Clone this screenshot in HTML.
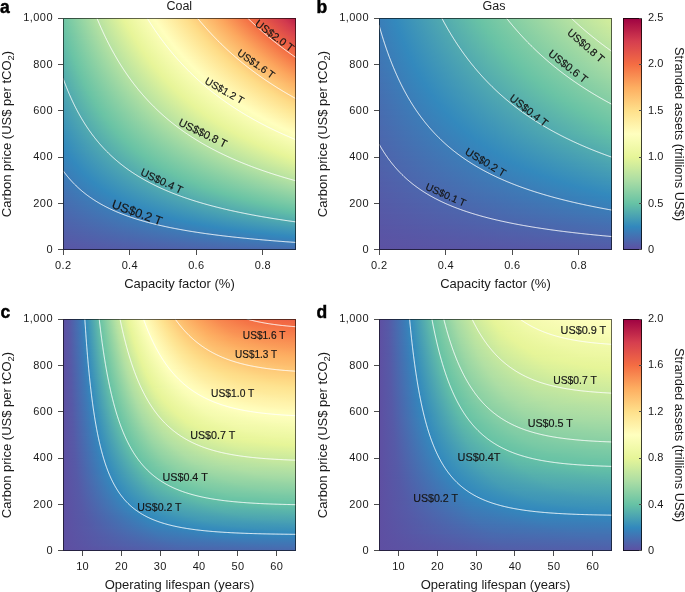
<!DOCTYPE html><html><head><meta charset="utf-8"><style>*{margin:0;padding:0}
html,body{width:685px;height:592px;overflow:hidden;background:#fff}
body{position:relative;font-family:"Liberation Sans",sans-serif;color:#1a1a1a}
.hm{position:absolute}
.hm i{display:block;width:100%}
.cb{position:absolute}
svg{position:absolute;left:0;top:0;filter:grayscale(1)}
</style></head><body><div class="hm" style="left:63px;top:18px;width:233px;height:232px"><i style="height:1px;background:linear-gradient(90deg,#6ec5a5 0.1px,#b5e1a2 32.9px,#e7f599 60.1px,#ffffbe 91.1px,#fedc87 124.9px,#fca75e 157.1px,#f36b43 186.1px,#d23a4e 218.4px,#b81e48 232.9px)"></i><i style="height:1px;background:linear-gradient(90deg,#6ec5a5 0.1px,#b4e1a2 33.1px,#e7f599 60.6px,#ffffbe 91.9px,#fedc87 125.6px,#fca75e 157.9px,#f36c43 187.1px,#d23a4e 219.6px,#bb2149 232.9px)"></i><i style="height:1px;background:linear-gradient(90deg,#6dc5a5 0.1px,#b4e1a2 33.6px,#e7f599 61.1px,#ffffbe 92.4px,#fedc88 126.4px,#fca75e 158.9px,#f36c43 188.1px,#d23a4e 220.9px,#bd2349 232.9px)"></i><i style="height:1px;background:linear-gradient(90deg,#6cc5a5 0.1px,#b4e1a2 33.9px,#e7f599 61.6px,#ffffbe 93.1px,#fedc88 127.1px,#fca75e 159.9px,#f36b43 189.4px,#d13a4e 222.1px,#bf254a 232.9px)"></i><i style="height:1px;background:linear-gradient(90deg,#6cc4a5 0.1px,#b4e1a2 34.4px,#e7f599 62.1px,#fffebe 93.9px,#fedc88 127.9px,#fca75e 160.9px,#f36b43 190.4px,#d23a4e 223.1px,#c1284a 232.9px)"></i><i style="height:1px;background:linear-gradient(90deg,#6bc4a5 0.1px,#b4e1a2 34.9px,#e7f599 62.6px,#ffffbe 94.4px,#fedc87 128.9px,#fca75e 161.6px,#f36c43 191.4px,#d23a4e 224.4px,#c32a4b 232.9px)"></i><i style="height:1px;background:linear-gradient(90deg,#6bc4a5 0.1px,#b4e1a2 35.1px,#e7f599 63.4px,#ffffbe 95.1px,#fedc87 129.6px,#fca75e 162.6px,#f36b43 192.6px,#d23a4e 225.6px,#c52d4b 232.9px)"></i><i style="height:1px;background:linear-gradient(90deg,#6ac4a5 0.1px,#b4e1a2 35.6px,#e7f599 63.9px,#ffffbe 95.9px,#fedc88 130.4px,#fca75e 163.6px,#f36b43 193.6px,#d23a4e 226.9px,#c72f4c 232.9px)"></i><i style="height:1px;background:linear-gradient(90deg,#69c3a5 0.1px,#b4e1a2 36.1px,#e7f599 64.4px,#ffffbe 96.4px,#fedc87 131.4px,#fca75e 164.6px,#f36c43 194.6px,#d23a4e 228.1px,#ca314c 232.9px)"></i><i style="height:1px;background:linear-gradient(90deg,#69c3a5 0.1px,#b4e1a2 36.4px,#e7f599 64.9px,#ffffbe 97.1px,#fedc87 132.1px,#fca75e 165.6px,#f36b43 195.9px,#d23a4e 229.4px,#cc344d 232.9px)"></i><i style="height:1px;background:linear-gradient(90deg,#68c3a5 0.1px,#b4e1a2 36.9px,#e7f599 65.6px,#ffffbe 97.9px,#fedc88 132.9px,#fca75e 166.6px,#f36c43 196.9px,#d23a4e 230.6px,#ce364d 232.9px)"></i><i style="height:1px;background:linear-gradient(90deg,#68c3a5 0.1px,#b4e1a2 37.4px,#e7f599 66.1px,#ffffbe 98.6px,#fedc87 133.9px,#fca75e 167.6px,#f36b43 198.1px,#d23a4e 231.9px,#d0384e 232.9px)"></i><i style="height:1px;background:linear-gradient(90deg,#67c2a5 0.1px,#b4e1a2 37.9px,#e7f599 66.6px,#ffffbe 99.4px,#fedc88 134.6px,#fca75e 168.6px,#f36c43 199.1px,#d23b4e 232.9px)"></i><i style="height:1px;background:linear-gradient(90deg,#67c2a5 0.1px,#b4e1a2 38.4px,#e7f599 67.1px,#ffffbf 99.9px,#fedc87 135.6px,#fca75e 169.6px,#f36b43 200.4px,#d43d4f 232.9px)"></i><i style="height:1px;background:linear-gradient(90deg,#66c2a5 0.1px,#b4e1a2 38.6px,#e7f599 67.9px,#ffffbe 100.6px,#fedc88 136.4px,#fca75e 170.6px,#f36b43 201.6px,#d63f4f 232.9px)"></i><i style="height:1px;background:linear-gradient(90deg,#65c1a5 0.1px,#b5e1a2 39.4px,#e7f599 68.4px,#ffffbe 101.4px,#fedc87 137.4px,#fca75e 171.6px,#f36b43 202.6px,#d7414e 232.9px)"></i><i style="height:1px;background:linear-gradient(90deg,#65c1a5 0.1px,#b5e1a2 39.9px,#e7f599 68.9px,#ffffbe 102.1px,#fedc88 138.1px,#fca75e 172.6px,#f36b43 203.9px,#d8434e 232.9px)"></i><i style="height:1px;background:linear-gradient(90deg,#65c0a6 0.1px,#b5e1a2 40.4px,#e7f599 69.6px,#ffffbe 102.9px,#fedc87 139.1px,#fca75e 173.9px,#f36b43 205.1px,#d9454d 232.9px)"></i><i style="height:1px;background:linear-gradient(90deg,#64c0a6 0.1px,#b5e1a2 41.1px,#e7f599 70.1px,#ffffbe 103.6px,#fedc88 139.9px,#fca75e 174.9px,#f36b43 206.4px,#db474d 232.9px)"></i><i style="height:1px;background:linear-gradient(90deg,#64bfa6 0.1px,#b5e1a2 41.6px,#e7f599 70.9px,#ffffbe 104.4px,#fedc88 140.9px,#fca75e 175.9px,#f36c43 207.4px,#dc484c 232.9px)"></i><i style="height:1px;background:linear-gradient(90deg,#63bfa6 0.1px,#8ed2a4 21.6px,#b7e2a2 43.1px,#e7f599 71.4px,#ffffbe 105.1px,#fedc87 141.9px,#fca75e 177.1px,#f36b43 208.6px,#dd4a4c 232.9px)"></i><i style="height:1px;background:linear-gradient(90deg,#63bea6 0.1px,#76c8a5 10.1px,#b5e1a2 42.4px,#e7f599 72.1px,#ffffbe 105.9px,#fedc87 142.9px,#fca75e 178.1px,#f36b43 209.9px,#de4c4b 232.9px)"></i><i style="height:1px;background:linear-gradient(90deg,#62bea7 0.1px,#71c6a5 7.9px,#b4e1a2 42.6px,#e7f599 72.6px,#ffffbe 106.6px,#fedc88 143.6px,#fca75e 179.1px,#f36b43 211.1px,#df4e4b 232.9px)"></i><i style="height:1px;background:linear-gradient(90deg,#62bda7 0.1px,#6ec5a5 7.1px,#b4e1a2 43.1px,#e7f599 73.4px,#fffebe 107.6px,#fedc88 144.6px,#fca75e 180.4px,#f36b43 212.4px,#e1504a 232.9px)"></i><i style="height:1px;background:linear-gradient(90deg,#61bda7 0.1px,#6ec5a5 7.1px,#b4e1a2 43.6px,#e7f599 73.9px,#ffffbe 108.4px,#fedc88 145.6px,#fca75e 181.4px,#f36b43 213.6px,#e2524a 232.9px)"></i><i style="height:1px;background:linear-gradient(90deg,#61bca7 0.1px,#6dc5a5 7.1px,#b4e1a2 44.1px,#e7f599 74.6px,#ffffbe 109.1px,#fedc87 146.6px,#fca75e 182.6px,#f36c43 214.9px,#e3534a 232.9px)"></i><i style="height:1px;background:linear-gradient(90deg,#61bca8 0.1px,#6cc4a5 6.9px,#b4e1a2 44.6px,#e7f599 75.1px,#ffffbe 109.9px,#fedc87 147.6px,#fca75e 183.6px,#f36c43 216.1px,#e45549 232.9px)"></i><i style="height:1px;background:linear-gradient(90deg,#60bba8 0.1px,#6cc4a5 7.1px,#b4e1a2 45.1px,#e7f599 75.9px,#ffffbe 110.6px,#fedc87 148.6px,#fca75e 184.9px,#f36b43 217.6px,#e65749 232.9px)"></i><i style="height:1px;background:linear-gradient(90deg,#60bba8 0.1px,#6cc4a5 7.4px,#b4e1a2 45.6px,#e7f599 76.6px,#ffffbe 111.6px,#fedc87 149.6px,#fca75e 185.9px,#f36b43 218.9px,#e75948 232.9px)"></i><i style="height:1px;background:linear-gradient(90deg,#5fbaa8 0.1px,#6bc4a5 7.6px,#b4e1a2 46.1px,#e7f599 77.1px,#ffffbe 112.4px,#fedc87 150.6px,#fca75e 187.1px,#f36b43 220.1px,#e85b48 232.9px)"></i><i style="height:1px;background:linear-gradient(90deg,#5fbaa8 0.1px,#6bc4a5 7.6px,#b4e1a2 46.6px,#e7f599 77.9px,#ffffbe 113.1px,#fedc87 151.6px,#fca75e 188.4px,#f36b43 221.6px,#e95d47 232.9px)"></i><i style="height:1px;background:linear-gradient(90deg,#5eb9a9 0.1px,#6bc4a5 8.1px,#b4e1a2 47.1px,#e7f599 78.6px,#ffffbe 114.1px,#fedc87 152.6px,#fca75e 189.6px,#f36b43 222.9px,#ea5e47 232.9px)"></i><i style="height:1px;background:linear-gradient(90deg,#5eb9a9 0.1px,#6bc4a5 8.4px,#b4e1a2 47.6px,#e7f599 79.1px,#ffffbe 114.9px,#fedc88 153.6px,#fca75e 190.9px,#f36c43 224.1px,#ec6046 232.9px)"></i><i style="height:1px;background:linear-gradient(90deg,#5db8a9 0.1px,#6bc4a5 8.6px,#b4e1a2 48.1px,#e7f599 79.9px,#fffebe 115.9px,#fedc88 154.6px,#fca75e 191.9px,#f36b43 225.6px,#ed6246 232.9px)"></i><i style="height:1px;background:linear-gradient(90deg,#5db8a9 0.1px,#6ac4a5 8.9px,#b4e1a2 48.9px,#e7f599 80.6px,#ffffbe 116.6px,#fedc88 155.6px,#fca75e 193.1px,#f36c43 226.9px,#ee6445 232.9px)"></i><i style="height:1px;background:linear-gradient(90deg,#5cb7a9 0.1px,#6ac4a5 9.1px,#b4e1a2 49.4px,#e7f599 81.4px,#ffffbe 117.4px,#fedc87 156.9px,#fca75e 194.4px,#f36b43 228.4px,#ef6645 232.9px)"></i><i style="height:1px;background:linear-gradient(90deg,#5cb7aa 0.1px,#6bc4a5 9.6px,#b4e1a2 49.9px,#e7f599 81.9px,#ffffbe 118.4px,#fedc87 157.9px,#fca75e 195.6px,#f36b43 229.9px,#f06844 232.9px)"></i><i style="height:1px;background:linear-gradient(90deg,#5cb6aa 0.1px,#6ac4a5 9.9px,#b4e1a2 50.4px,#e7f599 82.6px,#fffebe 119.4px,#fedc88 158.9px,#fca75e 196.9px,#f36c43 231.1px,#f26944 232.9px)"></i><i style="height:1px;background:linear-gradient(90deg,#5bb6aa 0.1px,#6ac4a5 10.1px,#b4e1a2 50.9px,#e7f599 83.4px,#ffffbe 120.1px,#fedc88 159.9px,#fca75e 198.1px,#f36b43 232.6px,#f36b43 232.9px)"></i><i style="height:1px;background:linear-gradient(90deg,#5bb5aa 0.1px,#6ac4a5 10.6px,#b4e1a2 51.6px,#e7f599 84.1px,#ffffbe 121.1px,#fedc88 161.1px,#fca75e 199.6px,#f46d43 232.9px)"></i><i style="height:1px;background:linear-gradient(90deg,#5ab5aa 0.1px,#6ac4a5 10.9px,#b4e1a2 52.1px,#e7f599 84.9px,#fffebe 122.1px,#fedc88 162.1px,#fca75e 200.9px,#f47044 232.9px)"></i><i style="height:1px;background:linear-gradient(90deg,#5ab4ab 0.1px,#6ac4a5 11.4px,#b4e1a2 52.9px,#e7f599 85.6px,#ffffbe 122.9px,#fedc87 163.4px,#fca75e 202.1px,#f57245 232.9px)"></i><i style="height:1px;background:linear-gradient(90deg,#59b4ab 0.1px,#6ac4a5 11.6px,#b4e1a2 53.4px,#e7f599 86.4px,#ffffbe 123.9px,#fedc88 164.4px,#fca75e 203.4px,#f57546 232.9px)"></i><i style="height:1px;background:linear-gradient(90deg,#59b3ab 0.1px,#6ac3a5 11.9px,#b4e1a2 53.9px,#e7f599 87.1px,#ffffbe 124.9px,#fedc88 165.6px,#fca75e 204.9px,#f57748 232.9px)"></i><i style="height:1px;background:linear-gradient(90deg,#58b3ab 0.1px,#6ac4a5 12.4px,#b4e1a2 54.6px,#e7f599 87.9px,#fffebe 125.9px,#fedc87 166.9px,#fca75e 206.1px,#f67a49 232.9px)"></i><i style="height:1px;background:linear-gradient(90deg,#58b2ab 0.1px,#6ac3a5 12.6px,#b4e1a2 55.1px,#e7f599 88.6px,#ffffbe 126.6px,#fedc88 167.9px,#fca75e 207.6px,#f67c4a 232.9px)"></i><i style="height:1px;background:linear-gradient(90deg,#58b2ac 0.1px,#6ac4a5 13.1px,#b4e1a2 55.6px,#e7f599 89.4px,#ffffbe 127.6px,#fedc88 169.1px,#fca75e 208.9px,#f67f4b 232.9px)"></i><i style="height:1px;background:linear-gradient(90deg,#57b1ac 0.1px,#6ac4a5 13.6px,#b4e1a2 56.4px,#e7f599 90.4px,#ffffbe 128.6px,#fedc87 170.4px,#fca75e 210.4px,#f7814c 232.9px)"></i><i style="height:1px;background:linear-gradient(90deg,#57b1ac 0.1px,#6ac3a5 13.9px,#b4e1a2 56.9px,#e7f599 91.1px,#ffffbe 129.6px,#fedc87 171.6px,#fca75e 211.6px,#f7844e 232.9px)"></i><i style="height:1px;background:linear-gradient(90deg,#56b0ac 0.1px,#6ac4a5 14.4px,#b4e1a2 57.6px,#e7f599 91.9px,#ffffbe 130.6px,#fedc87 172.9px,#fca75e 213.1px,#f8864f 232.9px)"></i><i style="height:1px;background:linear-gradient(90deg,#56b0ad 0.1px,#6ac3a5 14.6px,#b4e1a2 58.4px,#e7f599 92.6px,#ffffbe 131.6px,#fedc88 173.9px,#fca75e 214.6px,#f88950 232.9px)"></i><i style="height:1px;background:linear-gradient(90deg,#55afad 0.1px,#6ac3a5 15.1px,#b4e1a2 58.9px,#e7f599 93.6px,#ffffbe 132.6px,#fedc88 175.1px,#fca75e 216.1px,#f88b51 232.9px)"></i><i style="height:1px;background:linear-gradient(90deg,#55afad 0.1px,#6ac4a5 15.6px,#b4e1a2 59.6px,#e7f599 94.4px,#fffebe 133.9px,#fedc88 176.4px,#fca75e 217.4px,#f98e52 232.9px)"></i><i style="height:1px;background:linear-gradient(90deg,#54aead 0.1px,#6ac3a5 15.9px,#b4e1a2 60.1px,#e7f599 95.1px,#ffffbe 134.9px,#fedc87 177.9px,#fca75e 219.1px,#f99053 232.9px)"></i><i style="height:1px;background:linear-gradient(90deg,#54aead 0.1px,#6ac3a5 16.4px,#b4e1a2 60.9px,#e7f599 96.1px,#ffffbe 135.9px,#fedc87 179.1px,#fca75e 220.6px,#f99355 232.9px)"></i><i style="height:1px;background:linear-gradient(90deg,#53adae 0.1px,#6ac4a5 16.9px,#b4e1a2 61.6px,#e7f599 96.9px,#ffffbe 136.9px,#fedc87 180.4px,#fca75e 222.1px,#fa9556 232.9px)"></i><i style="height:1px;background:linear-gradient(90deg,#53adae 0.1px,#6ac3a5 17.1px,#b4e1a2 62.4px,#e7f599 97.9px,#fffebe 138.1px,#fedc88 181.6px,#fca75e 223.6px,#fa9857 232.9px)"></i><i style="height:1px;background:linear-gradient(90deg,#53acae 0.1px,#6ac3a5 17.6px,#b4e1a2 62.9px,#e7f599 98.6px,#ffffbe 139.1px,#fedc88 182.9px,#fca75e 225.1px,#fa9b58 232.9px)"></i><i style="height:1px;background:linear-gradient(90deg,#52acae 0.1px,#6ac3a5 18.1px,#b4e1a2 63.6px,#e7f599 99.6px,#ffffbe 140.1px,#fedc87 184.4px,#fca75e 226.6px,#fb9d59 232.9px)"></i><i style="height:1px;background:linear-gradient(90deg,#52abae 0.1px,#6ac3a5 18.6px,#b4e1a2 64.4px,#e7f599 100.4px,#ffffbe 141.4px,#fedc88 185.6px,#fca75e 228.1px,#fba05a 232.9px)"></i><i style="height:1px;background:linear-gradient(90deg,#51abaf 0.1px,#6ac3a5 19.1px,#b4e1a2 65.1px,#e7f599 101.4px,#ffffbe 142.4px,#fedc87 187.1px,#fca75e 229.9px,#fba25c 232.9px)"></i><i style="height:1px;background:linear-gradient(90deg,#51aaaf 0.1px,#69c3a5 19.4px,#b4e1a2 65.6px,#e7f599 102.4px,#ffffbe 143.6px,#fedc88 188.4px,#fca75e 231.4px,#fca55d 232.9px)"></i><i style="height:1px;background:linear-gradient(90deg,#50aaaf 0.1px,#6ac3a5 19.9px,#b4e1a2 66.4px,#e7f599 103.1px,#ffffbe 144.6px,#fedc87 189.9px,#fca75e 232.9px)"></i><i style="height:1px;background:linear-gradient(90deg,#50a9af 0.1px,#6ac3a5 20.4px,#b4e1a2 67.1px,#e7f599 104.1px,#ffffbe 145.9px,#fedc88 191.1px,#fcaa5f 232.9px)"></i><i style="height:1px;background:linear-gradient(90deg,#4fa9af 0.1px,#6ac3a5 20.9px,#b4e1a2 67.9px,#e7f599 105.1px,#ffffbe 147.1px,#fedc88 192.6px,#fdac60 232.9px)"></i><i style="height:1px;background:linear-gradient(90deg,#4fa8b0 0.1px,#6ac3a5 21.4px,#b4e1a2 68.6px,#e7f599 106.1px,#ffffbe 148.4px,#fedc87 194.1px,#fdaf62 232.9px)"></i><i style="height:1px;background:linear-gradient(90deg,#4ea8b0 0.1px,#6ac3a5 21.9px,#b4e1a2 69.4px,#e7f599 106.9px,#ffffbe 149.4px,#fedc87 195.6px,#fdb163 232.9px)"></i><i style="height:1px;background:linear-gradient(90deg,#4ea7b0 0.1px,#6ac3a5 22.4px,#b4e1a2 70.1px,#e7f599 107.9px,#ffffbe 150.6px,#fedc87 197.1px,#fdb265 232.9px)"></i><i style="height:1px;background:linear-gradient(90deg,#4ea7b0 0.1px,#6ac3a5 22.9px,#b4e1a2 70.9px,#e7f599 108.9px,#ffffbe 151.9px,#fedc87 198.6px,#fdb466 232.9px)"></i><i style="height:1px;background:linear-gradient(90deg,#4da6b0 0.1px,#6ac3a5 23.4px,#b4e1a2 71.9px,#e7f599 109.9px,#ffffbe 153.1px,#fedc87 200.1px,#fdb668 232.9px)"></i><i style="height:1px;background:linear-gradient(90deg,#4da6b1 0.1px,#6ac3a5 23.9px,#b4e1a2 72.6px,#e7f599 110.9px,#ffffbe 154.4px,#fedc87 201.6px,#fdb86a 232.9px)"></i><i style="height:1px;background:linear-gradient(90deg,#4ca5b1 0.1px,#6ac3a5 24.4px,#b4e1a2 73.4px,#e7f599 111.9px,#ffffbe 155.6px,#fedc87 203.1px,#fdba6b 232.9px)"></i><i style="height:1px;background:linear-gradient(90deg,#4ca5b1 0.1px,#6ac3a5 24.9px,#b4e1a2 74.1px,#e7f599 113.1px,#fffebe 157.1px,#fedc88 204.6px,#fdbc6d 232.9px)"></i><i style="height:1px;background:linear-gradient(90deg,#4ba4b1 0.1px,#69c3a5 25.4px,#b4e1a2 75.1px,#e7f599 114.1px,#ffffbe 158.4px,#fedc87 206.4px,#fdbe6f 232.9px)"></i><i style="height:1px;background:linear-gradient(90deg,#4ba4b2 0.1px,#69c3a5 25.9px,#b4e1a2 75.9px,#e7f599 115.1px,#ffffbe 159.6px,#fedc87 207.9px,#fdc070 232.9px)"></i><i style="height:1px;background:linear-gradient(90deg,#4aa3b2 0.1px,#69c3a5 26.4px,#b4e1a2 76.6px,#e7f599 116.1px,#ffffbe 160.9px,#fedc88 209.4px,#fdc272 232.9px)"></i><i style="height:1px;background:linear-gradient(90deg,#4aa3b2 0.1px,#6ac3a5 27.1px,#b4e1a2 77.6px,#e7f599 117.4px,#ffffbe 162.4px,#fedc88 211.1px,#fdc473 232.9px)"></i><i style="height:1px;background:linear-gradient(90deg,#4aa2b2 0.1px,#6ac3a5 27.6px,#b4e1a2 78.4px,#e7f599 118.4px,#ffffbe 163.6px,#fedc87 212.9px,#fdc675 232.9px)"></i><i style="height:1px;background:linear-gradient(90deg,#49a2b2 0.1px,#69c3a5 28.1px,#b4e1a2 79.4px,#e7f599 119.6px,#ffffbe 165.1px,#fedc88 214.4px,#fec877 232.9px)"></i><i style="height:1px;background:linear-gradient(90deg,#49a1b3 0.1px,#69c3a5 28.6px,#b4e1a2 80.1px,#e7f599 120.6px,#ffffbe 166.4px,#fedc88 216.1px,#feca78 232.9px)"></i><i style="height:1px;background:linear-gradient(90deg,#48a1b3 0.1px,#6ac3a5 29.4px,#b4e1a2 81.1px,#e7f599 121.9px,#ffffbe 167.9px,#fedc88 217.9px,#fecc7a 232.9px)"></i><i style="height:1px;background:linear-gradient(90deg,#48a0b3 0.1px,#69c3a5 29.9px,#b4e1a2 81.9px,#e7f599 122.9px,#ffffbe 169.4px,#fedc87 219.6px,#fece7c 232.9px)"></i><i style="height:1px;background:linear-gradient(90deg,#47a0b3 0.1px,#69c3a5 30.4px,#b4e1a2 82.9px,#e7f599 124.1px,#fffebe 170.9px,#fedc88 221.4px,#fed07d 232.9px)"></i><i style="height:1px;background:linear-gradient(90deg,#479fb3 0.1px,#6ac3a5 31.1px,#b4e1a2 83.9px,#e7f599 125.4px,#ffffbe 172.1px,#fedc88 223.1px,#fed27f 232.9px)"></i><i style="height:1px;background:linear-gradient(90deg,#469fb4 0.1px,#69c3a5 31.6px,#b4e1a2 84.6px,#e7f599 126.4px,#ffffbe 173.6px,#fedc88 224.9px,#fed481 232.9px)"></i><i style="height:1px;background:linear-gradient(90deg,#469eb4 0.1px,#6ac3a5 32.4px,#b4e1a2 85.6px,#e7f599 127.6px,#ffffbe 175.1px,#fedc87 226.9px,#fed682 232.9px)"></i><i style="height:1px;background:linear-gradient(90deg,#459eb4 0.1px,#69c3a5 32.9px,#b4e1a2 86.6px,#e7f599 128.9px,#fffebe 176.9px,#fedc88 228.6px,#fed784 232.9px)"></i><i style="height:1px;background:linear-gradient(90deg,#459db4 0.1px,#6ac3a5 33.6px,#b4e1a2 87.6px,#e7f599 130.1px,#ffffbe 178.4px,#fedc87 230.6px,#fed985 232.9px)"></i><i style="height:1px;background:linear-gradient(90deg,#459db4 0.1px,#69c3a5 34.1px,#b4e1a2 88.6px,#e7f599 131.4px,#ffffbe 179.9px,#fedc88 232.4px,#fedb87 232.9px)"></i><i style="height:1px;background:linear-gradient(90deg,#449cb5 0.1px,#6ac3a5 34.9px,#b4e1a2 89.6px,#e7f599 132.6px,#ffffbe 181.4px,#fedd89 232.9px)"></i><i style="height:1px;background:linear-gradient(90deg,#449cb5 0.1px,#69c3a5 35.4px,#b4e1a2 90.6px,#e7f599 133.9px,#ffffbe 183.1px,#fedf8a 232.9px)"></i><i style="height:1px;background:linear-gradient(90deg,#439bb5 0.1px,#69c3a5 36.1px,#b4e1a2 91.6px,#e7f599 135.4px,#ffffbe 184.6px,#fee18c 232.9px)"></i><i style="height:1px;background:linear-gradient(90deg,#439bb5 0.1px,#6ac3a5 36.9px,#b4e1a2 92.6px,#e7f599 136.6px,#ffffbe 186.4px,#fee28e 232.9px)"></i><i style="height:1px;background:linear-gradient(90deg,#429ab5 0.1px,#69c3a5 37.4px,#b4e1a2 93.6px,#e7f599 137.9px,#fffebe 188.1px,#fee390 232.9px)"></i><i style="height:1px;background:linear-gradient(90deg,#429ab6 0.1px,#69c3a5 38.1px,#b4e1a2 94.9px,#e7f599 139.4px,#ffffbe 189.6px,#fee492 232.9px)"></i><i style="height:1px;background:linear-gradient(90deg,#4199b6 0.1px,#69c3a5 38.9px,#b4e1a2 95.9px,#e7f599 140.6px,#ffffbe 191.4px,#fee694 232.9px)"></i><i style="height:1px;background:linear-gradient(90deg,#4199b6 0.1px,#69c3a5 39.6px,#b4e1a2 96.9px,#e7f599 142.1px,#ffffbe 193.1px,#fee796 232.9px)"></i><i style="height:1px;background:linear-gradient(90deg,#4198b6 0.1px,#6ac3a5 40.4px,#b4e1a2 98.1px,#e7f599 143.4px,#ffffbe 194.9px,#fee898 232.9px)"></i><i style="height:1px;background:linear-gradient(90deg,#4098b7 0.1px,#6ac3a5 41.1px,#b4e1a2 99.1px,#e7f599 144.9px,#ffffbe 196.6px,#fee99a 232.9px)"></i><i style="height:1px;background:linear-gradient(90deg,#4097b7 0.1px,#6ac3a5 41.9px,#b4e1a2 100.4px,#e7f599 146.4px,#fffebe 198.6px,#feea9c 232.9px)"></i><i style="height:1px;background:linear-gradient(90deg,#3f97b7 0.1px,#6ac3a5 42.6px,#b4e1a2 101.4px,#e7f599 147.9px,#ffffbe 200.4px,#feec9e 232.9px)"></i><i style="height:1px;background:linear-gradient(90deg,#3f96b7 0.1px,#6ac3a5 43.4px,#b4e1a2 102.6px,#e7f599 149.4px,#ffffbe 202.1px,#feeda1 232.9px)"></i><i style="height:1px;background:linear-gradient(90deg,#3e96b7 0.1px,#6ac3a5 44.1px,#b4e1a2 103.9px,#e7f599 150.9px,#ffffbe 204.1px,#feeea3 232.9px)"></i><i style="height:1px;background:linear-gradient(90deg,#3e95b8 0.1px,#69c3a5 44.9px,#b4e1a2 105.1px,#e7f599 152.4px,#fffebe 206.1px,#feefa5 232.9px)"></i><i style="height:1px;background:linear-gradient(90deg,#3d95b8 0.1px,#69c3a5 45.6px,#b4e1a2 106.4px,#e7f599 153.9px,#ffffbe 207.9px,#fff0a7 232.9px)"></i><i style="height:1px;background:linear-gradient(90deg,#3d94b8 0.1px,#69c3a5 46.4px,#b4e1a2 107.6px,#e7f599 155.6px,#ffffbe 209.9px,#fff2a9 232.9px)"></i><i style="height:1px;background:linear-gradient(90deg,#3c94b8 0.1px,#69c3a5 47.1px,#b4e1a2 108.9px,#e7f599 157.1px,#ffffbe 211.9px,#fff3ab 232.9px)"></i><i style="height:1px;background:linear-gradient(90deg,#3c93b8 0.1px,#69c3a5 48.1px,#b4e1a2 110.1px,#e7f599 158.9px,#ffffbe 213.9px,#fff4ad 232.9px)"></i><i style="height:1px;background:linear-gradient(90deg,#3c93b9 0.1px,#69c3a5 48.9px,#b4e1a2 111.4px,#e7f599 160.4px,#fffebe 216.1px,#fff5af 232.9px)"></i><i style="height:1px;background:linear-gradient(90deg,#3b92b9 0.1px,#6ac3a5 49.9px,#b4e1a2 112.6px,#e7f599 162.1px,#ffffbe 218.1px,#fff6b1 232.9px)"></i><i style="height:1px;background:linear-gradient(90deg,#3b92b9 0.1px,#69c3a5 50.6px,#b4e1a2 114.1px,#e7f599 163.9px,#ffffbe 220.1px,#fff8b3 232.9px)"></i><i style="height:1px;background:linear-gradient(90deg,#3a91b9 0.1px,#69c3a5 51.4px,#b4e1a2 115.4px,#e7f599 165.6px,#ffffbe 222.4px,#fff9b5 232.9px)"></i><i style="height:1px;background:linear-gradient(90deg,#3a91b9 0.1px,#69c3a5 52.4px,#b4e1a2 116.6px,#e7f599 167.4px,#ffffbe 224.6px,#fffab7 232.9px)"></i><i style="height:1px;background:linear-gradient(90deg,#3990ba 0.1px,#69c3a5 53.4px,#b4e1a2 118.1px,#e7f599 169.1px,#fffebe 226.9px,#fffbb9 232.9px)"></i><i style="height:1px;background:linear-gradient(90deg,#3990ba 0.1px,#69c3a5 54.1px,#b4e1a2 119.6px,#e7f599 170.9px,#fffebe 229.1px,#fffdbb 232.9px)"></i><i style="height:1px;background:linear-gradient(90deg,#388fba 0.1px,#69c3a5 55.1px,#b4e1a2 120.9px,#e7f599 172.6px,#fffebe 231.4px,#fffebd 232.9px)"></i><i style="height:1px;background:linear-gradient(90deg,#388fba 0.1px,#69c3a5 56.1px,#b4e1a2 122.4px,#e7f599 174.6px,#ffffbf 232.9px)"></i><i style="height:1px;background:linear-gradient(90deg,#378eba 0.1px,#69c3a5 57.1px,#b4e1a2 123.9px,#e7f599 176.4px,#feffbe 232.9px)"></i><i style="height:1px;background:linear-gradient(90deg,#378ebb 0.1px,#69c3a5 58.1px,#b4e1a2 125.4px,#e7f599 178.4px,#fdfebc 232.9px)"></i><i style="height:1px;background:linear-gradient(90deg,#378dbb 0.1px,#6ac3a5 59.1px,#b4e1a2 126.9px,#e7f599 180.4px,#fcfebb 232.9px)"></i><i style="height:1px;background:linear-gradient(90deg,#368dbb 0.1px,#69c3a5 60.1px,#b4e1a2 128.6px,#e7f599 182.4px,#fbfdb9 232.9px)"></i><i style="height:1px;background:linear-gradient(90deg,#368cbb 0.1px,#69c3a5 61.1px,#b4e1a2 130.1px,#e7f599 184.4px,#fafdb8 232.9px)"></i><i style="height:1px;background:linear-gradient(90deg,#358cbc 0.1px,#69c3a5 62.1px,#b4e1a2 131.6px,#e7f599 186.4px,#f9fdb6 232.9px)"></i><i style="height:1px;background:linear-gradient(90deg,#358bbc 0.1px,#69c3a5 63.1px,#b4e1a2 133.4px,#e7f599 188.4px,#f8fcb4 232.9px)"></i><i style="height:1px;background:linear-gradient(90deg,#348bbc 0.1px,#69c3a5 64.1px,#b4e1a2 134.9px,#e7f599 190.6px,#f7fcb3 232.9px)"></i><i style="height:1px;background:linear-gradient(90deg,#348abc 0.1px,#69c3a5 65.4px,#b4e1a2 136.6px,#e7f599 192.6px,#f6fcb1 232.9px)"></i><i style="height:1px;background:linear-gradient(90deg,#338abc 0.1px,#69c3a5 66.4px,#b4e1a2 138.4px,#e7f599 194.9px,#f5fbb0 232.9px)"></i><i style="height:1px;background:linear-gradient(90deg,#3389bd 0.1px,#69c3a5 67.6px,#b4e1a2 140.1px,#e7f599 197.1px,#f4fbae 232.9px)"></i><i style="height:1px;background:linear-gradient(90deg,#3389bd 0.1px,#69c3a5 68.6px,#b4e1a2 141.9px,#e7f599 199.4px,#f3faad 232.9px)"></i><i style="height:1px;background:linear-gradient(90deg,#3288bd 0.1px,#69c3a5 69.9px,#b4e1a2 143.6px,#e7f599 201.6px,#f2faab 232.9px)"></i><i style="height:1px;background:linear-gradient(90deg,#3288bd 0.1px,#69c3a5 71.1px,#b4e1a2 145.6px,#e7f599 204.1px,#f1faaa 232.9px)"></i><i style="height:1px;background:linear-gradient(90deg,#3387bd 0.1px,#67c2a5 69.9px,#b4e1a2 147.4px,#e7f599 206.4px,#f0f9a8 232.9px)"></i><i style="height:1px;background:linear-gradient(90deg,#3387bc 0.1px,#348bbc 4.9px,#69c3a5 73.6px,#b4e1a2 149.4px,#e7f599 208.9px,#eff9a7 232.9px)"></i><i style="height:1px;background:linear-gradient(90deg,#3386bc 0.1px,#338abc 4.4px,#69c3a5 74.9px,#b4e1a2 151.4px,#e7f599 211.4px,#eff8a5 232.9px)"></i><i style="height:1px;background:linear-gradient(90deg,#3486bc 0.1px,#338abc 4.9px,#69c3a5 76.1px,#b4e1a2 153.1px,#e7f599 213.9px,#eef8a4 232.9px)"></i><i style="height:1px;background:linear-gradient(90deg,#3485bc 0.1px,#3389bd 5.1px,#69c3a5 77.4px,#b4e1a2 155.1px,#e7f599 216.4px,#edf8a2 232.9px)"></i><i style="height:1px;background:linear-gradient(90deg,#3585bb 0.1px,#3389bc 5.9px,#69c3a5 78.6px,#b4e1a2 157.4px,#e7f599 219.1px,#ecf7a1 232.9px)"></i><i style="height:1px;background:linear-gradient(90deg,#3584bb 0.1px,#3389bd 6.4px,#69c3a5 80.1px,#b4e1a2 159.4px,#e7f599 221.6px,#ebf79f 232.9px)"></i><i style="height:1px;background:linear-gradient(90deg,#3584bb 0.1px,#3389bd 6.9px,#69c3a5 81.4px,#b4e1a2 161.4px,#e7f599 224.4px,#eaf69e 232.9px)"></i><i style="height:1px;background:linear-gradient(90deg,#3683bb 0.1px,#3389bd 7.6px,#69c3a5 82.9px,#b4e1a2 163.6px,#e7f599 227.1px,#e9f69c 232.9px)"></i><i style="height:1px;background:linear-gradient(90deg,#3683ba 0.1px,#3389bd 8.4px,#69c3a5 84.4px,#b4e1a2 165.9px,#e7f599 229.9px,#e8f69b 232.9px)"></i><i style="height:1px;background:linear-gradient(90deg,#3782ba 0.1px,#3389bd 9.1px,#69c3a5 85.6px,#b4e1a2 168.1px,#e7f599 232.9px)"></i><i style="height:1px;background:linear-gradient(90deg,#3782ba 0.1px,#3389bd 9.6px,#69c3a5 87.1px,#b4e1a2 170.4px,#e5f598 232.9px)"></i><i style="height:1px;background:linear-gradient(90deg,#3781ba 0.1px,#3389bd 10.4px,#69c3a5 88.6px,#b4e1a2 172.6px,#e3f499 232.9px)"></i><i style="height:1px;background:linear-gradient(90deg,#3881ba 0.1px,#3389bd 11.1px,#69c3a5 90.4px,#b4e1a2 175.1px,#e1f399 232.9px)"></i><i style="height:1px;background:linear-gradient(90deg,#3880b9 0.1px,#3389bd 11.9px,#69c3a5 91.9px,#b4e1a2 177.6px,#dff29a 232.9px)"></i><i style="height:1px;background:linear-gradient(90deg,#3880b9 0.1px,#3389bd 12.9px,#69c3a5 93.4px,#b4e1a2 180.1px,#dcf19a 232.9px)"></i><i style="height:1px;background:linear-gradient(90deg,#397fb9 0.1px,#3389bd 13.6px,#69c3a5 95.1px,#b4e1a2 182.6px,#daf09a 232.9px)"></i><i style="height:1px;background:linear-gradient(90deg,#397fb9 0.1px,#3389bd 14.4px,#69c3a5 96.9px,#b4e1a2 185.1px,#d8ef9b 232.9px)"></i><i style="height:1px;background:linear-gradient(90deg,#3a7eb8 0.1px,#3389bd 15.1px,#6ac3a5 98.6px,#b4e1a2 187.9px,#d5ee9b 232.9px)"></i><i style="height:1px;background:linear-gradient(90deg,#3a7eb8 0.1px,#3389bd 16.1px,#69c3a5 100.1px,#b4e1a2 190.4px,#d3ed9c 232.9px)"></i><i style="height:1px;background:linear-gradient(90deg,#3a7db8 0.1px,#3389bd 16.9px,#69c3a5 102.1px,#b4e1a2 193.1px,#d1ec9c 232.9px)"></i><i style="height:1px;background:linear-gradient(90deg,#3b7db8 0.1px,#3389bd 17.9px,#69c3a5 103.9px,#b4e1a2 196.1px,#ceeb9d 232.9px)"></i><i style="height:1px;background:linear-gradient(90deg,#3b7cb7 0.1px,#3389bd 18.9px,#69c3a5 105.6px,#b4e1a2 198.9px,#ccea9d 232.9px)"></i><i style="height:1px;background:linear-gradient(90deg,#3b7cb7 0.1px,#3389bd 19.6px,#69c3a5 107.6px,#b4e1a2 201.9px,#caea9e 232.9px)"></i><i style="height:1px;background:linear-gradient(90deg,#3c7bb7 0.1px,#3389bd 20.6px,#69c3a5 109.6px,#b4e1a2 204.9px,#c8e99e 232.9px)"></i><i style="height:1px;background:linear-gradient(90deg,#3c7bb7 0.1px,#3389bd 21.6px,#69c3a5 111.6px,#b4e1a2 207.9px,#c5e89f 232.9px)"></i><i style="height:1px;background:linear-gradient(90deg,#3d7ab6 0.1px,#3389bd 22.6px,#69c3a5 113.6px,#b4e1a2 211.1px,#c3e79f 232.9px)"></i><i style="height:1px;background:linear-gradient(90deg,#3d7ab6 0.1px,#3389bd 23.6px,#69c3a5 115.6px,#b4e1a2 214.4px,#c1e6a0 232.9px)"></i><i style="height:1px;background:linear-gradient(90deg,#3d79b6 0.1px,#3389bd 24.9px,#69c3a5 117.9px,#b4e1a2 217.6px,#bee5a0 232.9px)"></i><i style="height:1px;background:linear-gradient(90deg,#3e79b6 0.1px,#3389bd 25.9px,#6ac3a5 120.1px,#b4e1a2 220.9px,#bce4a1 232.9px)"></i><i style="height:1px;background:linear-gradient(90deg,#3e78b6 0.1px,#3389bd 26.9px,#69c3a5 122.1px,#b4e1a2 224.4px,#bae3a1 232.9px)"></i><i style="height:1px;background:linear-gradient(90deg,#3f78b5 0.1px,#3389bd 28.1px,#69c3a5 124.6px,#b4e1a2 227.9px,#b7e2a1 232.9px)"></i><i style="height:1px;background:linear-gradient(90deg,#3f77b5 0.1px,#3389bd 29.4px,#69c3a5 126.9px,#b4e1a2 231.6px,#b5e1a2 232.9px)"></i><i style="height:1px;background:linear-gradient(90deg,#3f77b5 0.1px,#3389bd 30.4px,#69c3a5 129.4px,#b3e0a2 232.9px)"></i><i style="height:1px;background:linear-gradient(90deg,#4076b5 0.1px,#3389bd 31.6px,#69c3a5 131.6px,#b1dfa3 232.9px)"></i><i style="height:1px;background:linear-gradient(90deg,#4076b4 0.1px,#3389bd 32.9px,#69c3a5 134.4px,#aedea3 232.9px)"></i><i style="height:1px;background:linear-gradient(90deg,#4075b4 0.1px,#3389bd 34.1px,#69c3a5 136.9px,#acdda4 232.9px)"></i><i style="height:1px;background:linear-gradient(90deg,#4175b4 0.1px,#3389bd 35.6px,#69c3a5 139.6px,#a9dca4 232.9px)"></i><i style="height:1px;background:linear-gradient(90deg,#4174b4 0.1px,#3389bd 36.9px,#6ac3a5 142.4px,#a7dba4 232.9px)"></i><i style="height:1px;background:linear-gradient(90deg,#4274b3 0.1px,#3389bd 38.1px,#69c3a5 145.1px,#a4daa4 232.9px)"></i><i style="height:1px;background:linear-gradient(90deg,#4273b3 0.1px,#3389bd 39.6px,#69c3a5 147.9px,#a1d9a4 232.9px)"></i><i style="height:1px;background:linear-gradient(90deg,#4273b3 0.1px,#3389bd 41.1px,#69c3a5 150.9px,#9fd8a4 232.9px)"></i><i style="height:1px;background:linear-gradient(90deg,#4372b3 0.1px,#3389bd 42.6px,#69c3a5 153.9px,#9cd7a4 232.9px)"></i><i style="height:1px;background:linear-gradient(90deg,#4372b3 0.1px,#3389bd 44.1px,#69c3a5 157.1px,#99d6a4 232.9px)"></i><i style="height:1px;background:linear-gradient(90deg,#4371b2 0.1px,#3389bd 45.9px,#69c3a5 160.4px,#97d5a4 232.9px)"></i><i style="height:1px;background:linear-gradient(90deg,#4471b2 0.1px,#3389bd 47.4px,#69c3a5 163.6px,#94d4a4 232.9px)"></i><i style="height:1px;background:linear-gradient(90deg,#4470b2 0.1px,#3389bd 49.1px,#69c3a5 167.1px,#91d3a4 232.9px)"></i><i style="height:1px;background:linear-gradient(90deg,#4570b2 0.1px,#3389bd 50.9px,#69c3a5 170.6px,#8fd2a4 232.9px)"></i><i style="height:1px;background:linear-gradient(90deg,#456fb1 0.1px,#3389bd 52.6px,#69c3a5 174.1px,#8cd1a4 232.9px)"></i><i style="height:1px;background:linear-gradient(90deg,#456fb1 0.1px,#3389bd 54.6px,#69c3a5 177.9px,#89d0a4 232.9px)"></i><i style="height:1px;background:linear-gradient(90deg,#466eb1 0.1px,#3389bd 56.4px,#6ac3a5 181.9px,#87cfa5 232.9px)"></i><i style="height:1px;background:linear-gradient(90deg,#466eb1 0.1px,#3389bd 58.4px,#69c3a5 185.6px,#84cea5 232.9px)"></i><i style="height:1px;background:linear-gradient(90deg,#476db0 0.1px,#3389bd 60.4px,#69c3a5 189.9px,#81cda5 232.9px)"></i><i style="height:1px;background:linear-gradient(90deg,#476db0 0.1px,#3389bd 62.6px,#69c3a5 194.1px,#7fcca5 232.9px)"></i><i style="height:1px;background:linear-gradient(90deg,#476cb0 0.1px,#3389bd 64.6px,#69c3a5 198.4px,#7ccba5 232.9px)"></i><i style="height:1px;background:linear-gradient(90deg,#486cb0 0.1px,#3389bd 66.9px,#69c3a5 202.9px,#79c9a5 232.9px)"></i><i style="height:1px;background:linear-gradient(90deg,#486baf 0.1px,#3389bd 69.1px,#69c3a5 207.6px,#76c8a5 232.9px)"></i><i style="height:1px;background:linear-gradient(90deg,#486baf 0.1px,#3389bd 71.6px,#69c3a5 212.6px,#74c7a5 232.9px)"></i><i style="height:1px;background:linear-gradient(90deg,#496aaf 0.1px,#3389bd 74.1px,#69c3a5 217.6px,#71c6a5 232.9px)"></i><i style="height:1px;background:linear-gradient(90deg,#496aaf 0.1px,#3389bd 76.6px,#69c3a5 222.9px,#6ec5a5 232.9px)"></i><i style="height:1px;background:linear-gradient(90deg,#4a69af 0.1px,#3389bd 79.4px,#69c3a5 228.1px,#6cc4a5 232.9px)"></i><i style="height:1px;background:linear-gradient(90deg,#4a69ae 0.1px,#3389bd 82.1px,#69c3a5 232.9px)"></i><i style="height:1px;background:linear-gradient(90deg,#4a68ae 0.1px,#3389bd 85.1px,#66c2a5 232.9px)"></i><i style="height:1px;background:linear-gradient(90deg,#4b68ae 0.1px,#3389bd 88.1px,#64c0a6 232.9px)"></i><i style="height:1px;background:linear-gradient(90deg,#4b67ae 0.1px,#3389bd 91.1px,#62bea7 232.9px)"></i><i style="height:1px;background:linear-gradient(90deg,#4b67ad 0.1px,#3389bd 94.4px,#60bba8 232.9px)"></i><i style="height:1px;background:linear-gradient(90deg,#4c66ad 0.1px,#3389bd 97.9px,#5eb9a9 232.9px)"></i><i style="height:1px;background:linear-gradient(90deg,#4c66ad 0.1px,#3389bd 101.4px,#5cb7aa 232.9px)"></i><i style="height:1px;background:linear-gradient(90deg,#4d65ad 0.1px,#3389bd 105.1px,#5ab5aa 232.9px)"></i><i style="height:1px;background:linear-gradient(90deg,#4d65ac 0.1px,#3389bd 108.9px,#58b2ab 232.9px)"></i><i style="height:1px;background:linear-gradient(90deg,#4d64ac 0.1px,#3389bd 112.9px,#56b0ac 232.9px)"></i><i style="height:1px;background:linear-gradient(90deg,#4e64ac 0.1px,#3389bd 117.1px,#54aead 232.9px)"></i><i style="height:1px;background:linear-gradient(90deg,#4e64ac 0.1px,#3389bd 121.6px,#52acae 232.9px)"></i><i style="height:1px;background:linear-gradient(90deg,#4f63ab 0.1px,#3389bd 126.4px,#50a9af 232.9px)"></i><i style="height:1px;background:linear-gradient(90deg,#4f63ab 0.1px,#3389bd 131.1px,#4ea7b0 232.9px)"></i><i style="height:1px;background:linear-gradient(90deg,#4f62ab 0.1px,#3389bd 136.4px,#4ca5b1 232.9px)"></i><i style="height:1px;background:linear-gradient(90deg,#5062ab 0.1px,#3389bd 141.6px,#4aa3b2 232.9px)"></i><i style="height:1px;background:linear-gradient(90deg,#5061ab 0.1px,#3389bd 147.4px,#48a0b3 232.9px)"></i><i style="height:1px;background:linear-gradient(90deg,#5061aa 0.1px,#3389bd 153.4px,#469eb4 232.9px)"></i><i style="height:1px;background:linear-gradient(90deg,#5160aa 0.1px,#3389bd 159.9px,#449cb5 232.9px)"></i><i style="height:1px;background:linear-gradient(90deg,#5160aa 0.1px,#3389bd 166.6px,#429ab6 232.9px)"></i><i style="height:1px;background:linear-gradient(90deg,#525faa 0.1px,#3389bd 173.9px,#4097b7 232.9px)"></i><i style="height:1px;background:linear-gradient(90deg,#525fa9 0.1px,#3389bd 181.4px,#3e95b8 232.9px)"></i><i style="height:1px;background:linear-gradient(90deg,#525ea9 0.1px,#3389bd 189.6px,#3c93b9 232.9px)"></i><i style="height:1px;background:linear-gradient(90deg,#535ea9 0.1px,#3389bd 198.4px,#3a91b9 232.9px)"></i><i style="height:1px;background:linear-gradient(90deg,#535da9 0.1px,#3389bd 207.6px,#388eba 232.9px)"></i><i style="height:1px;background:linear-gradient(90deg,#545da8 0.1px,#3389bd 217.6px,#368cbb 232.9px)"></i><i style="height:1px;background:linear-gradient(90deg,#545ca8 0.1px,#3389bd 228.4px,#348abc 232.9px)"></i><i style="height:1px;background:linear-gradient(90deg,#545ca8 0.1px,#3288bd 232.9px)"></i><i style="height:1px;background:linear-gradient(90deg,#555ba8 0.1px,#3485bc 232.9px)"></i><i style="height:1px;background:linear-gradient(90deg,#555ba8 0.1px,#3683bb 232.9px)"></i><i style="height:1px;background:linear-gradient(90deg,#555aa7 0.1px,#3781ba 232.9px)"></i><i style="height:1px;background:linear-gradient(90deg,#565aa7 0.1px,#397fb9 232.9px)"></i><i style="height:1px;background:linear-gradient(90deg,#5659a7 0.1px,#3b7cb8 232.9px)"></i><i style="height:1px;background:linear-gradient(90deg,#5759a7 0.1px,#3d7ab6 232.9px)"></i><i style="height:1px;background:linear-gradient(90deg,#5758a6 0.1px,#3e78b5 232.9px)"></i><i style="height:1px;background:linear-gradient(90deg,#5758a6 0.1px,#4076b4 232.9px)"></i><i style="height:1px;background:linear-gradient(90deg,#5857a6 0.1px,#4274b3 232.9px)"></i><i style="height:1px;background:linear-gradient(90deg,#5857a6 0.1px,#4371b2 232.9px)"></i><i style="height:1px;background:linear-gradient(90deg,#5856a5 0.1px,#456fb1 232.9px)"></i><i style="height:1px;background:linear-gradient(90deg,#5956a5 0.1px,#476db0 232.9px)"></i></div><div class="hm" style="left:379px;top:18px;width:233px;height:232px"><i style="height:1px;background:linear-gradient(90deg,#3a7eb8 0.1px,#3389bd 15.6px,#69c3a5 99.4px,#b4e1a2 189.1px,#d4ee9c 232.9px)"></i><i style="height:1px;background:linear-gradient(90deg,#3a7eb8 0.1px,#3389bd 16.1px,#69c3a5 100.1px,#b4e1a2 190.1px,#d3ed9c 232.9px)"></i><i style="height:1px;background:linear-gradient(90deg,#3a7eb8 0.1px,#3389bd 16.4px,#69c3a5 100.9px,#b4e1a2 191.4px,#d2ed9c 232.9px)"></i><i style="height:1px;background:linear-gradient(90deg,#3a7db8 0.1px,#3389bd 16.6px,#69c3a5 101.4px,#b4e1a2 192.4px,#d1ed9c 232.9px)"></i><i style="height:1px;background:linear-gradient(90deg,#3a7db8 0.1px,#3389bd 17.1px,#69c3a5 102.1px,#b4e1a2 193.4px,#d1ec9c 232.9px)"></i><i style="height:1px;background:linear-gradient(90deg,#3b7db8 0.1px,#3389bd 17.4px,#69c3a5 102.9px,#b4e1a2 194.6px,#d0ec9d 232.9px)"></i><i style="height:1px;background:linear-gradient(90deg,#3b7db8 0.1px,#3389bd 17.6px,#69c3a5 103.6px,#b4e1a2 195.6px,#cfec9d 232.9px)"></i><i style="height:1px;background:linear-gradient(90deg,#3b7db8 0.1px,#3389bd 18.1px,#69c3a5 104.4px,#b4e1a2 196.6px,#ceeb9d 232.9px)"></i><i style="height:1px;background:linear-gradient(90deg,#3b7cb8 0.1px,#3389bd 18.4px,#69c3a5 105.1px,#b4e1a2 197.9px,#cdeb9d 232.9px)"></i><i style="height:1px;background:linear-gradient(90deg,#3b7cb7 0.1px,#3389bd 18.9px,#6ac3a5 105.9px,#b4e1a2 198.9px,#ccea9d 232.9px)"></i><i style="height:1px;background:linear-gradient(90deg,#3b7cb7 0.1px,#3389bd 19.1px,#69c3a5 106.4px,#b4e1a2 200.1px,#cbea9d 232.9px)"></i><i style="height:1px;background:linear-gradient(90deg,#3b7cb7 0.1px,#3389bd 19.6px,#69c3a5 107.1px,#b4e1a2 201.4px,#caea9e 232.9px)"></i><i style="height:1px;background:linear-gradient(90deg,#3c7cb7 0.1px,#3389bd 19.9px,#69c3a5 107.9px,#b4e1a2 202.4px,#c9e99e 232.9px)"></i><i style="height:1px;background:linear-gradient(90deg,#3c7bb7 0.1px,#3389bd 20.4px,#69c3a5 108.6px,#b4e1a2 203.6px,#c9e99e 232.9px)"></i><i style="height:1px;background:linear-gradient(90deg,#3c7bb7 0.1px,#3389bd 20.6px,#69c3a5 109.4px,#b4e1a2 204.6px,#c8e99e 232.9px)"></i><i style="height:1px;background:linear-gradient(90deg,#3c7bb7 0.1px,#3389bd 21.1px,#6ac3a5 110.4px,#b4e1a2 205.9px,#c7e89e 232.9px)"></i><i style="height:1px;background:linear-gradient(90deg,#3c7bb7 0.1px,#3389bd 21.4px,#69c3a5 111.1px,#b4e1a2 207.1px,#c6e89f 232.9px)"></i><i style="height:1px;background:linear-gradient(90deg,#3c7bb7 0.1px,#3389bd 21.9px,#69c3a5 111.9px,#b4e1a2 208.4px,#c5e89f 232.9px)"></i><i style="height:1px;background:linear-gradient(90deg,#3c7ab7 0.1px,#3389bd 22.1px,#69c3a5 112.6px,#b4e1a2 209.6px,#c4e79f 232.9px)"></i><i style="height:1px;background:linear-gradient(90deg,#3d7ab7 0.1px,#3389bd 22.6px,#69c3a5 113.4px,#b4e1a2 210.6px,#c3e79f 232.9px)"></i><i style="height:1px;background:linear-gradient(90deg,#3d7ab6 0.1px,#3389bd 22.9px,#69c3a5 114.1px,#b4e1a2 211.9px,#c2e69f 232.9px)"></i><i style="height:1px;background:linear-gradient(90deg,#3d7ab6 0.1px,#3389bd 23.4px,#6ac3a5 115.1px,#b4e1a2 213.1px,#c1e69f 232.9px)"></i><i style="height:1px;background:linear-gradient(90deg,#3d7ab6 0.1px,#3389bd 23.9px,#69c3a5 115.9px,#b4e1a2 214.4px,#c1e6a0 232.9px)"></i><i style="height:1px;background:linear-gradient(90deg,#3d7ab6 0.1px,#3389bd 24.1px,#69c3a5 116.6px,#b4e1a2 215.6px,#c0e5a0 232.9px)"></i><i style="height:1px;background:linear-gradient(90deg,#3d79b6 0.1px,#3389bd 24.6px,#69c3a5 117.4px,#b4e1a2 217.1px,#bfe5a0 232.9px)"></i><i style="height:1px;background:linear-gradient(90deg,#3d79b6 0.1px,#3389bd 25.1px,#69c3a5 118.4px,#b4e1a2 218.4px,#bee5a0 232.9px)"></i><i style="height:1px;background:linear-gradient(90deg,#3e79b6 0.1px,#3389bd 25.4px,#69c3a5 119.1px,#b4e1a2 219.6px,#bde4a0 232.9px)"></i><i style="height:1px;background:linear-gradient(90deg,#3e79b6 0.1px,#3389bd 25.9px,#69c3a5 120.1px,#b4e1a2 220.9px,#bce4a1 232.9px)"></i><i style="height:1px;background:linear-gradient(90deg,#3e79b6 0.1px,#3389bd 26.4px,#69c3a5 120.9px,#b4e1a2 222.4px,#bbe4a1 232.9px)"></i><i style="height:1px;background:linear-gradient(90deg,#3e78b6 0.1px,#3389bd 26.6px,#6ac3a5 121.9px,#b4e1a2 223.6px,#bae3a1 232.9px)"></i><i style="height:1px;background:linear-gradient(90deg,#3e78b6 0.1px,#3389bd 27.1px,#69c3a5 122.6px,#b4e1a2 224.9px,#b9e3a1 232.9px)"></i><i style="height:1px;background:linear-gradient(90deg,#3e78b5 0.1px,#3389bd 27.6px,#69c3a5 123.6px,#b4e1a2 226.4px,#b8e2a1 232.9px)"></i><i style="height:1px;background:linear-gradient(90deg,#3f78b5 0.1px,#3389bd 28.1px,#69c3a5 124.4px,#b4e1a2 227.6px,#b8e2a1 232.9px)"></i><i style="height:1px;background:linear-gradient(90deg,#3f78b5 0.1px,#3389bd 28.4px,#69c3a5 125.4px,#b4e1a2 229.1px,#b7e2a2 232.9px)"></i><i style="height:1px;background:linear-gradient(90deg,#3f77b5 0.1px,#3389bd 28.9px,#69c3a5 126.1px,#b4e1a2 230.4px,#b6e1a2 232.9px)"></i><i style="height:1px;background:linear-gradient(90deg,#3f77b5 0.1px,#3389bd 29.4px,#69c3a5 127.1px,#b4e1a2 231.9px,#b5e1a2 232.9px)"></i><i style="height:1px;background:linear-gradient(90deg,#3f77b5 0.1px,#3389bd 29.9px,#69c3a5 128.1px,#b4e1a2 232.9px)"></i><i style="height:1px;background:linear-gradient(90deg,#3f77b5 0.1px,#3389bd 30.4px,#69c3a5 129.1px,#b3e0a2 232.9px)"></i><i style="height:1px;background:linear-gradient(90deg,#3f77b5 0.1px,#3389bd 30.9px,#69c3a5 129.9px,#b2e0a3 232.9px)"></i><i style="height:1px;background:linear-gradient(90deg,#4076b5 0.1px,#3389bd 31.4px,#69c3a5 130.9px,#b1e0a3 232.9px)"></i><i style="height:1px;background:linear-gradient(90deg,#4076b5 0.1px,#3389bd 31.6px,#69c3a5 131.9px,#b0dfa3 232.9px)"></i><i style="height:1px;background:linear-gradient(90deg,#4076b5 0.1px,#3389bd 32.1px,#69c3a5 132.9px,#b0dfa3 232.9px)"></i><i style="height:1px;background:linear-gradient(90deg,#4076b4 0.1px,#3389bd 32.6px,#69c3a5 133.9px,#afdea3 232.9px)"></i><i style="height:1px;background:linear-gradient(90deg,#4076b4 0.1px,#3389bd 33.1px,#69c3a5 134.9px,#aedea3 232.9px)"></i><i style="height:1px;background:linear-gradient(90deg,#4075b4 0.1px,#3389bd 33.6px,#69c3a5 135.9px,#addea4 232.9px)"></i><i style="height:1px;background:linear-gradient(90deg,#4075b4 0.1px,#3389bd 34.1px,#69c3a5 136.9px,#acdda4 232.9px)"></i><i style="height:1px;background:linear-gradient(90deg,#4175b4 0.1px,#3389bd 34.6px,#69c3a5 137.9px,#abdda4 232.9px)"></i><i style="height:1px;background:linear-gradient(90deg,#4175b4 0.1px,#3389bd 35.1px,#69c3a5 138.9px,#aadda4 232.9px)"></i><i style="height:1px;background:linear-gradient(90deg,#4175b4 0.1px,#3389bd 35.6px,#69c3a5 139.9px,#a9dca4 232.9px)"></i><i style="height:1px;background:linear-gradient(90deg,#4175b4 0.1px,#3389bd 36.4px,#69c3a5 141.1px,#a8dca4 232.9px)"></i><i style="height:1px;background:linear-gradient(90deg,#4174b4 0.1px,#3389bd 36.9px,#69c3a5 142.1px,#a7dba4 232.9px)"></i><i style="height:1px;background:linear-gradient(90deg,#4174b4 0.1px,#3389bd 37.4px,#69c3a5 143.1px,#a6dba4 232.9px)"></i><i style="height:1px;background:linear-gradient(90deg,#4174b4 0.1px,#3389bd 37.9px,#69c3a5 144.4px,#a5dba4 232.9px)"></i><i style="height:1px;background:linear-gradient(90deg,#4274b3 0.1px,#3389bd 38.4px,#69c3a5 145.4px,#a4daa4 232.9px)"></i><i style="height:1px;background:linear-gradient(90deg,#4274b3 0.1px,#3389bd 38.9px,#69c3a5 146.4px,#a3daa4 232.9px)"></i><i style="height:1px;background:linear-gradient(90deg,#4273b3 0.1px,#3389bd 39.6px,#69c3a5 147.6px,#a2d9a4 232.9px)"></i><i style="height:1px;background:linear-gradient(90deg,#4273b3 0.1px,#3389bd 40.1px,#6ac3a5 148.9px,#a1d9a4 232.9px)"></i><i style="height:1px;background:linear-gradient(90deg,#4273b3 0.1px,#3389bd 40.6px,#69c3a5 149.9px,#a0d9a4 232.9px)"></i><i style="height:1px;background:linear-gradient(90deg,#4273b3 0.1px,#3389bd 41.1px,#69c3a5 151.1px,#9fd8a4 232.9px)"></i><i style="height:1px;background:linear-gradient(90deg,#4373b3 0.1px,#3389bd 41.9px,#69c3a5 152.1px,#9ed8a4 232.9px)"></i><i style="height:1px;background:linear-gradient(90deg,#4372b3 0.1px,#3389bd 42.4px,#69c3a5 153.4px,#9dd7a4 232.9px)"></i><i style="height:1px;background:linear-gradient(90deg,#4372b3 0.1px,#3389bd 42.9px,#69c3a5 154.6px,#9bd7a4 232.9px)"></i><i style="height:1px;background:linear-gradient(90deg,#4372b3 0.1px,#3389bd 43.6px,#69c3a5 155.9px,#9ad7a4 232.9px)"></i><i style="height:1px;background:linear-gradient(90deg,#4372b3 0.1px,#3389bd 44.1px,#69c3a5 157.1px,#99d6a4 232.9px)"></i><i style="height:1px;background:linear-gradient(90deg,#4372b2 0.1px,#3389bd 44.9px,#69c3a5 158.4px,#98d6a4 232.9px)"></i><i style="height:1px;background:linear-gradient(90deg,#4371b2 0.1px,#3389bd 45.4px,#69c3a5 159.6px,#97d5a4 232.9px)"></i><i style="height:1px;background:linear-gradient(90deg,#4471b2 0.1px,#3389bd 46.1px,#69c3a5 160.9px,#96d5a4 232.9px)"></i><i style="height:1px;background:linear-gradient(90deg,#4471b2 0.1px,#3389bd 46.6px,#69c3a5 162.1px,#95d4a4 232.9px)"></i><i style="height:1px;background:linear-gradient(90deg,#4471b2 0.1px,#3389bd 47.4px,#69c3a5 163.4px,#94d4a4 232.9px)"></i><i style="height:1px;background:linear-gradient(90deg,#4471b2 0.1px,#3389bd 47.9px,#69c3a5 164.6px,#93d4a4 232.9px)"></i><i style="height:1px;background:linear-gradient(90deg,#4471b2 0.1px,#3389bd 48.6px,#69c3a5 166.1px,#92d3a4 232.9px)"></i><i style="height:1px;background:linear-gradient(90deg,#4470b2 0.1px,#3389bd 49.4px,#69c3a5 167.4px,#91d3a4 232.9px)"></i><i style="height:1px;background:linear-gradient(90deg,#4470b2 0.1px,#3389bd 49.9px,#69c3a5 168.6px,#90d2a4 232.9px)"></i><i style="height:1px;background:linear-gradient(90deg,#4570b2 0.1px,#3389bd 50.6px,#69c3a5 170.1px,#8fd2a4 232.9px)"></i><i style="height:1px;background:linear-gradient(90deg,#4570b2 0.1px,#3389bd 51.4px,#69c3a5 171.4px,#8ed2a4 232.9px)"></i><i style="height:1px;background:linear-gradient(90deg,#4570b1 0.1px,#3389bd 52.1px,#69c3a5 172.9px,#8dd1a4 232.9px)"></i><i style="height:1px;background:linear-gradient(90deg,#456fb1 0.1px,#3389bd 52.6px,#69c3a5 174.4px,#8cd1a4 232.9px)"></i><i style="height:1px;background:linear-gradient(90deg,#456fb1 0.1px,#3389bd 53.4px,#6ac3a5 175.9px,#8bd0a4 232.9px)"></i><i style="height:1px;background:linear-gradient(90deg,#456fb1 0.1px,#3389bd 54.1px,#69c3a5 177.1px,#8ad0a4 232.9px)"></i><i style="height:1px;background:linear-gradient(90deg,#456fb1 0.1px,#3389bd 54.9px,#69c3a5 178.6px,#89d0a4 232.9px)"></i><i style="height:1px;background:linear-gradient(90deg,#466fb1 0.1px,#3389bd 55.6px,#69c3a5 180.1px,#88cfa5 232.9px)"></i><i style="height:1px;background:linear-gradient(90deg,#466eb1 0.1px,#3389bd 56.4px,#69c3a5 181.6px,#87cfa5 232.9px)"></i><i style="height:1px;background:linear-gradient(90deg,#466eb1 0.1px,#3389bd 57.1px,#69c3a5 183.1px,#86cea5 232.9px)"></i><i style="height:1px;background:linear-gradient(90deg,#466eb1 0.1px,#3389bd 57.9px,#6ac3a5 184.9px,#85cea5 232.9px)"></i><i style="height:1px;background:linear-gradient(90deg,#466eb1 0.1px,#3389bd 58.6px,#69c3a5 186.4px,#83cea5 232.9px)"></i><i style="height:1px;background:linear-gradient(90deg,#466eb1 0.1px,#3389bd 59.4px,#69c3a5 187.9px,#82cda5 232.9px)"></i><i style="height:1px;background:linear-gradient(90deg,#476db0 0.1px,#3389bd 60.4px,#69c3a5 189.6px,#81cda5 232.9px)"></i><i style="height:1px;background:linear-gradient(90deg,#476db0 0.1px,#3389bd 61.1px,#69c3a5 191.1px,#80cca5 232.9px)"></i><i style="height:1px;background:linear-gradient(90deg,#476db0 0.1px,#3389bd 61.9px,#69c3a5 192.9px,#7fcca5 232.9px)"></i><i style="height:1px;background:linear-gradient(90deg,#476db0 0.1px,#3389bd 62.6px,#69c3a5 194.4px,#7ecba5 232.9px)"></i><i style="height:1px;background:linear-gradient(90deg,#476db0 0.1px,#3389bd 63.6px,#69c3a5 196.1px,#7dcba5 232.9px)"></i><i style="height:1px;background:linear-gradient(90deg,#476cb0 0.1px,#3389bd 64.4px,#69c3a5 197.9px,#7ccba5 232.9px)"></i><i style="height:1px;background:linear-gradient(90deg,#476cb0 0.1px,#3389bd 65.4px,#69c3a5 199.6px,#7bcaa5 232.9px)"></i><i style="height:1px;background:linear-gradient(90deg,#486cb0 0.1px,#3389bd 66.1px,#69c3a5 201.4px,#7acaa5 232.9px)"></i><i style="height:1px;background:linear-gradient(90deg,#486cb0 0.1px,#3389bd 67.1px,#69c3a5 203.1px,#79c9a5 232.9px)"></i><i style="height:1px;background:linear-gradient(90deg,#486cb0 0.1px,#3389bd 67.9px,#69c3a5 204.9px,#78c9a5 232.9px)"></i><i style="height:1px;background:linear-gradient(90deg,#486cb0 0.1px,#3389bd 68.9px,#69c3a5 206.9px,#77c9a5 232.9px)"></i><i style="height:1px;background:linear-gradient(90deg,#486baf 0.1px,#3389bd 69.6px,#69c3a5 208.6px,#76c8a5 232.9px)"></i><i style="height:1px;background:linear-gradient(90deg,#486baf 0.1px,#3389bd 70.6px,#6ac3a5 210.6px,#75c8a5 232.9px)"></i><i style="height:1px;background:linear-gradient(90deg,#486baf 0.1px,#3389bd 71.6px,#69c3a5 212.4px,#74c7a5 232.9px)"></i><i style="height:1px;background:linear-gradient(90deg,#496baf 0.1px,#3389bd 72.6px,#69c3a5 214.4px,#73c7a5 232.9px)"></i><i style="height:1px;background:linear-gradient(90deg,#496baf 0.1px,#3389bd 73.6px,#69c3a5 216.4px,#72c7a5 232.9px)"></i><i style="height:1px;background:linear-gradient(90deg,#496aaf 0.1px,#3389bd 74.6px,#69c3a5 218.4px,#71c6a5 232.9px)"></i><i style="height:1px;background:linear-gradient(90deg,#496aaf 0.1px,#3389bd 75.6px,#69c3a5 220.4px,#70c6a5 232.9px)"></i><i style="height:1px;background:linear-gradient(90deg,#496aaf 0.1px,#3389bd 76.6px,#69c3a5 222.4px,#6fc5a5 232.9px)"></i><i style="height:1px;background:linear-gradient(90deg,#496aaf 0.1px,#3389bd 77.6px,#69c3a5 224.4px,#6ec5a5 232.9px)"></i><i style="height:1px;background:linear-gradient(90deg,#496aaf 0.1px,#3389bd 78.6px,#69c3a5 226.6px,#6dc5a5 232.9px)"></i><i style="height:1px;background:linear-gradient(90deg,#4a69af 0.1px,#3389bd 79.6px,#69c3a5 228.6px,#6bc4a5 232.9px)"></i><i style="height:1px;background:linear-gradient(90deg,#4a69ae 0.1px,#3389bd 80.6px,#69c3a5 230.9px,#6ac4a5 232.9px)"></i><i style="height:1px;background:linear-gradient(90deg,#4a69ae 0.1px,#3389bd 81.9px,#69c3a5 232.9px)"></i><i style="height:1px;background:linear-gradient(90deg,#4a69ae 0.1px,#3389bd 82.9px,#68c3a5 232.9px)"></i><i style="height:1px;background:linear-gradient(90deg,#4a69ae 0.1px,#3389bd 84.1px,#67c3a5 232.9px)"></i><i style="height:1px;background:linear-gradient(90deg,#4a68ae 0.1px,#3389bd 85.1px,#66c2a5 232.9px)"></i><i style="height:1px;background:linear-gradient(90deg,#4b68ae 0.1px,#3389bd 86.4px,#65c1a5 232.9px)"></i><i style="height:1px;background:linear-gradient(90deg,#4b68ae 0.1px,#3389bd 87.4px,#65c0a6 232.9px)"></i><i style="height:1px;background:linear-gradient(90deg,#4b68ae 0.1px,#3389bd 88.6px,#64c0a6 232.9px)"></i><i style="height:1px;background:linear-gradient(90deg,#4b68ae 0.1px,#3389bd 89.9px,#63bfa6 232.9px)"></i><i style="height:1px;background:linear-gradient(90deg,#4b67ae 0.1px,#3389bd 91.1px,#62bea7 232.9px)"></i><i style="height:1px;background:linear-gradient(90deg,#4b67ae 0.1px,#3389bd 92.4px,#61bda7 232.9px)"></i><i style="height:1px;background:linear-gradient(90deg,#4b67ad 0.1px,#3389bd 93.6px,#61bca7 232.9px)"></i><i style="height:1px;background:linear-gradient(90deg,#4c67ad 0.1px,#3389bd 94.9px,#60bba8 232.9px)"></i><i style="height:1px;background:linear-gradient(90deg,#4c67ad 0.1px,#3389bd 96.1px,#5fbaa8 232.9px)"></i><i style="height:1px;background:linear-gradient(90deg,#4c67ad 0.1px,#3389bd 97.6px,#5eb9a9 232.9px)"></i><i style="height:1px;background:linear-gradient(90deg,#4c66ad 0.1px,#3389bd 98.9px,#5eb9a9 232.9px)"></i><i style="height:1px;background:linear-gradient(90deg,#4c66ad 0.1px,#3389bd 100.4px,#5db8a9 232.9px)"></i><i style="height:1px;background:linear-gradient(90deg,#4c66ad 0.1px,#3389bd 101.6px,#5cb7aa 232.9px)"></i><i style="height:1px;background:linear-gradient(90deg,#4c66ad 0.1px,#3389bd 103.1px,#5bb6aa 232.9px)"></i><i style="height:1px;background:linear-gradient(90deg,#4d66ad 0.1px,#3389bd 104.6px,#5ab5aa 232.9px)"></i><i style="height:1px;background:linear-gradient(90deg,#4d65ad 0.1px,#3389bd 106.1px,#5ab4ab 232.9px)"></i><i style="height:1px;background:linear-gradient(90deg,#4d65ad 0.1px,#3389bd 107.4px,#59b3ab 232.9px)"></i><i style="height:1px;background:linear-gradient(90deg,#4d65ac 0.1px,#3389bd 109.1px,#58b2ab 232.9px)"></i><i style="height:1px;background:linear-gradient(90deg,#4d65ac 0.1px,#3389bd 110.6px,#57b2ac 232.9px)"></i><i style="height:1px;background:linear-gradient(90deg,#4d65ac 0.1px,#3389bd 112.1px,#56b1ac 232.9px)"></i><i style="height:1px;background:linear-gradient(90deg,#4d64ac 0.1px,#3389bd 113.9px,#56b0ad 232.9px)"></i><i style="height:1px;background:linear-gradient(90deg,#4e64ac 0.1px,#3389bd 115.4px,#55afad 232.9px)"></i><i style="height:1px;background:linear-gradient(90deg,#4e64ac 0.1px,#3389bd 117.1px,#54aead 232.9px)"></i><i style="height:1px;background:linear-gradient(90deg,#4e64ac 0.1px,#3389bd 118.6px,#53adae 232.9px)"></i><i style="height:1px;background:linear-gradient(90deg,#4e64ac 0.1px,#3389bd 120.4px,#53acae 232.9px)"></i><i style="height:1px;background:linear-gradient(90deg,#4e63ac 0.1px,#3389bd 122.1px,#52abae 232.9px)"></i><i style="height:1px;background:linear-gradient(90deg,#4e63ac 0.1px,#3389bd 124.1px,#51abaf 232.9px)"></i><i style="height:1px;background:linear-gradient(90deg,#4f63ac 0.1px,#3389bd 125.9px,#50aaaf 232.9px)"></i><i style="height:1px;background:linear-gradient(90deg,#4f63ab 0.1px,#3389bd 127.6px,#4fa9af 232.9px)"></i><i style="height:1px;background:linear-gradient(90deg,#4f63ab 0.1px,#3389bd 129.6px,#4fa8b0 232.9px)"></i><i style="height:1px;background:linear-gradient(90deg,#4f62ab 0.1px,#3389bd 131.6px,#4ea7b0 232.9px)"></i><i style="height:1px;background:linear-gradient(90deg,#4f62ab 0.1px,#3389bd 133.4px,#4da6b1 232.9px)"></i><i style="height:1px;background:linear-gradient(90deg,#4f62ab 0.1px,#3389bd 135.6px,#4ca5b1 232.9px)"></i><i style="height:1px;background:linear-gradient(90deg,#4f62ab 0.1px,#3389bd 137.6px,#4ba4b1 232.9px)"></i><i style="height:1px;background:linear-gradient(90deg,#5062ab 0.1px,#3389bd 139.6px,#4ba4b2 232.9px)"></i><i style="height:1px;background:linear-gradient(90deg,#5062ab 0.1px,#3389bd 141.9px,#4aa3b2 232.9px)"></i><i style="height:1px;background:linear-gradient(90deg,#5061ab 0.1px,#3389bd 143.9px,#49a2b2 232.9px)"></i><i style="height:1px;background:linear-gradient(90deg,#5061ab 0.1px,#3389bd 146.1px,#48a1b3 232.9px)"></i><i style="height:1px;background:linear-gradient(90deg,#5061ab 0.1px,#3389bd 148.4px,#48a0b3 232.9px)"></i><i style="height:1px;background:linear-gradient(90deg,#5061aa 0.1px,#3389bd 150.9px,#479fb3 232.9px)"></i><i style="height:1px;background:linear-gradient(90deg,#5061aa 0.1px,#3389bd 153.1px,#469eb4 232.9px)"></i><i style="height:1px;background:linear-gradient(90deg,#5160aa 0.1px,#3389bd 155.6px,#459db4 232.9px)"></i><i style="height:1px;background:linear-gradient(90deg,#5160aa 0.1px,#3389bd 158.1px,#449cb5 232.9px)"></i><i style="height:1px;background:linear-gradient(90deg,#5160aa 0.1px,#3389bd 160.6px,#449cb5 232.9px)"></i><i style="height:1px;background:linear-gradient(90deg,#5160aa 0.1px,#3389bd 163.1px,#439bb5 232.9px)"></i><i style="height:1px;background:linear-gradient(90deg,#5160aa 0.1px,#3389bd 165.9px,#429ab6 232.9px)"></i><i style="height:1px;background:linear-gradient(90deg,#515faa 0.1px,#3389bd 168.6px,#4199b6 232.9px)"></i><i style="height:1px;background:linear-gradient(90deg,#515faa 0.1px,#3389bd 171.4px,#4098b6 232.9px)"></i><i style="height:1px;background:linear-gradient(90deg,#525faa 0.1px,#3389bd 174.4px,#4097b7 232.9px)"></i><i style="height:1px;background:linear-gradient(90deg,#525faa 0.1px,#3389bd 177.1px,#3f96b7 232.9px)"></i><i style="height:1px;background:linear-gradient(90deg,#525fa9 0.1px,#3389bd 180.1px,#3e95b7 232.9px)"></i><i style="height:1px;background:linear-gradient(90deg,#525ea9 0.1px,#3389bd 183.1px,#3d95b8 232.9px)"></i><i style="height:1px;background:linear-gradient(90deg,#525ea9 0.1px,#3389bd 186.4px,#3d94b8 232.9px)"></i><i style="height:1px;background:linear-gradient(90deg,#525ea9 0.1px,#3389bd 189.6px,#3c93b9 232.9px)"></i><i style="height:1px;background:linear-gradient(90deg,#535ea9 0.1px,#3389bd 192.9px,#3b92b9 232.9px)"></i><i style="height:1px;background:linear-gradient(90deg,#535ea9 0.1px,#3389bd 196.4px,#3a91b9 232.9px)"></i><i style="height:1px;background:linear-gradient(90deg,#535da9 0.1px,#3389bd 199.9px,#3990ba 232.9px)"></i><i style="height:1px;background:linear-gradient(90deg,#535da9 0.1px,#3389bd 203.4px,#398fba 232.9px)"></i><i style="height:1px;background:linear-gradient(90deg,#535da9 0.1px,#3389bd 207.1px,#388eba 232.9px)"></i><i style="height:1px;background:linear-gradient(90deg,#535da9 0.1px,#3389bd 210.9px,#378ebb 232.9px)"></i><i style="height:1px;background:linear-gradient(90deg,#535da9 0.1px,#3389bd 214.6px,#368dbb 232.9px)"></i><i style="height:1px;background:linear-gradient(90deg,#545da8 0.1px,#3389bd 218.6px,#358cbb 232.9px)"></i><i style="height:1px;background:linear-gradient(90deg,#545ca8 0.1px,#3389bd 222.9px,#358bbc 232.9px)"></i><i style="height:1px;background:linear-gradient(90deg,#545ca8 0.1px,#3389bd 227.1px,#348abc 232.9px)"></i><i style="height:1px;background:linear-gradient(90deg,#545ca8 0.1px,#3389bd 231.4px,#3389bd 232.9px)"></i><i style="height:1px;background:linear-gradient(90deg,#545ca8 0.1px,#3288bd 232.9px)"></i><i style="height:1px;background:linear-gradient(90deg,#545ca8 0.1px,#3287bd 232.9px)"></i><i style="height:1px;background:linear-gradient(90deg,#545ba8 0.1px,#3387bc 232.9px)"></i><i style="height:1px;background:linear-gradient(90deg,#555ba8 0.1px,#3486bc 232.9px)"></i><i style="height:1px;background:linear-gradient(90deg,#555ba8 0.1px,#3485bc 232.9px)"></i><i style="height:1px;background:linear-gradient(90deg,#555ba8 0.1px,#3584bb 232.9px)"></i><i style="height:1px;background:linear-gradient(90deg,#555ba8 0.1px,#3683bb 232.9px)"></i><i style="height:1px;background:linear-gradient(90deg,#555aa7 0.1px,#3682ba 232.9px)"></i><i style="height:1px;background:linear-gradient(90deg,#555aa7 0.1px,#3781ba 232.9px)"></i><i style="height:1px;background:linear-gradient(90deg,#555aa7 0.1px,#3881b9 232.9px)"></i><i style="height:1px;background:linear-gradient(90deg,#565aa7 0.1px,#3880b9 232.9px)"></i><i style="height:1px;background:linear-gradient(90deg,#565aa7 0.1px,#397fb9 232.9px)"></i><i style="height:1px;background:linear-gradient(90deg,#5659a7 0.1px,#3a7eb8 232.9px)"></i><i style="height:1px;background:linear-gradient(90deg,#5659a7 0.1px,#3a7db8 232.9px)"></i><i style="height:1px;background:linear-gradient(90deg,#5659a7 0.1px,#3b7cb7 232.9px)"></i><i style="height:1px;background:linear-gradient(90deg,#5659a7 0.1px,#3c7bb7 232.9px)"></i><i style="height:1px;background:linear-gradient(90deg,#5759a7 0.1px,#3c7bb7 232.9px)"></i><i style="height:1px;background:linear-gradient(90deg,#5759a7 0.1px,#3d7ab6 232.9px)"></i><i style="height:1px;background:linear-gradient(90deg,#5758a6 0.1px,#3e79b6 232.9px)"></i><i style="height:1px;background:linear-gradient(90deg,#5758a6 0.1px,#3e78b5 232.9px)"></i><i style="height:1px;background:linear-gradient(90deg,#5758a6 0.1px,#3f77b5 232.9px)"></i><i style="height:1px;background:linear-gradient(90deg,#5758a6 0.1px,#4076b5 232.9px)"></i><i style="height:1px;background:linear-gradient(90deg,#5758a6 0.1px,#4075b4 232.9px)"></i><i style="height:1px;background:linear-gradient(90deg,#5857a6 0.1px,#4174b4 232.9px)"></i><i style="height:1px;background:linear-gradient(90deg,#5857a6 0.1px,#4274b3 232.9px)"></i><i style="height:1px;background:linear-gradient(90deg,#5857a6 0.1px,#4273b3 232.9px)"></i><i style="height:1px;background:linear-gradient(90deg,#5857a6 0.1px,#4372b3 232.9px)"></i><i style="height:1px;background:linear-gradient(90deg,#5857a6 0.1px,#4471b2 232.9px)"></i><i style="height:1px;background:linear-gradient(90deg,#5856a6 0.1px,#4470b2 232.9px)"></i><i style="height:1px;background:linear-gradient(90deg,#5856a5 0.1px,#456fb1 232.9px)"></i><i style="height:1px;background:linear-gradient(90deg,#5956a5 0.1px,#466eb1 232.9px)"></i><i style="height:1px;background:linear-gradient(90deg,#5956a5 0.1px,#466eb0 232.9px)"></i><i style="height:1px;background:linear-gradient(90deg,#5956a5 0.1px,#476db0 232.9px)"></i><i style="height:1px;background:linear-gradient(90deg,#5955a5 0.1px,#486cb0 232.9px)"></i><i style="height:1px;background:linear-gradient(90deg,#5955a5 0.1px,#486baf 232.9px)"></i><i style="height:1px;background:linear-gradient(90deg,#5955a5 0.1px,#496aaf 232.9px)"></i><i style="height:1px;background:linear-gradient(90deg,#5955a5 0.1px,#4a69ae 232.9px)"></i><i style="height:1px;background:linear-gradient(90deg,#5a55a5 0.1px,#4a68ae 232.9px)"></i><i style="height:1px;background:linear-gradient(90deg,#5a54a5 0.1px,#4b68ae 232.9px)"></i><i style="height:1px;background:linear-gradient(90deg,#5a54a5 0.1px,#4c67ad 232.9px)"></i><i style="height:1px;background:linear-gradient(90deg,#5a54a4 0.1px,#4c66ad 232.9px)"></i><i style="height:1px;background:linear-gradient(90deg,#5a54a4 0.1px,#4d65ac 232.9px)"></i><i style="height:1px;background:linear-gradient(90deg,#5a54a4 0.1px,#4e64ac 232.9px)"></i><i style="height:1px;background:linear-gradient(90deg,#5b54a4 0.1px,#4e63ac 232.9px)"></i><i style="height:1px;background:linear-gradient(90deg,#5b53a4 0.1px,#4f62ab 232.9px)"></i><i style="height:1px;background:linear-gradient(90deg,#5b53a4 0.1px,#5062ab 232.9px)"></i><i style="height:1px;background:linear-gradient(90deg,#5b53a4 0.1px,#5061aa 232.9px)"></i><i style="height:1px;background:linear-gradient(90deg,#5b53a4 0.1px,#5160aa 232.9px)"></i><i style="height:1px;background:linear-gradient(90deg,#5b53a4 0.1px,#525faa 232.9px)"></i><i style="height:1px;background:linear-gradient(90deg,#5b52a4 0.1px,#525ea9 232.9px)"></i><i style="height:1px;background:linear-gradient(90deg,#5c52a3 0.1px,#535da9 232.9px)"></i><i style="height:1px;background:linear-gradient(90deg,#5c52a3 0.1px,#545ca8 232.9px)"></i><i style="height:1px;background:linear-gradient(90deg,#5c52a3 0.1px,#545ba8 232.9px)"></i><i style="height:1px;background:linear-gradient(90deg,#5c52a3 0.1px,#555ba8 232.9px)"></i></div><div class="hm" style="left:63px;top:319px;width:233px;height:232px"><i style="height:1px;background:linear-gradient(90deg,#5e4fa2 0.1px,#5659a7 6.9px,#3e78b5 17.4px,#3389bd 22.1px,#69c3a5 36.9px,#b4e1a2 52.1px,#e7f599 64.9px,#ffffbe 80.9px,#fee18c 99.9px,#fdb86a 120.9px,#fca35c 133.6px,#f7864f 154.6px,#f47045 179.9px,#f06844 201.1px,#ec6246 232.9px)"></i><i style="height:1px;background:linear-gradient(90deg,#5e4fa2 0.1px,#5659a7 6.9px,#3e78b5 17.4px,#3389bd 22.1px,#6ac3a5 37.1px,#b4e1a2 52.4px,#e7f599 65.1px,#ffffbf 81.1px,#fee18d 100.1px,#fdba6b 120.6px,#fca55d 133.9px,#f8884f 154.9px,#f57245 180.1px,#f26a44 197.1px,#ed6346 232.9px)"></i><i style="height:1px;background:linear-gradient(90deg,#5e4fa2 0.1px,#5659a7 6.9px,#3f78b5 17.4px,#3289bd 22.1px,#69c3a5 37.1px,#b4e1a2 52.6px,#e7f599 65.4px,#ffffbf 81.4px,#fee18d 100.4px,#fdbc6d 120.4px,#fca65d 134.6px,#f88950 155.9px,#f57446 181.4px,#f36b44 201.1px,#ef6545 232.9px)"></i><i style="height:1px;background:linear-gradient(90deg,#5e4fa2 0.1px,#5659a7 6.9px,#3f78b5 17.4px,#3288bd 22.1px,#6ac3a5 37.4px,#b3e0a2 52.6px,#e7f599 65.6px,#ffffbf 81.9px,#fee18d 100.9px,#fdbd6d 120.9px,#fca65d 135.6px,#f88a50 157.1px,#f57547 183.1px,#f36b44 206.1px,#f06645 232.9px)"></i><i style="height:1px;background:linear-gradient(90deg,#5e4fa2 0.1px,#5659a7 6.9px,#3e78b6 17.6px,#3389bd 22.4px,#69c3a5 37.4px,#b4e1a2 52.9px,#e7f599 65.9px,#ffffbf 82.1px,#fee28e 101.1px,#fdbe6f 120.6px,#fca75e 136.4px,#f88b51 157.9px,#f57647 184.1px,#f36b43 211.9px,#f16844 232.9px)"></i><i style="height:1px;background:linear-gradient(90deg,#5e4fa2 0.1px,#5659a7 6.9px,#3e78b5 17.6px,#3389bd 22.4px,#6ac3a5 37.6px,#b4e1a2 53.1px,#e7f599 66.1px,#ffffbf 82.6px,#fee28e 101.6px,#fdbf70 120.9px,#fca75e 137.4px,#f88c51 159.1px,#f57748 185.9px,#f36c43 218.1px,#f26944 232.9px)"></i><i style="height:1px;background:linear-gradient(90deg,#5e4fa2 0.1px,#565aa7 7.1px,#3e79b6 17.9px,#3288bd 22.4px,#69c3a5 37.6px,#b3e0a2 53.1px,#e7f599 66.4px,#ffffbe 83.1px,#fee28e 102.4px,#fdbf6f 122.1px,#fca75e 138.6px,#f88c51 160.6px,#f67848 187.9px,#f46c43 223.4px,#f36b44 232.9px)"></i><i style="height:1px;background:linear-gradient(90deg,#5e4fa2 0.1px,#565aa7 7.1px,#3e79b6 17.9px,#3288bd 22.4px,#6ac3a5 37.9px,#b3e0a2 53.4px,#e7f599 66.6px,#ffffbf 83.4px,#fee28f 102.6px,#fdc171 121.6px,#fca85e 139.4px,#f88d52 161.6px,#f67a49 189.1px,#f46d43 227.4px,#f46d43 232.9px)"></i><i style="height:1px;background:linear-gradient(90deg,#5e4fa2 0.1px,#565aa7 7.1px,#3e78b6 17.9px,#3389bd 22.6px,#69c3a5 37.9px,#b4e1a2 53.6px,#e7f599 66.9px,#ffffbe 83.9px,#fee28f 103.1px,#fdc271 122.1px,#fca85e 140.6px,#f98e52 163.1px,#f67b4a 191.1px,#f46f44 230.6px,#f46f44 232.9px)"></i><i style="height:1px;background:linear-gradient(90deg,#5e4fa2 0.1px,#565aa7 7.1px,#3e79b6 18.1px,#3389bd 22.6px,#6ac3a5 38.1px,#b4e1a2 53.9px,#e6f599 67.1px,#ffffbf 84.1px,#fee390 103.4px,#fdc474 121.4px,#fca95f 141.1px,#f98f53 163.9px,#f67d4a 192.1px,#f57145 232.4px,#f57145 232.9px)"></i><i style="height:1px;background:linear-gradient(90deg,#5e4fa2 0.1px,#565aa7 7.1px,#3e79b6 18.1px,#3288bd 22.6px,#69c3a5 38.1px,#b3e0a2 53.9px,#e6f599 67.4px,#ffffbf 84.6px,#fee390 103.9px,#fdc574 121.9px,#fca95f 142.4px,#f99053 165.4px,#f67e4b 194.1px,#f57346 232.9px)"></i><i style="height:1px;background:linear-gradient(90deg,#5e4fa2 0.1px,#565aa7 7.1px,#3e79b6 18.1px,#3288bd 22.6px,#6ac3a5 38.4px,#b3e0a2 54.1px,#e6f599 67.6px,#ffffbf 84.9px,#fee391 104.1px,#fec776 121.1px,#fdab5f 142.9px,#f99254 166.1px,#f7804c 195.4px,#f57547 232.9px)"></i><i style="height:1px;background:linear-gradient(90deg,#5e4fa2 0.1px,#565aa7 7.1px,#3e78b6 18.1px,#3389bd 22.9px,#69c3a5 38.4px,#b4e0a2 54.4px,#e7f599 68.1px,#ffffbf 85.4px,#fee391 104.9px,#fec776 122.1px,#fdab60 144.1px,#f99254 167.6px,#f7814c 197.4px,#f57748 232.9px)"></i><i style="height:1px;background:linear-gradient(90deg,#5e4fa2 0.1px,#5659a7 7.1px,#3e78b6 18.1px,#3289bd 22.9px,#6ac3a5 38.6px,#b4e1a2 54.6px,#e7f599 68.4px,#ffffbf 85.9px,#fee391 105.4px,#fec877 122.4px,#fdab60 145.4px,#f99355 169.1px,#f7824d 199.4px,#f67a49 232.9px)"></i><i style="height:1px;background:linear-gradient(90deg,#5e4fa2 0.1px,#5659a7 7.1px,#3e78b5 18.1px,#3288bd 22.9px,#69c3a5 38.6px,#b4e1a2 54.9px,#e7f599 68.6px,#ffffbf 86.1px,#fee491 105.9px,#feca78 122.4px,#fdac60 146.1px,#f99555 170.1px,#f7844e 200.9px,#f67c4a 232.9px)"></i><i style="height:1px;background:linear-gradient(90deg,#5e4fa2 0.1px,#5659a7 7.1px,#3e78b5 18.1px,#3389bd 23.1px,#6ac3a5 38.9px,#b3e0a2 54.9px,#e7f599 68.9px,#ffffbf 86.6px,#fee492 106.1px,#fecd7b 121.1px,#fdb063 144.1px,#fa9656 170.6px,#f7864e 201.6px,#f67e4b 232.9px)"></i><i style="height:1px;background:linear-gradient(90deg,#5e4fa2 0.1px,#5659a7 7.1px,#3f78b5 18.1px,#3389bd 23.1px,#69c3a5 38.9px,#b3e0a2 55.1px,#e6f599 69.1px,#ffffbf 87.1px,#fee492 106.6px,#fece7c 121.1px,#fdb264 144.1px,#fa9756 172.4px,#f8874f 204.1px,#f7804c 232.9px)"></i><i style="height:1px;background:linear-gradient(90deg,#5e4fa2 0.1px,#5659a7 7.1px,#3f78b5 18.1px,#3288bd 23.1px,#6ac3a5 39.1px,#b3e0a2 55.4px,#e6f599 69.4px,#ffffbf 87.6px,#fee492 107.4px,#fece7c 122.1px,#fdb264 145.4px,#fa9857 173.9px,#f88950 206.1px,#f7824d 232.9px)"></i><i style="height:1px;background:linear-gradient(90deg,#5e4fa2 0.1px,#5659a7 7.1px,#3e78b6 18.4px,#3288bd 23.1px,#69c3a5 39.1px,#b4e0a2 55.6px,#e7f599 69.9px,#ffffbe 88.1px,#fee493 107.9px,#fed07d 122.1px,#fdb466 145.4px,#fb9e5a 168.6px,#f88d52 199.1px,#f7854e 232.9px)"></i><i style="height:1px;background:linear-gradient(90deg,#5e4fa2 0.1px,#565aa7 7.4px,#3e79b6 18.6px,#3389bd 23.4px,#6ac3a5 39.4px,#b4e1a2 55.9px,#e7f599 70.1px,#ffffbf 88.4px,#fee593 108.1px,#fed27f 121.4px,#fdb668 144.6px,#fca45c 164.1px,#f99254 193.1px,#f8874f 232.9px)"></i><i style="height:1px;background:linear-gradient(90deg,#5e4fa2 0.1px,#565aa7 7.4px,#3e79b6 18.6px,#3289bd 23.4px,#69c3a5 39.4px,#b3e0a2 55.9px,#e7f599 70.4px,#ffffbf 88.9px,#fee594 108.6px,#fed380 121.6px,#fdb769 144.9px,#fca55d 164.6px,#f99455 193.9px,#f88950 232.9px)"></i><i style="height:1px;background:linear-gradient(90deg,#5e4fa2 0.1px,#565aa7 7.4px,#3e78b6 18.6px,#3288bd 23.4px,#69c3a5 39.6px,#b3e0a2 56.1px,#e6f599 70.6px,#ffffbf 89.4px,#fee594 109.4px,#fed380 122.6px,#fdb769 146.1px,#fca65d 166.4px,#f99555 196.4px,#f88b51 232.9px)"></i><i style="height:1px;background:linear-gradient(90deg,#5e4fa2 0.1px,#565aa7 7.4px,#3e79b6 18.9px,#3389bd 23.6px,#69c3a5 39.6px,#b3e0a2 56.4px,#e7f599 71.1px,#ffffbf 89.9px,#fee594 109.9px,#fed481 122.9px,#fdb96a 146.4px,#fca75e 167.9px,#fa9656 198.4px,#f88d52 232.9px)"></i><i style="height:1px;background:linear-gradient(90deg,#5e4fa2 0.1px,#565aa7 7.4px,#3e79b6 18.9px,#3389bd 23.6px,#69c3a5 39.9px,#b3e0a2 56.6px,#e7f599 71.4px,#ffffbf 90.4px,#fee695 110.4px,#fed582 123.1px,#fdba6b 146.9px,#fca85e 169.6px,#fa9757 200.9px,#f99053 232.9px)"></i><i style="height:1px;background:linear-gradient(90deg,#5e4fa2 0.1px,#5659a7 7.4px,#3e79b6 18.9px,#3288bd 23.6px,#69c3a5 39.9px,#b3e0a2 56.9px,#e7f599 71.6px,#ffffbf 90.9px,#fee695 110.9px,#fed582 123.9px,#fdbb6c 147.6px,#fca85e 171.6px,#fa9957 203.6px,#f99254 232.9px)"></i><i style="height:1px;background:linear-gradient(90deg,#5e4fa2 0.1px,#5659a7 7.4px,#3e79b6 18.9px,#3389bd 23.9px,#69c3a5 40.1px,#b3e0a2 57.1px,#e6f599 71.9px,#ffffbf 91.4px,#fee695 111.6px,#fed682 124.6px,#fdbb6c 148.6px,#fca95f 173.9px,#fa9a58 206.9px,#f99455 232.9px)"></i><i style="height:1px;background:linear-gradient(90deg,#5e4fa2 0.1px,#5659a7 7.4px,#3e78b6 18.9px,#3389bd 23.9px,#6ac3a5 40.4px,#b3e0a2 57.4px,#e7f599 72.4px,#ffffbf 91.9px,#fee696 112.1px,#fed683 125.4px,#fdbc6d 149.6px,#fca95f 176.4px,#fa9b58 210.6px,#fa9656 232.9px)"></i><i style="height:1px;background:linear-gradient(90deg,#5e4fa2 0.1px,#5659a7 7.4px,#3e78b5 18.9px,#3288bd 23.9px,#69c3a5 40.4px,#b3e0a2 57.4px,#e7f599 72.6px,#ffffbf 92.4px,#fee796 112.6px,#fed783 125.9px,#fdbd6e 150.1px,#fcaa5f 178.4px,#fb9c59 213.4px,#fa9857 232.9px)"></i><i style="height:1px;background:linear-gradient(90deg,#5e4fa2 0.1px,#5659a7 7.4px,#3e78b5 18.9px,#3389bd 24.1px,#69c3a5 40.6px,#b3e0a2 57.6px,#e6f599 72.9px,#ffffbf 92.9px,#fee796 113.4px,#fed784 126.9px,#fdbe6e 151.4px,#fdab60 180.9px,#fb9d59 217.1px,#fa9a58 232.9px)"></i><i style="height:1px;background:linear-gradient(90deg,#5e4fa2 0.1px,#5659a7 7.4px,#3f78b5 18.9px,#3389bd 24.1px,#69c3a5 40.6px,#b3e0a2 57.9px,#e7f599 73.4px,#ffffbf 93.4px,#fee797 113.9px,#fed884 127.4px,#fdbf6f 152.1px,#fdac60 183.1px,#fb9f5a 220.6px,#fb9d59 232.9px)"></i><i style="height:1px;background:linear-gradient(90deg,#5e4fa2 0.1px,#565aa7 7.6px,#3d79b6 19.4px,#3288bd 24.1px,#69c3a5 40.9px,#b3e0a2 58.1px,#e7f599 73.6px,#ffffbf 93.9px,#fee797 114.4px,#fed884 128.4px,#fdbf6f 153.4px,#fdad60 185.9px,#fba05b 224.9px,#fb9f5a 232.9px)"></i><i style="height:1px;background:linear-gradient(90deg,#5e4fa2 0.1px,#565aa7 7.6px,#3e79b6 19.4px,#3389bd 24.4px,#6ac3a5 41.1px,#b3e0a2 58.4px,#e7f599 74.1px,#ffffbf 94.4px,#fee797 115.4px,#fed885 129.4px,#fdc070 154.6px,#fdae61 186.1px,#fba25c 226.6px,#fba15b 232.9px)"></i><i style="height:1px;background:linear-gradient(90deg,#5e4fa2 0.1px,#565aa7 7.6px,#3e79b6 19.4px,#3389bd 24.4px,#69c3a5 41.1px,#b3e0a2 58.6px,#e7f599 74.4px,#ffffbf 95.1px,#fee898 115.9px,#fed985 130.4px,#fdc070 155.9px,#fdaf62 187.9px,#fca35c 232.1px,#fca35c 232.9px)"></i><i style="height:1px;background:linear-gradient(90deg,#5e4fa2 0.1px,#565aa7 7.6px,#3d79b6 19.6px,#3288bd 24.4px,#69c3a5 41.4px,#b3e0a2 58.9px,#e6f599 74.6px,#ffffbf 95.6px,#fee898 116.4px,#fed985 131.1px,#fdc171 156.9px,#fdb163 189.4px,#fca55d 232.9px)"></i><i style="height:1px;background:linear-gradient(90deg,#5e4fa2 0.1px,#565aa7 7.6px,#3e79b6 19.6px,#3389bd 24.6px,#69c3a5 41.4px,#b3e0a2 59.1px,#e7f599 75.1px,#ffffbf 96.1px,#fee899 116.9px,#fed985 132.1px,#fdc272 158.1px,#fdb264 191.1px,#fca85e 232.9px)"></i><i style="height:1px;background:linear-gradient(90deg,#5e4fa2 0.1px,#5659a7 7.6px,#3e79b6 19.6px,#3389bd 24.6px,#69c3a5 41.6px,#b3e0a2 59.4px,#e6f599 75.4px,#ffffbf 96.6px,#fee898 118.6px,#fed985 133.9px,#fdc272 160.4px,#fdb265 194.4px,#fcaa5f 232.9px)"></i><i style="height:1px;background:linear-gradient(90deg,#5e4fa2 0.1px,#5659a7 7.6px,#3e79b6 19.6px,#3288bd 24.6px,#6ac3a5 41.9px,#b3e0a2 59.6px,#e7f599 75.9px,#ffffbf 97.4px,#fee99a 118.4px,#feda86 134.4px,#fdc373 160.9px,#fdb466 195.1px,#fdac60 232.9px)"></i><i style="height:1px;background:linear-gradient(90deg,#5e4fa2 0.1px,#5659a7 7.6px,#3e78b6 19.6px,#3389bd 24.9px,#69c3a5 41.9px,#b3e0a2 59.9px,#e6f599 76.1px,#ffffbf 97.9px,#fee999 119.4px,#feda86 135.6px,#fdc473 162.6px,#fdb567 197.6px,#fdae61 232.9px)"></i><i style="height:1px;background:linear-gradient(90deg,#5e4fa2 0.1px,#5659a7 7.6px,#3e78b6 19.6px,#3389bd 24.9px,#69c3a5 42.1px,#b3e0a2 60.1px,#e7f599 76.6px,#ffffbf 98.6px,#fee99a 119.9px,#feda86 136.9px,#fdc474 164.1px,#fdb667 199.9px,#fdb063 232.9px)"></i><i style="height:1px;background:linear-gradient(90deg,#5e4fa2 0.1px,#5659a7 7.6px,#3e78b5 19.6px,#3288bd 24.9px,#6ac3a5 42.4px,#b3e0a2 60.4px,#e6f599 76.9px,#ffffbf 99.1px,#fee99a 120.9px,#feda86 138.1px,#fdc574 165.9px,#fdb768 202.4px,#fdb264 232.9px)"></i><i style="height:1px;background:linear-gradient(90deg,#5e4fa2 0.1px,#565aa7 7.9px,#3d79b6 20.1px,#3389bd 25.1px,#69c3a5 42.4px,#b3e0a2 60.6px,#e7f599 77.4px,#ffffbf 99.9px,#fee99b 121.4px,#fedb86 139.4px,#fdc675 167.4px,#fdb869 204.6px,#fdb365 232.9px)"></i><i style="height:1px;background:linear-gradient(90deg,#5e4fa2 0.1px,#565aa7 7.9px,#3d79b6 20.1px,#3389bd 25.1px,#69c3a5 42.6px,#b2e0a2 60.9px,#e7f599 77.9px,#ffffbf 100.4px,#fee99a 122.9px,#fedb86 140.9px,#fdc675 169.4px,#fdb96a 207.6px,#fdb567 232.9px)"></i><i style="height:1px;background:linear-gradient(90deg,#5e4fa2 0.1px,#565aa7 7.9px,#3e79b6 20.1px,#3288bd 25.1px,#6ac3a5 42.9px,#b2e0a2 61.1px,#e6f599 78.1px,#ffffbf 101.1px,#feea9c 122.9px,#fedb87 141.9px,#fec776 170.6px,#fdba6b 209.6px,#fdb768 232.9px)"></i><i style="height:1px;background:linear-gradient(90deg,#5e4fa2 0.1px,#565aa7 7.9px,#3d7ab6 20.4px,#3389bd 25.4px,#69c3a5 42.9px,#b2e0a3 61.4px,#e7f599 78.6px,#ffffbf 101.9px,#feea9c 123.6px,#fedc87 143.1px,#fec877 172.4px,#fdbb6c 212.4px,#fdb86a 232.9px)"></i><i style="height:1px;background:linear-gradient(90deg,#5e4fa2 0.1px,#565aa7 7.9px,#3d79b6 20.4px,#3389bd 25.4px,#69c3a5 43.1px,#b2e0a3 61.6px,#e6f599 78.9px,#ffffbf 102.4px,#fee99b 125.9px,#fedb87 145.4px,#fec877 175.4px,#fdbc6d 217.1px,#fdba6b 232.9px)"></i><i style="height:1px;background:linear-gradient(90deg,#5e4fa2 0.1px,#5659a7 7.9px,#3e79b6 20.4px,#3288bd 25.4px,#6ac3a5 43.4px,#b2e0a3 61.9px,#e6f599 79.4px,#ffffbf 103.1px,#feea9c 126.1px,#fedc87 146.4px,#fec978 176.6px,#fdbd6e 219.1px,#fdbc6c 232.9px)"></i><i style="height:1px;background:linear-gradient(90deg,#5e4fa2 0.1px,#5659a7 7.9px,#3e79b6 20.4px,#3389bd 25.6px,#69c3a5 43.4px,#b2e0a3 62.1px,#e7f599 79.9px,#ffffbf 103.9px,#feeb9d 126.6px,#fedc88 147.6px,#feca79 178.4px,#fdbf6f 222.1px,#fdbd6e 232.9px)"></i><i style="height:1px;background:linear-gradient(90deg,#5e4fa2 0.1px,#5659a7 7.9px,#3e79b6 20.4px,#3289bd 25.6px,#69c3a5 43.6px,#b2e0a3 62.4px,#e6f599 80.1px,#ffffbf 104.4px,#fee99a 129.9px,#fedb87 150.6px,#feca79 182.4px,#fdc070 228.6px,#fdbf6f 232.9px)"></i><i style="height:1px;background:linear-gradient(90deg,#5e4fa2 0.1px,#5659a7 7.9px,#3e78b6 20.4px,#3288bd 25.6px,#6ac3a5 43.9px,#b2e0a3 62.6px,#e6f599 80.6px,#ffffbf 105.1px,#fee99b 130.9px,#fedc87 152.4px,#fecb79 184.9px,#fdc171 232.9px)"></i><i style="height:1px;background:linear-gradient(90deg,#5e4fa2 0.1px,#5659a7 7.9px,#3e79b6 20.6px,#3389bd 25.9px,#69c3a5 43.9px,#b2e0a3 62.9px,#e6f599 81.1px,#ffffbe 105.6px,#fff8b4 113.1px,#fee796 136.4px,#feda86 156.6px,#feca79 190.6px,#fdc272 232.9px)"></i><i style="height:1px;background:linear-gradient(90deg,#5e4fa2 0.1px,#565aa7 8.1px,#3d79b6 20.9px,#3288bd 25.9px,#69c3a5 44.1px,#b1e0a3 63.1px,#e6f598 81.4px,#feffbe 105.9px,#fffebd 108.1px,#feeb9e 130.9px,#fedd89 154.4px,#fecd7b 187.6px,#fdc474 232.9px)"></i><i style="height:1px;background:linear-gradient(90deg,#5e4fa2 0.1px,#565aa7 8.1px,#3d79b6 20.9px,#3389bd 26.1px,#69c3a5 44.4px,#b1e0a3 63.4px,#e6f598 81.9px,#feffbd 106.4px,#fffebe 108.6px,#feec9e 131.6px,#fede89 155.9px,#fece7c 189.9px,#fdc675 232.9px)"></i><i style="height:1px;background:linear-gradient(90deg,#5e4fa2 0.1px,#565aa7 8.1px,#3d7ab6 21.1px,#3389bd 26.1px,#6ac3a5 44.6px,#b1dfa3 63.6px,#e6f599 82.4px,#feffbd 107.1px,#fffebe 109.4px,#feec9f 132.4px,#fede8a 157.6px,#fecf7d 192.4px,#fec776 232.9px)"></i><i style="height:1px;background:linear-gradient(90deg,#5e4fa2 0.1px,#565aa7 8.1px,#3d7ab6 21.1px,#3288bd 26.1px,#69c3a5 44.6px,#b1dfa3 63.9px,#e6f599 82.9px,#fefebd 107.6px,#fffebe 110.1px,#feeca0 133.4px,#fedf8a 159.4px,#fed07d 194.9px,#fec978 232.9px)"></i><i style="height:1px;background:linear-gradient(90deg,#5e4fa2 0.1px,#5659a7 8.1px,#3d79b6 21.1px,#3389bd 26.4px,#69c3a5 44.9px,#b1dfa3 64.1px,#e6f598 83.1px,#fdfebc 107.9px,#fffebe 110.9px,#feeda0 134.1px,#fee08b 160.9px,#fed17e 197.1px,#fecb79 232.9px)"></i><i style="height:1px;background:linear-gradient(90deg,#5e4fa2 0.1px,#5659a7 8.1px,#3e79b6 21.1px,#3288bd 26.4px,#69c3a5 45.1px,#b1dfa3 64.4px,#e6f598 83.6px,#fdfebc 108.6px,#fffebe 111.9px,#feeda1 135.4px,#fee08b 162.9px,#fed27f 199.9px,#fecd7b 232.9px)"></i><i style="height:1px;background:linear-gradient(90deg,#5e4fa2 0.1px,#5659a7 8.1px,#3e79b6 21.1px,#3389bd 26.6px,#6ac3a5 45.4px,#b1dfa3 64.9px,#e6f598 84.1px,#fdfebc 109.1px,#ffffbe 112.6px,#feeda1 136.4px,#fee08c 164.4px,#fed380 204.4px,#fece7c 232.9px)"></i><i style="height:1px;background:linear-gradient(90deg,#5e4fa2 0.1px,#5659a7 8.1px,#3e79b6 21.1px,#3389bd 26.6px,#69c3a5 45.4px,#b1dfa3 65.1px,#e6f598 84.6px,#fdfebb 109.6px,#ffffbe 113.6px,#feeda1 137.6px,#fee18d 165.9px,#fed481 205.9px,#fed07d 232.9px)"></i><i style="height:1px;background:linear-gradient(90deg,#5e4fa2 0.1px,#565aa7 8.4px,#3d7ab6 21.6px,#3288bd 26.6px,#69c3a5 45.6px,#b1dfa3 65.4px,#e6f598 85.1px,#fcfebb 110.4px,#fffebe 114.6px,#feeea2 138.6px,#fee18d 167.4px,#fed582 206.4px,#fed27f 232.9px)"></i><i style="height:1px;background:linear-gradient(90deg,#5e4fa2 0.1px,#565aa7 8.4px,#3d7ab6 21.6px,#3389bd 26.9px,#69c3a5 45.9px,#b0dfa3 65.6px,#e6f598 85.6px,#fcfeba 110.9px,#fffebe 115.6px,#feeea2 139.9px,#fee28e 168.9px,#fed783 206.6px,#fed380 232.9px)"></i><i style="height:1px;background:linear-gradient(90deg,#5e4fa2 0.1px,#565aa7 8.4px,#3d7ab6 21.9px,#3288bd 26.9px,#69c3a5 46.1px,#b0dfa3 65.9px,#e6f598 86.1px,#fcfeba 111.4px,#fffebe 116.6px,#feeea3 141.1px,#fee28f 170.6px,#fed985 207.4px,#fed582 232.9px)"></i><i style="height:1px;background:linear-gradient(90deg,#5e4fa2 0.1px,#565aa7 8.4px,#3d7ab6 21.9px,#3389bd 27.1px,#6ac3a5 46.4px,#b0dfa3 66.1px,#e6f598 86.6px,#fcfeba 112.1px,#ffffbe 117.6px,#feeea3 142.4px,#fee390 172.4px,#feda86 207.6px,#fed783 232.9px)"></i><i style="height:1px;background:linear-gradient(90deg,#5e4fa2 0.1px,#5659a7 8.4px,#3d7ab6 21.9px,#3289bd 27.1px,#69c3a5 46.4px,#b0dfa3 66.4px,#e6f598 87.1px,#fcfeba 113.1px,#ffffbe 118.6px,#feefa4 143.6px,#fee491 173.9px,#fedc87 208.6px,#fed885 232.9px)"></i><i style="height:1px;background:linear-gradient(90deg,#5e4fa2 0.1px,#5659a7 8.4px,#3d79b6 21.9px,#3389bd 27.4px,#69c3a5 46.6px,#b0dfa3 66.9px,#e6f598 87.6px,#fcfeba 114.1px,#fffebe 119.9px,#feefa4 145.1px,#fee492 176.1px,#fedd88 213.1px,#feda86 232.9px)"></i><i style="height:1px;background:linear-gradient(90deg,#5e4fa2 0.1px,#5659a7 8.4px,#3d79b6 21.9px,#3389bd 27.4px,#69c3a5 46.9px,#b0dfa3 67.1px,#e6f598 88.1px,#fcfeba 115.4px,#fffebe 121.1px,#feefa5 146.6px,#fee593 178.1px,#fedd89 218.4px,#fedc87 232.9px)"></i><i style="height:1px;background:linear-gradient(90deg,#5e4fa2 0.1px,#5659a7 8.4px,#3d7ab6 22.1px,#3288bd 27.4px,#69c3a5 47.1px,#afdfa3 67.4px,#e5f598 88.6px,#fcfeba 116.4px,#ffffbe 122.1px,#fff0a5 147.9px,#fee594 179.9px,#fede8a 223.1px,#fedd89 232.9px)"></i><i style="height:1px;background:linear-gradient(90deg,#5e4fa2 0.1px,#565aa7 8.6px,#3d7ab6 22.4px,#3389bd 27.6px,#69c3a5 47.4px,#b0dfa3 67.9px,#e5f598 89.1px,#fcfebb 117.9px,#ffffbe 123.4px,#fff0a6 149.4px,#fee695 181.9px,#fedf8b 228.6px,#fedf8a 232.9px)"></i><i style="height:1px;background:linear-gradient(90deg,#5e4fa2 0.1px,#565aa7 8.6px,#3c7ab7 22.6px,#3288bd 27.6px,#69c3a5 47.6px,#afdfa3 68.1px,#e4f498 89.4px,#fafdb8 116.1px,#ffffbe 124.6px,#fff0a6 151.1px,#fee695 184.4px,#fee08c 232.9px)"></i><i style="height:1px;background:linear-gradient(90deg,#5e4fa2 0.1px,#565aa7 8.6px,#3d7ab6 22.6px,#3389bd 27.9px,#69c3a5 47.6px,#afdfa3 68.4px,#e4f498 89.9px,#f9fdb6 115.4px,#ffffbe 125.9px,#fff0a7 152.6px,#fee796 186.4px,#fee28e 232.9px)"></i><i style="height:1px;background:linear-gradient(90deg,#5e4fa2 0.1px,#565aa7 8.6px,#3d7ab6 22.6px,#3288bd 27.9px,#69c3a5 47.9px,#afdfa3 68.6px,#e3f499 90.1px,#e9f69c 94.1px,#fcfeba 120.6px,#fffebe 127.4px,#fff1a7 154.4px,#fee797 188.9px,#fee38f 232.9px)"></i><i style="height:1px;background:linear-gradient(90deg,#5e4fa2 0.1px,#5659a7 8.6px,#3d7ab6 22.6px,#3389bd 28.1px,#69c3a5 48.1px,#afdfa3 69.1px,#e3f499 90.6px,#e8f69b 94.4px,#fbfdb9 120.9px,#ffffbe 128.6px,#fff1a8 156.1px,#fee898 191.4px,#fee491 232.9px)"></i><i style="height:1px;background:linear-gradient(90deg,#5e4fa2 0.1px,#5659a7 8.6px,#3d79b6 22.6px,#3288bd 28.1px,#69c3a5 48.4px,#afdfa3 69.4px,#e2f499 90.9px,#e7f69a 94.1px,#fafdb8 120.9px,#ffffbe 130.1px,#fff1a8 157.9px,#fee999 193.9px,#fee593 232.9px)"></i><i style="height:1px;background:linear-gradient(90deg,#5e4fa2 0.1px,#5659a7 8.6px,#3d7ab6 22.9px,#3389bd 28.4px,#69c3a5 48.6px,#aedea3 69.6px,#e2f399 91.1px,#e7f59a 94.6px,#fafdb7 121.4px,#ffffbe 131.6px,#fff2a9 159.9px,#fee99a 196.9px,#fee695 232.9px)"></i><i style="height:1px;background:linear-gradient(90deg,#5e4fa2 0.1px,#5659a7 8.6px,#3d7ab6 22.9px,#3289bd 28.4px,#69c3a5 48.9px,#afdea3 70.1px,#e1f399 91.6px,#e7f59a 95.1px,#fafdb7 122.1px,#ffffbe 133.1px,#fff2a9 161.9px,#feea9b 199.9px,#fee796 232.9px)"></i><i style="height:1px;background:linear-gradient(90deg,#5e4fa2 0.1px,#565aa7 8.9px,#3c7bb7 23.4px,#3389bd 28.6px,#69c3a5 49.1px,#aedea3 70.4px,#e0f399 91.9px,#e7f59a 95.9px,#fafdb6 122.9px,#fffebe 134.9px,#fff2aa 164.1px,#feea9c 203.4px,#fee898 232.9px)"></i><i style="height:1px;background:linear-gradient(90deg,#5e4fa2 0.1px,#565aa7 8.9px,#3c7ab7 23.4px,#3289bd 28.6px,#69c3a5 49.4px,#aedea3 70.6px,#e0f399 92.4px,#e7f59a 96.6px,#f9fdb6 123.9px,#ffffbe 136.4px,#fff3aa 166.1px,#feeb9d 206.4px,#fee99a 232.9px)"></i><i style="height:1px;background:linear-gradient(90deg,#5e4fa2 0.1px,#565aa7 8.9px,#3d7ab6 23.4px,#3389bd 28.9px,#69c3a5 49.6px,#aedea3 71.1px,#e0f299 92.9px,#e7f59a 97.4px,#f9fdb6 124.6px,#ffffbe 138.1px,#fff3ab 168.4px,#feec9f 209.9px,#feea9c 232.9px)"></i><i style="height:1px;background:linear-gradient(90deg,#5e4fa2 0.1px,#565aa7 8.9px,#3d7ab6 23.4px,#3289bd 28.9px,#69c3a5 49.9px,#aedea3 71.4px,#dff299 93.1px,#e7f599 97.9px,#f9fcb5 125.4px,#ffffbe 140.1px,#fff3ab 171.1px,#feeca0 214.4px,#feeb9d 232.9px)"></i><i style="height:1px;background:linear-gradient(90deg,#5e4fa2 0.1px,#5659a7 8.9px,#3d7ab7 23.6px,#3389bd 29.1px,#69c3a5 50.1px,#aedea3 71.9px,#dff29a 93.6px,#e7f599 98.6px,#f9fcb5 126.4px,#fffebe 142.1px,#fff4ac 173.6px,#feeda1 218.4px,#feec9f 232.9px)"></i><i style="height:1px;background:linear-gradient(90deg,#5e4fa2 0.1px,#5659a7 8.9px,#3d7ab6 23.6px,#3289bd 29.1px,#69c3a5 50.4px,#addea4 72.1px,#def29a 93.9px,#e7f599 99.4px,#f8fcb4 127.1px,#ffffbe 144.1px,#fff4ad 176.4px,#feeea2 222.9px,#feeda1 232.9px)"></i><i style="height:1px;background:linear-gradient(90deg,#5e4fa2 0.1px,#5659a7 8.9px,#3d7ab6 23.6px,#3389bd 29.4px,#69c3a5 50.6px,#addea3 72.6px,#ddf19a 94.4px,#e7f599 100.1px,#f8fcb4 128.1px,#ffffbe 146.1px,#fff4ad 179.1px,#feeea3 227.6px,#feeea3 232.9px)"></i><i style="height:1px;background:linear-gradient(90deg,#5e4fa2 0.1px,#565aa7 9.1px,#3c7bb7 24.1px,#3288bd 29.4px,#69c3a5 50.9px,#addea4 72.9px,#ddf19a 94.9px,#e7f599 100.9px,#f8fcb4 129.1px,#ffffbe 148.4px,#fff5ae 182.1px,#feefa4 232.9px)"></i><i style="height:1px;background:linear-gradient(90deg,#5e4fa2 0.1px,#565aa7 9.1px,#3c7bb7 24.1px,#3389bd 29.6px,#69c3a5 51.1px,#addea4 73.4px,#dcf19a 95.4px,#e7f599 101.9px,#f8fcb3 130.4px,#ffffbe 150.9px,#fff5ae 185.6px,#fff0a6 232.9px)"></i><i style="height:1px;background:linear-gradient(90deg,#5e4fa2 0.1px,#565aa7 9.1px,#3d7ab6 24.1px,#3288bd 29.6px,#69c3a5 51.4px,#addea4 73.6px,#dbf19a 95.6px,#e7f599 102.6px,#f7fcb3 131.1px,#ffffbe 153.4px,#fff6af 189.4px,#fff1a8 232.9px)"></i><i style="height:1px;background:linear-gradient(90deg,#5e4fa2 0.1px,#5659a7 9.1px,#3c7bb7 24.4px,#3389bd 29.9px,#69c3a5 51.6px,#addea4 74.1px,#dbf19a 96.1px,#e7f599 103.6px,#f7fcb3 132.4px,#ffffbe 156.1px,#fff6b0 193.1px,#fff2aa 232.9px)"></i><i style="height:1px;background:linear-gradient(90deg,#5e4fa2 0.1px,#5659a7 9.1px,#3d7ab7 24.4px,#3288bd 29.9px,#69c3a5 51.9px,#acdda4 74.4px,#daf09a 96.6px,#e7f599 104.4px,#f7fcb2 133.4px,#ffffbe 158.9px,#fff6b1 197.4px,#fff3ab 232.9px)"></i><i style="height:1px;background:linear-gradient(90deg,#5e4fa2 0.1px,#5659a7 9.1px,#3d7ab6 24.4px,#3389bd 30.1px,#69c3a5 52.1px,#acdda4 74.9px,#daf09a 97.1px,#e7f599 105.4px,#f6fcb2 134.6px,#ffffbf 161.9px,#fff7b1 201.9px,#fff4ad 232.9px)"></i><i style="height:1px;background:linear-gradient(90deg,#5e4fa2 0.1px,#565aa7 9.4px,#3c7bb7 24.9px,#3389bd 30.4px,#69c3a5 52.4px,#acdda4 75.1px,#d9f09b 97.4px,#e7f599 106.4px,#f6fcb1 135.9px,#ffffbf 165.1px,#fff7b2 206.9px,#fff5af 232.9px)"></i><i style="height:1px;background:linear-gradient(90deg,#5e4fa2 0.1px,#565aa7 9.4px,#3c7bb7 24.9px,#3389bd 30.4px,#69c3a5 52.9px,#acdda4 75.6px,#d8ef9b 97.9px,#e7f599 107.4px,#f6fbb1 137.1px,#ffffbf 168.6px,#fff8b3 212.4px,#fff6b1 232.9px)"></i><i style="height:1px;background:linear-gradient(90deg,#5e4fa2 0.1px,#565aa7 9.4px,#3c7bb7 25.1px,#3389bd 30.6px,#69c3a5 53.1px,#acdda4 76.1px,#d8ef9b 98.4px,#e7f599 108.4px,#f6fbb1 138.4px,#ffffbf 172.6px,#fff8b4 218.9px,#fff7b2 232.9px)"></i><i style="height:1px;background:linear-gradient(90deg,#5e4fa2 0.1px,#565aa7 9.4px,#3c7bb7 25.1px,#3288bd 30.6px,#69c3a5 53.4px,#abdda4 76.4px,#d7ef9b 98.9px,#e7f599 109.4px,#f5fbb0 139.6px,#ffffbf 176.6px,#fff9b5 225.6px,#fff9b4 232.9px)"></i><i style="height:1px;background:linear-gradient(90deg,#5e4fa2 0.1px,#5659a7 9.4px,#3c7bb7 25.1px,#3389bd 30.9px,#69c3a5 53.6px,#abdda4 76.9px,#d7ef9b 99.4px,#e7f599 110.4px,#f5fbb0 140.9px,#ffffbf 179.6px,#fffab6 232.9px)"></i><i style="height:1px;background:linear-gradient(90deg,#5e4fa2 0.1px,#5659a7 9.4px,#3d7ab6 25.1px,#3288bd 30.9px,#69c3a5 53.9px,#abdda4 77.4px,#d6ef9b 99.9px,#e7f599 111.4px,#f5fbaf 142.1px,#feffbe 181.4px,#fffebd 194.1px,#fffbb8 232.9px)"></i><i style="height:1px;background:linear-gradient(90deg,#5e4fa2 0.1px,#565aa7 9.6px,#3c7bb7 25.6px,#3389bd 31.1px,#69c3a5 54.4px,#abdda4 77.9px,#d5ee9b 100.4px,#e7f599 112.6px,#f5fbaf 143.9px,#fefebd 183.9px,#fffebe 199.9px,#fffcb9 232.9px)"></i><i style="height:1px;background:linear-gradient(90deg,#5e4fa2 0.1px,#565aa7 9.6px,#3c7bb7 25.9px,#3389bd 31.4px,#69c3a5 54.6px,#aadda4 78.1px,#d4ee9c 100.4px,#e7f599 113.9px,#f4fbaf 145.4px,#fdfebc 186.4px,#fffebe 208.6px,#fffdbb 232.9px)"></i><i style="height:1px;background:linear-gradient(90deg,#5e4fa2 0.1px,#565aa7 9.6px,#3c7bb7 25.9px,#3288bd 31.4px,#69c3a5 54.9px,#a9dca4 78.4px,#d2ed9c 100.1px,#e7f599 114.9px,#f4fbae 146.6px,#fdfebb 188.1px,#fffebe 220.4px,#fffebd 232.9px)"></i><i style="height:1px;background:linear-gradient(90deg,#5e4fa2 0.1px,#565aa7 9.6px,#3c7bb7 25.9px,#3389bd 31.6px,#69c3a5 55.1px,#a9dca4 78.6px,#d1ec9c 100.1px,#e7f599 116.1px,#f4fbae 148.4px,#fcfebb 190.9px,#ffffbf 232.9px)"></i><i style="height:1px;background:linear-gradient(90deg,#5e4fa2 0.1px,#5659a7 9.6px,#3c7bb7 26.1px,#3389bd 31.9px,#69c3a5 55.6px,#a8dca4 79.1px,#d0ec9c 100.6px,#e7f599 117.4px,#f4faad 150.1px,#fcfeba 193.6px,#feffbe 232.9px)"></i><i style="height:1px;background:linear-gradient(90deg,#5e4fa2 0.1px,#5659a7 9.6px,#3c7bb7 26.1px,#3289bd 31.9px,#69c3a5 55.9px,#a8dca4 79.4px,#ceeb9d 100.4px,#e7f599 118.9px,#f3faad 151.9px,#fbfdb9 196.4px,#fdfebd 232.9px)"></i><i style="height:1px;background:linear-gradient(90deg,#5e4fa2 0.1px,#565aa7 9.9px,#3c7cb7 26.6px,#3389bd 32.1px,#69c3a5 56.1px,#a7dba4 79.6px,#cceb9d 100.1px,#e7f599 119.9px,#f3faac 153.4px,#fbfdb8 198.9px,#fdfebb 232.9px)"></i><i style="height:1px;background:linear-gradient(90deg,#5e4fa2 0.1px,#565aa7 9.9px,#3c7bb7 26.6px,#3389bd 32.4px,#69c3a5 56.6px,#a7dba4 80.1px,#cbea9d 100.4px,#e6f599 121.1px,#f3faac 155.1px,#fafdb7 201.9px,#fcfeba 232.9px)"></i><i style="height:1px;background:linear-gradient(90deg,#5e4fa2 0.1px,#565aa7 9.9px,#3c7cb7 26.9px,#3289bd 32.4px,#69c3a5 56.9px,#a6dba4 80.4px,#cae99e 100.1px,#e6f598 122.1px,#f2faab 156.4px,#f9fdb6 203.9px,#fbfdb9 232.9px)"></i><i style="height:1px;background:linear-gradient(90deg,#5e4fa2 0.1px,#5659a7 9.9px,#3c7bb7 26.9px,#3389bd 32.6px,#69c3a5 57.1px,#a5dba4 80.6px,#c8e99e 99.9px,#e6f598 123.4px,#f2faaa 158.1px,#f9fcb5 206.9px,#fafdb7 232.9px)"></i><i style="height:1px;background:linear-gradient(90deg,#5e4fa2 0.1px,#5659a7 9.9px,#3c7bb7 26.9px,#3389bd 32.9px,#69c3a5 57.6px,#a5dba4 81.1px,#c7e89e 100.1px,#e6f598 124.4px,#f2faaa 161.6px,#f8fcb5 212.9px,#f9fdb6 232.9px)"></i><i style="height:1px;background:linear-gradient(90deg,#5e4fa2 0.1px,#565aa7 10.1px,#3b7cb7 27.4px,#3289bd 32.9px,#69c3a5 57.9px,#a4daa4 81.4px,#c4e79f 99.6px,#e4f498 124.1px,#eaf79f 137.6px,#f4fbad 177.1px,#f8fcb5 232.9px)"></i><i style="height:1px;background:linear-gradient(90deg,#5e4fa2 0.1px,#565aa7 10.1px,#3b7cb7 27.6px,#3389bd 33.1px,#69c3a5 58.4px,#a4daa4 81.9px,#c3e79f 99.9px,#e2f499 124.4px,#e7f69a 131.6px,#f2faaa 169.1px,#f7fcb3 226.4px,#f8fcb3 232.9px)"></i><i style="height:1px;background:linear-gradient(90deg,#5e4fa2 0.1px,#565aa7 10.1px,#3b7cb7 27.6px,#3389bd 33.4px,#69c3a5 58.6px,#a3daa4 82.1px,#c1e6a0 99.1px,#e0f399 123.6px,#e7f59a 132.4px,#f1f9a9 170.4px,#f7fcb2 228.9px,#f7fcb2 232.9px)"></i><i style="height:1px;background:linear-gradient(90deg,#5e4fa2 0.1px,#5659a7 10.1px,#3b7cb7 27.9px,#3288bd 33.4px,#69c3a5 59.1px,#a2daa4 82.6px,#bfe5a0 99.1px,#def29a 123.9px,#e7f59a 134.4px,#f1f9a9 173.1px,#f6fbb1 232.9px)"></i><i style="height:1px;background:linear-gradient(90deg,#5e4fa2 0.1px,#5659a7 10.1px,#3c7cb7 27.9px,#3389bd 33.6px,#69c3a5 59.4px,#a1d9a4 82.9px,#bde4a0 98.4px,#dcf19a 123.1px,#e7f599 136.1px,#f0f9a8 175.6px,#f5fbaf 232.9px)"></i><i style="height:1px;background:linear-gradient(90deg,#5e4fa2 0.1px,#565aa7 10.4px,#3b7cb8 28.4px,#3389bd 33.9px,#69c3a5 59.9px,#a1d9a4 83.4px,#bbe4a1 98.4px,#daf09a 123.1px,#e7f599 138.1px,#f0f9a8 178.6px,#f4fbae 232.9px)"></i><i style="height:1px;background:linear-gradient(90deg,#5e4fa2 0.1px,#565aa7 10.4px,#3b7cb7 28.4px,#3389bd 34.1px,#69c3a5 60.1px,#a0d9a4 83.6px,#bae3a1 98.1px,#d8f09b 122.9px,#e7f599 140.4px,#f0f9a7 181.9px,#f3faad 232.9px)"></i><i style="height:1px;background:linear-gradient(90deg,#5e4fa2 0.1px,#565aa7 10.4px,#3b7cb7 28.6px,#3389bd 34.4px,#69c3a5 60.6px,#a0d9a4 84.1px,#b8e2a1 98.4px,#d7ef9b 123.4px,#e7f599 142.9px,#eff9a6 185.6px,#f3faac 232.9px)"></i><i style="height:1px;background:linear-gradient(90deg,#5e4fa2 0.1px,#5659a7 10.4px,#3b7cb7 28.6px,#3389bd 34.4px,#68c3a5 60.9px,#9fd8a4 84.6px,#b8e2a1 98.9px,#d6ef9b 123.9px,#e7f599 145.4px,#eff9a6 189.6px,#f2faaa 232.9px)"></i><i style="height:1px;background:linear-gradient(90deg,#5e4fa2 0.1px,#5659a7 10.4px,#3b7cb7 28.9px,#3389bd 34.6px,#69c3a5 61.4px,#9fd8a4 85.1px,#b7e2a2 99.4px,#d5ee9b 124.6px,#e7f599 147.9px,#eef8a5 193.4px,#f1f9a9 232.9px)"></i><i style="height:1px;background:linear-gradient(90deg,#5e4fa2 0.1px,#565aa7 10.6px,#3b7db8 29.4px,#3389bd 34.9px,#69c3a5 61.9px,#9ed8a4 85.6px,#b6e2a2 99.9px,#d4ee9c 125.4px,#e7f599 150.4px,#eef8a4 197.4px,#f0f9a8 232.9px)"></i><i style="height:1px;background:linear-gradient(90deg,#5e4fa2 0.1px,#565aa7 10.6px,#3b7db8 29.4px,#3389bd 35.1px,#68c3a5 62.1px,#9dd8a4 85.9px,#b5e1a2 100.1px,#d3ed9c 125.6px,#e6f598 152.6px,#edf8a4 201.1px,#eff9a6 232.9px)"></i><i style="height:1px;background:linear-gradient(90deg,#5e4fa2 0.1px,#565aa7 10.6px,#3b7db8 29.6px,#3389bd 35.4px,#69c3a5 62.6px,#9dd7a4 86.4px,#b5e1a2 100.9px,#d2ed9c 126.6px,#e6f598 155.1px,#edf8a3 205.4px,#eef8a5 232.9px)"></i><i style="height:1px;background:linear-gradient(90deg,#5e4fa2 0.1px,#5659a7 10.6px,#3b7cb7 29.6px,#3289bd 35.4px,#69c3a5 63.1px,#9cd7a4 86.9px,#b4e1a2 101.6px,#d1ed9c 127.6px,#e6f598 157.9px,#edf8a2 211.9px,#edf8a4 232.9px)"></i><i style="height:1px;background:linear-gradient(90deg,#5e4fa2 0.1px,#565aa7 10.9px,#3a7eb8 30.4px,#3389bd 35.6px,#69c3a5 63.6px,#9cd7a4 87.4px,#b4e1a2 102.4px,#d0ec9c 128.4px,#e4f498 158.9px,#ecf7a1 212.6px,#edf8a2 232.9px)"></i><i style="height:1px;background:linear-gradient(90deg,#5e4fa2 0.1px,#565aa7 10.9px,#3a7db8 30.4px,#3389bd 35.9px,#68c3a5 63.9px,#9bd7a4 87.6px,#b3e0a2 102.9px,#cfec9d 129.1px,#e3f499 159.9px,#e9f69c 185.1px,#ecf7a1 232.9px)"></i><i style="height:1px;background:linear-gradient(90deg,#5e4fa2 0.1px,#565aa7 10.9px,#3a7db8 30.6px,#3389bd 36.1px,#68c3a5 64.4px,#9bd7a4 88.4px,#b3e0a2 103.9px,#cfeb9d 130.4px,#e2f399 161.6px,#e7f69a 182.1px,#ebf7a0 232.9px)"></i><i style="height:1px;background:linear-gradient(90deg,#5e4fa2 0.1px,#5659a7 10.9px,#3b7db8 30.6px,#3389bd 36.4px,#68c3a5 64.9px,#9ad6a4 88.9px,#b3e0a2 104.9px,#ceeb9d 131.6px,#e1f399 163.4px,#e7f59a 186.9px,#eaf79e 232.9px)"></i><i style="height:1px;background:linear-gradient(90deg,#5e4fa2 0.1px,#565aa7 11.1px,#3a7eb8 31.4px,#3389bd 36.6px,#68c3a5 65.4px,#99d6a4 89.4px,#b2e0a2 105.9px,#cdeb9d 132.9px,#e0f299 165.1px,#e7f59a 193.4px,#e9f69d 232.9px)"></i><i style="height:1px;background:linear-gradient(90deg,#5e4fa2 0.1px,#565aa7 11.1px,#3a7eb8 31.4px,#3389bd 36.9px,#68c3a5 65.9px,#99d6a4 89.9px,#b2e0a3 106.9px,#cceb9d 134.1px,#dff29a 166.9px,#e7f599 200.9px,#e8f69c 232.9px)"></i><i style="height:1px;background:linear-gradient(90deg,#5e4fa2 0.1px,#565aa7 11.1px,#3a7eb8 31.6px,#3389bd 37.1px,#68c3a5 66.4px,#98d6a4 90.4px,#b2e0a3 107.9px,#ccea9d 135.4px,#ddf19a 168.6px,#e6f599 208.9px,#e8f69a 232.9px)"></i><i style="height:1px;background:linear-gradient(90deg,#5e4fa2 0.1px,#5659a7 11.1px,#3a7db8 31.6px,#3389bd 37.4px,#68c3a5 66.9px,#97d5a4 90.9px,#b1e0a3 108.9px,#cbea9e 136.6px,#dcf19a 170.4px,#e6f598 217.6px,#e7f599 232.9px)"></i><i style="height:1px;background:linear-gradient(90deg,#5e4fa2 0.1px,#565aa7 11.4px,#397fb9 32.4px,#3389bd 37.6px,#68c3a5 67.4px,#97d5a4 91.6px,#b1dfa3 109.9px,#caea9e 137.9px,#dbf09a 172.1px,#e5f598 222.4px,#e6f598 232.9px)"></i><i style="height:1px;background:linear-gradient(90deg,#5e4fa2 0.1px,#565aa7 11.4px,#3a7eb8 32.4px,#3389bd 37.9px,#68c3a5 67.9px,#96d5a4 92.1px,#b1dfa3 111.1px,#c9e99e 139.4px,#daf09b 174.4px,#e3f499 226.6px,#e4f498 232.9px)"></i><i style="height:1px;background:linear-gradient(90deg,#5e4fa2 0.1px,#565aa7 11.4px,#3a7eb8 32.6px,#3389bd 38.1px,#68c3a5 68.4px,#95d5a4 92.6px,#b0dfa3 112.1px,#c8e99e 140.9px,#d8f09b 176.6px,#e2f399 230.9px,#e2f399 232.9px)"></i><i style="height:1px;background:linear-gradient(90deg,#5e4fa2 0.1px,#5659a7 11.4px,#3a7eb8 32.6px,#3389bd 38.4px,#68c3a5 68.9px,#95d4a4 93.1px,#b0dfa3 113.1px,#c7e99e 142.1px,#d7ef9b 178.4px,#e0f299 232.9px)"></i><i style="height:1px;background:linear-gradient(90deg,#5e4fa2 0.1px,#565aa7 11.6px,#397fb9 33.4px,#3389bd 38.6px,#68c3a5 69.4px,#94d4a4 93.9px,#afdfa3 114.4px,#c6e89e 143.6px,#d6ee9b 180.6px,#def29a 232.9px)"></i><i style="height:1px;background:linear-gradient(90deg,#5e4fa2 0.1px,#565aa7 11.6px,#397fb9 33.6px,#3389bd 38.9px,#67c3a5 69.9px,#93d4a4 94.4px,#afdfa3 115.6px,#c6e89f 145.4px,#d5ee9c 183.1px,#dcf19a 232.9px)"></i><i style="height:1px;background:linear-gradient(90deg,#5e4fa2 0.1px,#565aa7 11.6px,#397eb8 33.6px,#3389bd 39.1px,#67c2a5 70.4px,#93d3a4 94.9px,#aedea3 116.6px,#c5e79f 146.6px,#d3ed9c 185.1px,#daf09a 232.9px)"></i><i style="height:1px;background:linear-gradient(90deg,#5e4fa2 0.1px,#5659a7 11.6px,#397eb8 33.9px,#3389bd 39.4px,#67c3a5 71.1px,#92d3a4 95.6px,#aedea3 118.1px,#c4e79f 148.6px,#d2ed9c 188.1px,#d8ef9b 232.9px)"></i><i style="height:1px;background:linear-gradient(90deg,#5e4fa2 0.1px,#565aa7 11.9px,#397fb9 34.6px,#3389bd 39.6px,#67c2a5 71.6px,#91d3a4 96.4px,#aedea3 119.4px,#c3e79f 150.1px,#d0ec9c 190.4px,#d6ee9b 232.9px)"></i><i style="height:1px;background:linear-gradient(90deg,#5e4fa2 0.1px,#565aa7 11.9px,#397fb9 34.9px,#3389bd 39.9px,#67c2a5 72.1px,#91d3a4 96.9px,#addea4 120.4px,#c2e69f 151.6px,#cfec9d 192.9px,#d4ee9c 232.9px)"></i><i style="height:1px;background:linear-gradient(90deg,#5e4fa2 0.1px,#5659a7 11.9px,#397fb9 34.9px,#3389bd 40.1px,#67c2a5 72.9px,#90d2a4 97.6px,#addea4 121.9px,#c1e6a0 153.6px,#ceeb9d 196.1px,#d2ed9c 232.9px)"></i><i style="height:1px;background:linear-gradient(90deg,#5e4fa2 0.1px,#565aa7 12.1px,#3880b9 35.9px,#3389bd 40.6px,#67c2a5 73.4px,#8fd2a4 98.4px,#acdda4 123.1px,#c0e5a0 155.4px,#ccea9d 198.9px,#d0ec9d 232.9px)"></i><i style="height:1px;background:linear-gradient(90deg,#5e4fa2 0.1px,#565aa7 12.1px,#3880b9 35.9px,#3389bd 40.9px,#67c2a5 74.1px,#8fd2a4 99.1px,#acdda4 124.6px,#bfe5a0 157.4px,#cbea9e 202.1px,#ceeb9d 232.9px)"></i><i style="height:1px;background:linear-gradient(90deg,#5e4fa2 0.1px,#5659a7 12.1px,#3880b9 36.1px,#3389bd 41.1px,#66c2a5 74.6px,#8ed2a4 99.9px,#abdda4 126.1px,#bee5a0 159.4px,#c9e99e 205.4px,#ccea9d 232.9px)"></i><i style="height:1px;background:linear-gradient(90deg,#5e4fa2 0.1px,#565aa7 12.4px,#3881ba 36.9px,#3389bd 41.4px,#66c2a5 75.4px,#8dd1a4 100.6px,#aadda4 126.9px,#bce4a1 159.4px,#c7e99e 205.9px,#caea9e 232.9px)"></i><i style="height:1px;background:linear-gradient(90deg,#5e4fa2 0.1px,#565aa7 12.4px,#3881ba 37.1px,#3389bd 41.6px,#66c2a5 75.9px,#8dd1a4 101.4px,#a9dca4 127.9px,#bae3a1 159.6px,#c5e89f 206.4px,#c8e99e 232.9px)"></i><i style="height:1px;background:linear-gradient(90deg,#5e4fa2 0.1px,#5659a7 12.4px,#3881ba 37.4px,#3389bd 42.1px,#66c2a5 76.6px,#8cd1a4 102.4px,#a8dca4 129.1px,#b8e2a1 160.1px,#c4e79f 207.6px,#c6e89f 232.9px)"></i><i style="height:1px;background:linear-gradient(90deg,#5e4fa2 0.1px,#565aa7 12.6px,#3782ba 38.4px,#3389bd 42.4px,#65c1a5 77.1px,#8cd1a4 103.4px,#a7dba4 130.4px,#b7e2a2 160.6px,#c2e69f 208.6px,#c4e79f 232.9px)"></i><i style="height:1px;background:linear-gradient(90deg,#5e4fa2 0.1px,#565aa7 12.6px,#3782ba 38.6px,#3389bd 42.6px,#65c1a6 77.4px,#8bd1a4 104.6px,#a6dba4 132.1px,#b5e1a2 162.1px,#c0e6a0 211.4px,#c2e69f 232.9px)"></i><i style="height:1px;background:linear-gradient(90deg,#5e4fa2 0.1px,#5659a7 12.6px,#3782ba 38.9px,#3389bd 43.1px,#64c0a6 77.6px,#8bd1a4 105.9px,#a5dba4 133.6px,#b4e1a2 162.9px,#bee5a0 212.9px,#c0e6a0 232.9px)"></i><i style="height:1px;background:linear-gradient(90deg,#5e4fa2 0.1px,#565aa7 12.9px,#3683bb 39.9px,#3389bd 43.4px,#63bfa6 77.9px,#7dcba5 95.9px,#9ad6a4 122.6px,#addea4 151.1px,#bae3a1 194.9px,#bee5a0 232.9px)"></i><i style="height:1px;background:linear-gradient(90deg,#5e4fa2 0.1px,#565aa7 12.9px,#3683bb 40.1px,#3389bd 43.9px,#63bfa6 78.4px,#74c7a5 90.4px,#93d4a4 116.9px,#a9dca4 146.6px,#b6e2a2 186.4px,#bce4a1 232.9px)"></i><i style="height:1px;background:linear-gradient(90deg,#5e4fa2 0.1px,#5659a7 12.9px,#3683ba 40.4px,#3389bd 44.1px,#62bea7 78.6px,#6ec5a5 87.4px,#8ed2a4 113.9px,#a5dba4 143.4px,#b2e0a3 176.1px,#bae3a1 232.9px)"></i><i style="height:1px;background:linear-gradient(90deg,#5e4fa2 0.1px,#565aa7 13.1px,#3584bb 41.4px,#3389bd 44.6px,#62bda7 79.1px,#6dc5a5 87.6px,#8dd1a4 114.1px,#a4daa4 143.9px,#b0dfa3 175.1px,#b8e2a1 232.9px)"></i><i style="height:1px;background:linear-gradient(90deg,#5e4fa2 0.1px,#565aa7 13.1px,#3584bb 41.9px,#3389bd 44.9px,#61bca7 79.4px,#6cc4a5 87.9px,#8bd1a4 114.6px,#a2d9a4 144.6px,#afdfa3 177.6px,#b6e1a2 232.9px)"></i><i style="height:1px;background:linear-gradient(90deg,#5e4fa2 0.1px,#565aa7 13.4px,#3485bc 43.1px,#3389bc 45.6px,#61bca8 79.9px,#6bc4a5 88.6px,#8ad0a4 115.6px,#a0d9a4 145.9px,#aedea3 181.1px,#b4e1a2 232.9px)"></i><i style="height:1px;background:linear-gradient(90deg,#5e4fa2 0.1px,#565aa7 13.4px,#3485bc 43.4px,#3389bd 45.9px,#60bba8 80.1px,#6bc4a5 89.4px,#89d0a4 116.4px,#9fd8a4 146.9px,#acdea4 184.6px,#b2e0a3 232.9px)"></i><i style="height:1px;background:linear-gradient(90deg,#5e4fa2 0.1px,#565aa7 13.4px,#3485bc 43.9px,#3389bc 46.4px,#5fbaa8 80.6px,#6bc4a5 90.4px,#89d0a4 117.6px,#9ed8a4 148.6px,#abdda4 188.9px,#b0dfa3 232.9px)"></i><i style="height:1px;background:linear-gradient(90deg,#5e4fa2 0.1px,#565aa7 13.6px,#3387bd 45.4px,#5eb9a9 80.4px,#6ac4a5 91.1px,#88cfa5 118.6px,#9cd7a4 150.1px,#aadca4 191.6px,#aedea3 232.9px)"></i><i style="height:1px;background:linear-gradient(90deg,#5e4fa2 0.1px,#565aa7 13.6px,#3387bc 45.6px,#368dbb 49.6px,#60bba8 83.1px,#6bc4a5 92.9px,#87cfa5 120.6px,#9bd7a4 152.6px,#a8dca4 195.4px,#acdda4 232.9px)"></i><i style="height:1px;background:linear-gradient(90deg,#5e4fa2 0.1px,#565aa7 13.9px,#3389bd 47.4px,#5db8a9 81.9px,#6ac3a5 93.4px,#86cfa5 121.4px,#9ad6a4 153.9px,#a6dba4 197.6px,#aadda4 232.9px)"></i><i style="height:1px;background:linear-gradient(90deg,#5e4fa2 0.1px,#565aa7 13.9px,#3389bd 47.6px,#5db8a9 82.1px,#6ac3a5 94.6px,#85cea5 122.9px,#98d6a4 155.9px,#a4daa4 200.9px,#a8dca4 232.9px)"></i><i style="height:1px;background:linear-gradient(90deg,#5e4fa2 0.1px,#565aa7 14.1px,#3389bd 48.1px,#5cb7aa 82.6px,#69c3a5 95.9px,#85cea5 124.6px,#97d5a4 158.4px,#a3daa4 205.1px,#a5dba4 232.9px)"></i><i style="height:1px;background:linear-gradient(90deg,#5e4fa2 0.1px,#565aa7 14.1px,#3389bd 48.6px,#5bb6aa 83.1px,#6ac3a5 97.4px,#84cea5 126.4px,#96d5a4 160.6px,#a1d9a4 209.1px,#a3daa4 232.9px)"></i><i style="height:1px;background:linear-gradient(90deg,#5e4fa2 0.1px,#565aa7 14.4px,#3389bd 49.1px,#5bb6aa 83.6px,#69c3a5 98.6px,#83cda5 127.9px,#95d4a4 162.9px,#9fd8a4 213.1px,#a1d9a4 232.9px)"></i><i style="height:1px;background:linear-gradient(90deg,#5e4fa2 0.1px,#565aa7 14.4px,#3389bd 49.6px,#5ab5aa 84.1px,#69c3a5 100.1px,#82cda5 129.9px,#93d4a4 165.6px,#9dd8a4 218.1px,#9ed8a4 232.9px)"></i><i style="height:1px;background:linear-gradient(90deg,#5e4fa2 0.1px,#565aa7 14.6px,#3389bd 50.1px,#5ab4ab 84.6px,#69c3a5 101.9px,#82cda5 131.9px,#92d3a4 168.6px,#9bd7a4 223.6px,#9cd7a4 232.9px)"></i><i style="height:1px;background:linear-gradient(90deg,#5e4fa2 0.1px,#565aa7 14.6px,#3389bd 50.6px,#59b3ab 85.1px,#69c3a5 103.4px,#81cda5 133.9px,#91d3a4 171.4px,#99d6a4 229.1px,#9ad6a4 232.9px)"></i><i style="height:1px;background:linear-gradient(90deg,#5e4fa2 0.1px,#565aa7 14.9px,#3389bd 51.1px,#58b3ab 85.6px,#69c3a5 105.1px,#80cca5 136.1px,#8fd2a4 174.9px,#97d5a4 232.9px)"></i><i style="height:1px;background:linear-gradient(90deg,#5e4fa2 0.1px,#565aa7 14.9px,#3389bd 51.6px,#58b2ac 86.1px,#69c3a5 106.9px,#7fcca5 138.4px,#8ed2a4 178.1px,#95d4a4 232.9px)"></i><i style="height:1px;background:linear-gradient(90deg,#5e4fa2 0.1px,#565aa7 15.1px,#3389bd 52.4px,#57b1ac 86.9px,#69c3a5 108.6px,#7ecca5 140.6px,#8cd1a4 181.6px,#93d3a4 232.9px)"></i><i style="height:1px;background:linear-gradient(90deg,#5e4fa2 0.1px,#565aa7 15.1px,#3389bd 52.9px,#57b1ac 87.6px,#69c3a5 110.6px,#7ecba5 143.1px,#8bd0a4 185.4px,#90d3a4 232.9px)"></i><i style="height:1px;background:linear-gradient(90deg,#5e4fa2 0.1px,#565aa7 15.4px,#3389bd 53.4px,#56b0ac 88.1px,#68c3a5 112.6px,#7dcba5 145.9px,#89d0a4 189.6px,#8ed2a4 232.9px)"></i><i style="height:1px;background:linear-gradient(90deg,#5e4fa2 0.1px,#565aa7 15.4px,#3389bd 54.1px,#55b0ad 88.9px,#68c3a5 114.6px,#7ccaa5 148.4px,#88cfa5 193.9px,#8cd1a4 232.9px)"></i><i style="height:1px;background:linear-gradient(90deg,#5e4fa2 0.1px,#565aa7 15.6px,#3389bd 54.6px,#55afad 89.4px,#68c3a5 116.6px,#7bcaa5 151.1px,#86cfa5 198.4px,#89d0a4 232.9px)"></i><i style="height:1px;background:linear-gradient(90deg,#5e4fa2 0.1px,#565aa7 15.9px,#3389bd 55.4px,#54aead 90.1px,#67c3a5 118.9px,#7acaa5 154.4px,#85cea5 203.9px,#87cfa5 232.9px)"></i><i style="height:1px;background:linear-gradient(90deg,#5e4fa2 0.1px,#565aa7 15.9px,#3389bd 55.9px,#54adad 90.9px,#67c2a5 121.1px,#79c9a5 157.4px,#83cda5 209.1px,#85cea5 232.9px)"></i><i style="height:1px;background:linear-gradient(90deg,#5e4fa2 0.1px,#565aa7 16.1px,#3389bd 56.6px,#53adae 91.6px,#67c2a5 123.6px,#78c9a5 160.9px,#81cda5 215.4px,#82cda5 232.9px)"></i><i style="height:1px;background:linear-gradient(90deg,#5e4fa2 0.1px,#565aa7 16.4px,#3389bd 57.4px,#53acae 92.6px,#66c2a5 126.1px,#76c8a5 164.4px,#7fcca5 222.1px,#80cca5 232.9px)"></i><i style="height:1px;background:linear-gradient(90deg,#5e4fa2 0.1px,#565aa7 16.4px,#3389bd 58.1px,#52acae 93.4px,#66c2a5 128.4px,#75c8a5 168.4px,#7ecba5 230.1px,#7ecba5 232.9px)"></i><i style="height:1px;background:linear-gradient(90deg,#5e4fa2 0.1px,#565aa7 16.6px,#3389bd 58.9px,#51abaf 94.1px,#65c1a6 129.4px,#74c8a5 172.9px,#7bcaa5 232.9px)"></i><i style="height:1px;background:linear-gradient(90deg,#5e4fa2 0.1px,#565aa7 16.9px,#3389bd 59.6px,#51aaaf 95.1px,#64c0a6 130.9px,#72c7a5 173.6px,#79c9a5 232.9px)"></i><i style="height:1px;background:linear-gradient(90deg,#5e4fa2 0.1px,#565aa7 16.9px,#3389bd 60.4px,#50a9af 95.9px,#63bea7 132.1px,#6cc4a5 158.6px,#76c8a5 214.1px,#77c9a5 232.9px)"></i><i style="height:1px;background:linear-gradient(90deg,#5e4fa2 0.1px,#565aa7 17.1px,#3389bd 61.4px,#50a9af 97.1px,#62bda7 133.9px,#6ac4a5 160.1px,#73c7a5 217.4px,#74c8a5 232.9px)"></i><i style="height:1px;background:linear-gradient(90deg,#5e4fa2 0.1px,#565aa7 17.4px,#3389bd 62.1px,#4fa8b0 97.9px,#61bca7 134.9px,#69c3a5 164.1px,#72c7a5 225.4px,#72c7a5 232.9px)"></i><i style="height:1px;background:linear-gradient(90deg,#5e4fa2 0.1px,#565aa7 17.6px,#3389bd 63.1px,#4ea8b0 99.1px,#60bba8 136.6px,#69c3a5 170.9px,#70c6a5 232.9px)"></i><i style="height:1px;background:linear-gradient(90deg,#5e4fa2 0.1px,#565aa7 17.9px,#3389bd 63.9px,#4ea7b0 100.1px,#5fbaa8 138.1px,#68c3a5 178.6px,#6dc5a5 232.9px)"></i><i style="height:1px;background:linear-gradient(90deg,#5e4fa2 0.1px,#565aa7 17.9px,#3389bd 64.9px,#4da6b0 101.4px,#5eb9a9 140.1px,#67c2a5 187.1px,#6bc4a5 232.9px)"></i><i style="height:1px;background:linear-gradient(90deg,#5e4fa2 0.1px,#565aa7 18.1px,#3389bd 65.9px,#4ca5b1 102.4px,#5db8a9 141.6px,#66c2a5 195.6px,#69c3a5 232.9px)"></i><i style="height:1px;background:linear-gradient(90deg,#5e4fa2 0.1px,#565aa7 18.4px,#3389bd 66.9px,#4ca5b1 103.6px,#5cb6aa 143.6px,#65c0a6 199.6px,#66c2a5 232.9px)"></i><i style="height:1px;background:linear-gradient(90deg,#5e4fa2 0.1px,#565aa7 18.6px,#3389bd 68.1px,#4ba4b1 105.1px,#5bb5aa 145.6px,#63bfa6 203.4px,#65c0a6 232.9px)"></i><i style="height:1px;background:linear-gradient(90deg,#5e4fa2 0.1px,#565aa7 18.9px,#3389bd 69.1px,#4ba3b2 106.4px,#59b4ab 147.6px,#62bda7 207.6px,#63bea6 232.9px)"></i><i style="height:1px;background:linear-gradient(90deg,#5e4fa2 0.1px,#565aa7 19.1px,#3389bd 70.4px,#4aa3b2 107.9px,#58b3ab 149.9px,#60bca8 212.1px,#61bca7 232.9px)"></i><i style="height:1px;background:linear-gradient(90deg,#5e4fa2 0.1px,#565aa7 19.4px,#3389bd 71.6px,#49a2b2 109.6px,#57b2ac 152.6px,#5fbaa8 218.1px,#5fbba8 232.9px)"></i><i style="height:1px;background:linear-gradient(90deg,#5e4fa2 0.1px,#565aa7 19.6px,#3389bd 72.9px,#49a1b3 111.1px,#56b1ac 155.1px,#5db8a9 223.6px,#5eb9a9 232.9px)"></i><i style="height:1px;background:linear-gradient(90deg,#5e4fa2 0.1px,#565aa7 19.9px,#3289bd 74.1px,#48a1b3 112.6px,#55afad 157.4px,#5cb6aa 229.1px,#5cb7aa 232.9px)"></i><i style="height:1px;background:linear-gradient(90deg,#5e4fa2 0.1px,#555aa7 20.4px,#3389bd 75.6px,#47a0b3 114.6px,#54aead 160.6px,#5ab5ab 232.9px)"></i><i style="height:1px;background:linear-gradient(90deg,#5e4fa2 0.1px,#555aa7 20.6px,#3389bd 77.1px,#479fb3 116.6px,#53adae 163.9px,#58b3ab 232.9px)"></i><i style="height:1px;background:linear-gradient(90deg,#5e4fa2 0.1px,#555aa7 20.9px,#3288bd 78.6px,#469eb4 118.6px,#52abae 167.1px,#57b1ac 232.9px)"></i><i style="height:1px;background:linear-gradient(90deg,#5e4fa2 0.1px,#565aa7 21.1px,#3289bd 80.4px,#459eb4 120.9px,#51aaaf 170.9px,#55afad 232.9px)"></i><i style="height:1px;background:linear-gradient(90deg,#5e4fa2 0.1px,#555aa7 21.6px,#3288bd 81.9px,#459db4 122.9px,#4fa9af 174.4px,#53adae 232.9px)"></i><i style="height:1px;background:linear-gradient(90deg,#5e4fa2 0.1px,#555aa7 21.9px,#3288bd 83.9px,#449cb5 125.6px,#4ea7b0 179.1px,#51abaf 232.9px)"></i><i style="height:1px;background:linear-gradient(90deg,#5e4fa2 0.1px,#555aa7 22.4px,#3288bd 85.1px,#439bb5 127.4px,#4da6b1 182.6px,#50a9af 232.9px)"></i><i style="height:1px;background:linear-gradient(90deg,#5e4fa2 0.1px,#555aa7 22.6px,#3387bc 85.4px,#368cbb 95.4px,#459db4 139.9px,#4da6b1 203.6px,#4ea7b0 232.9px)"></i><i style="height:1px;background:linear-gradient(90deg,#5e4fa2 0.1px,#555aa7 23.1px,#3486bc 85.9px,#338abc 92.6px,#439bb5 137.1px,#4ba4b2 199.9px,#4ca5b1 232.9px)"></i><i style="height:1px;background:linear-gradient(90deg,#5e4fa2 0.1px,#555aa7 23.4px,#3485bb 86.1px,#3389bd 94.6px,#429ab6 140.1px,#49a2b2 206.1px,#4aa3b2 232.9px)"></i><i style="height:1px;background:linear-gradient(90deg,#5e4fa2 0.1px,#555aa7 23.9px,#3584bb 86.6px,#3389bd 97.4px,#4199b6 143.9px,#48a0b3 214.1px,#49a1b3 232.9px)"></i><i style="height:1px;background:linear-gradient(90deg,#5e4fa2 0.1px,#555aa7 24.4px,#3683ba 86.9px,#3389bd 100.1px,#4098b6 148.1px,#479fb4 223.9px,#479fb3 232.9px)"></i><i style="height:1px;background:linear-gradient(90deg,#5e4fa2 0.1px,#555aa7 24.9px,#3782ba 87.4px,#3389bd 103.4px,#3f97b7 152.9px,#459db4 232.9px)"></i><i style="height:1px;background:linear-gradient(90deg,#5e4fa2 0.1px,#555aa7 25.4px,#3881ba 87.9px,#3389bd 107.1px,#3e96b7 158.6px,#439bb5 232.9px)"></i><i style="height:1px;background:linear-gradient(90deg,#5e4fa2 0.1px,#555aa7 25.9px,#3880b9 88.4px,#3389bd 111.1px,#3e95b8 164.9px,#4199b6 232.9px)"></i><i style="height:1px;background:linear-gradient(90deg,#5e4fa2 0.1px,#555ba7 26.6px,#397fb9 89.1px,#3389bd 115.9px,#3d94b8 172.6px,#4097b7 232.9px)"></i><i style="height:1px;background:linear-gradient(90deg,#5e4fa2 0.1px,#555ba7 27.1px,#3a7eb8 89.6px,#3389bd 121.1px,#3c93b8 181.6px,#3e95b7 232.9px)"></i><i style="height:1px;background:linear-gradient(90deg,#5e4fa2 0.1px,#555ba8 27.9px,#3b7db8 90.4px,#3389bd 127.1px,#3b92b9 192.6px,#3c93b8 232.9px)"></i><i style="height:1px;background:linear-gradient(90deg,#5e4fa2 0.1px,#555ba7 28.4px,#3c7cb7 90.9px,#3389bd 133.9px,#3a91b9 205.9px,#3a91b9 232.9px)"></i><i style="height:1px;background:linear-gradient(90deg,#5e4fa2 0.1px,#555ba8 29.1px,#3c7bb7 91.6px,#3288bd 141.9px,#398fba 223.1px,#3990ba 232.9px)"></i><i style="height:1px;background:linear-gradient(90deg,#5e4fa2 0.1px,#555ba8 29.9px,#3d7ab6 92.4px,#3287bd 145.9px,#378ebb 232.9px)"></i><i style="height:1px;background:linear-gradient(90deg,#5e4fa2 0.1px,#555ba8 30.9px,#3e79b6 93.4px,#3486bc 148.1px,#338abc 183.1px,#358cbc 232.9px)"></i><i style="height:1px;background:linear-gradient(90deg,#5e4fa2 0.1px,#555ba8 31.9px,#3f78b5 94.4px,#3585bb 150.4px,#3389bd 207.9px,#338abc 232.9px)"></i><i style="height:1px;background:linear-gradient(90deg,#5e4fa2 0.1px,#555ba8 32.9px,#3f77b5 95.4px,#3683bb 152.9px,#3288bd 232.9px)"></i><i style="height:1px;background:linear-gradient(90deg,#5e4fa2 0.1px,#555ba8 33.9px,#4076b4 96.6px,#3782ba 155.6px,#3486bc 232.9px)"></i><i style="height:1px;background:linear-gradient(90deg,#5e4fa2 0.1px,#555ba8 35.1px,#4175b4 97.9px,#3880b9 158.6px,#3584bb 232.9px)"></i><i style="height:1px;background:linear-gradient(90deg,#5e4fa2 0.1px,#545ba8 36.4px,#4274b3 99.4px,#397fb9 162.1px,#3782ba 232.9px)"></i><i style="height:1px;background:linear-gradient(90deg,#5e4fa2 0.1px,#545ca8 37.9px,#4273b3 101.1px,#3a7db8 166.1px,#3880b9 232.9px)"></i><i style="height:1px;background:linear-gradient(90deg,#5e4fa2 0.1px,#545ca8 39.4px,#4372b3 102.9px,#3b7cb7 170.4px,#3a7eb8 232.9px)"></i><i style="height:1px;background:linear-gradient(90deg,#5e4fa2 0.1px,#545ca8 41.4px,#4471b2 105.1px,#3d7ab7 175.6px,#3b7cb7 232.9px)"></i><i style="height:1px;background:linear-gradient(90deg,#5e4fa2 0.1px,#545ca8 43.6px,#4470b2 107.9px,#3e79b6 182.1px,#3d7ab6 232.9px)"></i><i style="height:1px;background:linear-gradient(90deg,#5e4fa2 0.1px,#535da8 46.1px,#456fb1 110.9px,#3f77b5 189.6px,#3e78b6 232.9px)"></i><i style="height:1px;background:linear-gradient(90deg,#5e4fa2 0.1px,#535da9 49.4px,#466eb1 114.6px,#4076b4 199.1px,#4076b5 232.9px)"></i><i style="height:1px;background:linear-gradient(90deg,#5e4fa2 0.1px,#535ea9 53.6px,#466eb1 119.6px,#4174b4 212.4px,#4174b4 232.9px)"></i><i style="height:1px;background:linear-gradient(90deg,#5e4fa2 0.1px,#525faa 60.4px,#476db0 127.6px,#4373b3 232.9px)"></i><i style="height:1px;background:linear-gradient(90deg,#5e4fa2 0.1px,#496aaf 114.1px,#4470b2 208.4px,#4471b2 232.9px)"></i><i style="height:1px;background:linear-gradient(90deg,#5e4fa2 0.1px,#4a68ae 115.6px,#466eb1 215.9px,#466fb1 232.9px)"></i><i style="height:1px;background:linear-gradient(90deg,#5e4fa2 0.1px,#4b67ad 117.1px,#476db0 224.6px,#476db0 232.9px)"></i><i style="height:1px;background:linear-gradient(90deg,#5e4fa2 0.1px,#4c66ad 119.1px,#486baf 232.9px)"></i><i style="height:1px;background:linear-gradient(90deg,#5e4fa2 0.1px,#4d64ac 121.1px,#4a69ae 232.9px)"></i></div><div class="hm" style="left:379px;top:319px;width:233px;height:232px"><i style="height:1px;background:linear-gradient(90deg,#5e4fa2 0.1px,#5659a7 9.4px,#3c7bb7 25.4px,#3389bd 30.9px,#69c3a5 54.1px,#a9dca4 77.1px,#d1ec9c 98.4px,#e7f599 113.9px,#f4fbae 145.6px,#fcfeba 187.6px,#ffffbf 232.9px)"></i><i style="height:1px;background:linear-gradient(90deg,#5e4fa2 0.1px,#5659a7 9.4px,#3c7bb7 25.4px,#3288bd 30.9px,#69c3a5 54.1px,#a8dca4 77.1px,#cfec9d 97.9px,#e7f599 114.6px,#f4faad 146.6px,#fcfeba 189.1px,#ffffbf 232.9px)"></i><i style="height:1px;background:linear-gradient(90deg,#5e4fa2 0.1px,#5659a7 9.4px,#3c7bb7 25.4px,#3389bd 31.1px,#69c3a5 54.4px,#a8dca4 77.4px,#cfeb9d 97.9px,#e7f599 115.6px,#f4faad 147.9px,#fbfeb9 191.1px,#feffbe 232.9px)"></i><i style="height:1px;background:linear-gradient(90deg,#5e4fa2 0.1px,#565aa7 9.6px,#3b7cb7 25.9px,#3289bd 31.1px,#69c3a5 54.6px,#a8dca4 77.6px,#ceeb9d 98.1px,#e7f599 116.4px,#f3faad 148.9px,#fbfdb9 192.6px,#fefebd 232.9px)"></i><i style="height:1px;background:linear-gradient(90deg,#5e4fa2 0.1px,#565aa7 9.6px,#3b7cb7 26.1px,#3389bd 31.4px,#69c3a5 54.9px,#a7dca4 77.9px,#cdeb9d 98.1px,#e7f599 116.9px,#f3faac 149.6px,#fbfdb8 193.9px,#fdfebc 232.9px)"></i><i style="height:1px;background:linear-gradient(90deg,#5e4fa2 0.1px,#565aa7 9.6px,#3b7cb7 26.1px,#3389bd 31.4px,#69c3a5 54.9px,#a7dba4 77.9px,#ccea9d 97.6px,#e7f599 117.6px,#f3faac 150.6px,#fafdb8 195.6px,#fdfebb 232.9px)"></i><i style="height:1px;background:linear-gradient(90deg,#5e4fa2 0.1px,#565aa7 9.6px,#3b7cb7 26.1px,#3288bd 31.4px,#69c3a5 55.1px,#a6dba4 78.1px,#cbea9d 97.9px,#e6f599 118.4px,#f3faac 151.6px,#fafdb7 197.1px,#fcfebb 232.9px)"></i><i style="height:1px;background:linear-gradient(90deg,#5e4fa2 0.1px,#565aa7 9.6px,#3c7cb7 26.1px,#3389bd 31.6px,#69c3a5 55.4px,#a6dba4 78.4px,#caea9e 97.9px,#e6f598 118.9px,#f2faab 152.1px,#fafdb7 198.1px,#fcfeba 232.9px)"></i><i style="height:1px;background:linear-gradient(90deg,#5e4fa2 0.1px,#565aa7 9.6px,#3c7bb7 26.1px,#3389bd 31.6px,#69c3a5 55.6px,#a6dba4 78.6px,#c9e99e 97.9px,#e6f598 119.6px,#f2faab 153.1px,#f9fdb6 199.9px,#fbfdb9 232.9px)"></i><i style="height:1px;background:linear-gradient(90deg,#5e4fa2 0.1px,#565aa7 9.6px,#3b7cb7 26.4px,#3389bd 31.9px,#69c3a5 55.9px,#a6dba4 78.9px,#c9e99e 98.1px,#e6f598 120.4px,#f2faab 154.4px,#f9fdb6 201.9px,#fbfdb8 232.9px)"></i><i style="height:1px;background:linear-gradient(90deg,#5e4fa2 0.1px,#5659a7 9.6px,#3c7cb7 26.4px,#3389bd 31.9px,#69c3a5 56.1px,#a5dba4 79.1px,#c8e99e 98.1px,#e6f598 121.1px,#f2faaa 155.4px,#f9fcb5 203.6px,#fafdb7 232.9px)"></i><i style="height:1px;background:linear-gradient(90deg,#5e4fa2 0.1px,#5659a7 9.6px,#3c7bb7 26.4px,#3288bd 31.9px,#69c3a5 56.1px,#a4daa4 79.1px,#c6e89f 97.4px,#e5f598 121.1px,#f2faab 159.6px,#f9fcb5 210.6px,#fafdb7 232.9px)"></i><i style="height:1px;background:linear-gradient(90deg,#5e4fa2 0.1px,#565aa7 9.9px,#3b7cb7 26.9px,#3389bd 32.1px,#69c3a5 56.4px,#a4daa4 79.4px,#c5e89f 97.4px,#e4f498 121.1px,#f0f9a8 153.9px,#f7fcb3 201.4px,#f9fdb6 232.9px)"></i><i style="height:1px;background:linear-gradient(90deg,#5e4fa2 0.1px,#565aa7 9.9px,#3b7cb7 26.9px,#3289bd 32.1px,#69c3a5 56.6px,#a4daa4 79.6px,#c4e79f 97.4px,#e3f499 121.4px,#e9f69c 130.4px,#f3faac 167.6px,#f8fcb4 225.1px,#f9fcb5 232.9px)"></i><i style="height:1px;background:linear-gradient(90deg,#5e4fa2 0.1px,#565aa7 9.9px,#3b7cb7 26.9px,#3389bd 32.4px,#69c3a5 56.9px,#a4daa4 79.9px,#c3e79f 97.4px,#e2f499 121.4px,#e7f69a 128.4px,#f2faaa 165.1px,#f8fcb3 220.6px,#f8fcb4 232.9px)"></i><i style="height:1px;background:linear-gradient(90deg,#5e4fa2 0.1px,#565aa7 9.9px,#3b7cb7 27.1px,#3389bd 32.4px,#69c3a5 57.1px,#a3daa4 80.1px,#c2e79f 97.4px,#e1f399 121.4px,#e7f59a 128.9px,#f1faaa 165.9px,#f7fcb3 222.1px,#f8fcb3 232.9px)"></i><i style="height:1px;background:linear-gradient(90deg,#5e4fa2 0.1px,#565aa7 9.9px,#3b7cb7 27.1px,#3389bd 32.6px,#69c3a5 57.4px,#a3daa4 80.4px,#c1e69f 97.4px,#e0f399 121.4px,#e7f59a 129.6px,#f1f9a9 166.9px,#f7fcb2 224.1px,#f7fcb3 232.9px)"></i><i style="height:1px;background:linear-gradient(90deg,#5e4fa2 0.1px,#565aa7 9.9px,#3b7cb7 27.1px,#3389bd 32.6px,#69c3a5 57.6px,#a3daa4 80.6px,#c0e6a0 97.1px,#dff299 121.1px,#e7f59a 130.6px,#f1f9a9 168.4px,#f6fcb1 227.1px,#f7fcb2 232.9px)"></i><i style="height:1px;background:linear-gradient(90deg,#5e4fa2 0.1px,#5659a7 9.9px,#3b7cb7 27.1px,#3288bd 32.6px,#69c3a5 57.6px,#a2d9a4 80.6px,#bee5a0 96.1px,#ddf19a 120.1px,#e7f599 131.4px,#f1f9a9 169.4px,#f6fbb1 229.1px,#f6fbb1 232.9px)"></i><i style="height:1px;background:linear-gradient(90deg,#5e4fa2 0.1px,#5659a7 9.9px,#3c7cb7 27.1px,#3389bd 32.9px,#69c3a5 57.9px,#a1d9a4 80.9px,#bde4a0 95.9px,#dcf19a 119.9px,#e7f599 132.6px,#f0f9a8 171.1px,#f5fbb0 232.9px)"></i><i style="height:1px;background:linear-gradient(90deg,#5e4fa2 0.1px,#565aa7 10.1px,#3a7db8 27.9px,#3289bd 32.9px,#69c3a5 58.1px,#a1d9a4 81.1px,#bce4a1 95.9px,#dbf19a 120.1px,#e7f599 133.9px,#f0f9a8 172.9px,#f5fbaf 232.9px)"></i><i style="height:1px;background:linear-gradient(90deg,#5e4fa2 0.1px,#565aa7 10.1px,#3b7db8 27.9px,#3389bd 33.1px,#69c3a5 58.4px,#a1d9a4 81.4px,#bbe3a1 95.9px,#daf09a 120.1px,#e7f599 135.1px,#f0f9a8 174.9px,#f4fbaf 232.9px)"></i><i style="height:1px;background:linear-gradient(90deg,#5e4fa2 0.1px,#565aa7 10.1px,#3b7db8 27.9px,#3389bd 33.1px,#69c3a5 58.6px,#a0d9a4 81.6px,#bae3a1 95.9px,#d9f09b 120.1px,#e7f599 136.4px,#f0f9a7 176.6px,#f4fbae 232.9px)"></i><i style="height:1px;background:linear-gradient(90deg,#5e4fa2 0.1px,#565aa7 10.1px,#3b7cb8 27.9px,#3389bd 33.4px,#69c3a5 58.9px,#a0d9a4 81.9px,#b9e3a1 95.9px,#d8ef9b 120.1px,#e7f599 137.9px,#f0f9a7 178.9px,#f3faad 232.9px)"></i><i style="height:1px;background:linear-gradient(90deg,#5e4fa2 0.1px,#565aa7 10.1px,#3b7cb7 27.9px,#3389bd 33.4px,#69c3a5 59.1px,#a0d9a4 82.1px,#b9e3a1 96.1px,#d8ef9b 120.6px,#e7f599 139.4px,#eff9a7 181.1px,#f3faac 232.9px)"></i><i style="height:1px;background:linear-gradient(90deg,#5e4fa2 0.1px,#565aa7 10.1px,#3b7db8 28.1px,#3389bd 33.6px,#69c3a5 59.4px,#9fd8a4 82.4px,#b8e2a1 96.1px,#d7ef9b 120.6px,#e7f599 140.9px,#eff9a6 183.4px,#f2faab 232.9px)"></i><i style="height:1px;background:linear-gradient(90deg,#5e4fa2 0.1px,#565aa7 10.1px,#3b7cb7 28.1px,#3389bd 33.6px,#69c3a5 59.6px,#9fd8a4 82.6px,#b7e2a2 96.4px,#d6ee9b 120.9px,#e7f599 142.1px,#eff9a6 185.4px,#f2faab 232.9px)"></i><i style="height:1px;background:linear-gradient(90deg,#5e4fa2 0.1px,#5659a7 10.1px,#3b7cb7 28.1px,#3288bd 33.6px,#69c3a5 59.9px,#9fd8a4 83.1px,#b8e2a1 97.1px,#d6ee9b 121.9px,#e7f599 143.9px,#eff8a5 188.1px,#f1faaa 232.9px)"></i><i style="height:1px;background:linear-gradient(90deg,#5e4fa2 0.1px,#565aa7 10.4px,#3a7db8 28.6px,#3389bd 33.9px,#69c3a5 60.1px,#9fd8a4 83.4px,#b7e2a2 97.4px,#d5ee9b 122.1px,#e7f599 145.1px,#eef8a5 190.1px,#f1f9a9 232.9px)"></i><i style="height:1px;background:linear-gradient(90deg,#5e4fa2 0.1px,#565aa7 10.4px,#3a7db8 28.9px,#3288bd 33.9px,#69c3a5 60.4px,#9ed8a4 83.6px,#b7e2a2 97.6px,#d4ee9c 122.4px,#e7f599 146.6px,#eef8a5 192.4px,#f0f9a8 232.9px)"></i><i style="height:1px;background:linear-gradient(90deg,#5e4fa2 0.1px,#565aa7 10.4px,#3a7db8 28.9px,#3389bd 34.1px,#69c3a5 60.6px,#9ed8a4 83.9px,#b6e1a2 97.9px,#d4ee9c 122.9px,#e6f599 148.1px,#eef8a4 194.9px,#f0f9a7 232.9px)"></i><i style="height:1px;background:linear-gradient(90deg,#5e4fa2 0.1px,#565aa7 10.4px,#3b7db8 28.9px,#3288bd 34.1px,#69c3a5 60.9px,#9ed8a4 84.1px,#b5e1a2 98.1px,#d3ed9c 123.1px,#e6f598 149.4px,#edf8a4 196.9px,#eff9a7 232.9px)"></i><i style="height:1px;background:linear-gradient(90deg,#5e4fa2 0.1px,#565aa7 10.4px,#3b7db8 28.9px,#3389bd 34.4px,#69c3a5 61.1px,#9dd8a4 84.4px,#b5e1a2 98.4px,#d2ed9c 123.4px,#e6f598 150.9px,#edf8a3 199.4px,#eff9a6 232.9px)"></i><i style="height:1px;background:linear-gradient(90deg,#5e4fa2 0.1px,#565aa7 10.4px,#3a7db8 29.1px,#3289bd 34.4px,#69c3a5 61.4px,#9dd7a4 84.6px,#b5e1a2 98.9px,#d2ed9c 124.1px,#e6f598 152.6px,#edf8a3 202.4px,#eef8a5 232.9px)"></i><i style="height:1px;background:linear-gradient(90deg,#5e4fa2 0.1px,#5659a7 10.4px,#3b7db8 29.1px,#3389bd 34.6px,#69c3a5 61.6px,#9cd7a4 84.9px,#b5e1a2 99.4px,#d1ed9c 124.6px,#e6f598 154.1px,#edf8a2 205.4px,#eef8a4 232.9px)"></i><i style="height:1px;background:linear-gradient(90deg,#5e4fa2 0.1px,#5659a7 10.4px,#3b7db8 29.1px,#3289bd 34.6px,#69c3a5 61.9px,#9cd7a4 85.1px,#b4e1a2 99.6px,#d1ec9c 125.1px,#e5f598 154.9px,#edf8a2 214.4px,#edf8a3 232.9px)"></i><i style="height:1px;background:linear-gradient(90deg,#5e4fa2 0.1px,#565aa7 10.6px,#3a7db8 29.6px,#3389bd 34.9px,#68c3a5 62.1px,#9bd7a4 85.4px,#b4e1a2 100.1px,#d0ec9c 125.6px,#e4f498 155.6px,#ecf7a1 208.1px,#edf8a3 232.9px)"></i><i style="height:1px;background:linear-gradient(90deg,#5e4fa2 0.1px,#565aa7 10.6px,#3a7eb8 29.9px,#3289bd 34.9px,#68c3a5 62.4px,#9bd7a4 85.6px,#b4e1a2 100.6px,#d0ec9d 126.4px,#e4f498 156.6px,#ebf79f 199.6px,#ecf8a2 232.9px)"></i><i style="height:1px;background:linear-gradient(90deg,#5e4fa2 0.1px,#565aa7 10.6px,#3a7eb8 29.9px,#3389bd 35.1px,#68c3a5 62.6px,#9bd7a4 85.9px,#b3e0a2 101.1px,#cfec9d 126.9px,#e3f499 157.4px,#e8f69c 181.4px,#ecf7a1 232.9px)"></i><i style="height:1px;background:linear-gradient(90deg,#5e4fa2 0.1px,#565aa7 10.6px,#3a7db8 29.9px,#3288bd 35.1px,#68c3a5 62.9px,#9ad6a4 86.1px,#b3e0a2 101.4px,#cfeb9d 127.4px,#e2f399 157.9px,#e7f69a 177.6px,#ebf7a0 232.9px)"></i><i style="height:1px;background:linear-gradient(90deg,#5e4fa2 0.1px,#565aa7 10.6px,#3a7db8 29.9px,#3389bd 35.4px,#68c3a5 63.1px,#9ad6a4 86.6px,#b3e0a2 102.1px,#ceeb9d 128.1px,#e2f399 159.1px,#e7f69a 180.4px,#ebf79f 232.9px)"></i><i style="height:1px;background:linear-gradient(90deg,#5e4fa2 0.1px,#565aa7 10.6px,#3a7db8 30.1px,#3389bd 35.6px,#68c3a5 63.4px,#9ad6a4 86.9px,#b3e0a2 102.6px,#ceeb9d 128.9px,#e1f399 160.1px,#e7f59a 183.4px,#eaf79f 232.9px)"></i><i style="height:1px;background:linear-gradient(90deg,#5e4fa2 0.1px,#5659a7 10.6px,#3a7db8 30.1px,#3389bd 35.6px,#68c3a5 63.6px,#99d6a4 87.1px,#b2e0a3 103.1px,#cdeb9d 129.4px,#e0f399 160.9px,#e7f59a 187.1px,#eaf69e 232.9px)"></i><i style="height:1px;background:linear-gradient(90deg,#5e4fa2 0.1px,#565aa7 10.9px,#3a7eb8 30.6px,#3389bd 35.9px,#68c3a5 63.9px,#99d6a4 87.4px,#b2e0a3 103.6px,#cdeb9d 130.1px,#dff299 161.9px,#e7f599 191.1px,#e9f69d 232.9px)"></i><i style="height:1px;background:linear-gradient(90deg,#5e4fa2 0.1px,#565aa7 10.9px,#3a7eb8 30.9px,#3389bd 35.9px,#68c3a5 64.4px,#99d6a4 87.9px,#b2e0a3 104.4px,#cceb9d 131.1px,#dff299 163.1px,#e7f599 195.6px,#e9f69c 232.9px)"></i><i style="height:1px;background:linear-gradient(90deg,#5e4fa2 0.1px,#565aa7 10.9px,#3a7eb8 30.9px,#3389bd 36.1px,#68c3a5 64.6px,#98d6a4 88.1px,#b2e0a3 104.9px,#ccea9d 131.6px,#def29a 163.9px,#e7f599 200.1px,#e8f69b 232.9px)"></i><i style="height:1px;background:linear-gradient(90deg,#5e4fa2 0.1px,#565aa7 10.9px,#3a7eb8 30.9px,#3389bd 36.1px,#68c3a5 64.9px,#98d5a4 88.4px,#b2e0a3 105.6px,#cbea9d 132.6px,#ddf19a 165.4px,#e6f599 205.4px,#e8f69b 232.9px)"></i><i style="height:1px;background:linear-gradient(90deg,#5e4fa2 0.1px,#565aa7 10.9px,#3a7eb8 31.1px,#3389bd 36.4px,#68c3a5 65.1px,#97d5a4 88.6px,#b1e0a3 106.1px,#cbea9e 133.1px,#dcf19a 166.1px,#e6f598 210.1px,#e7f59a 232.9px)"></i><i style="height:1px;background:linear-gradient(90deg,#5e4fa2 0.1px,#5659a7 10.9px,#3a7eb8 31.1px,#3289bd 36.4px,#68c3a5 65.4px,#97d5a4 88.9px,#b1dfa3 106.6px,#caea9e 133.9px,#dcf19a 167.1px,#e6f598 215.4px,#e7f599 232.9px)"></i><i style="height:1px;background:linear-gradient(90deg,#5e4fa2 0.1px,#565aa7 11.1px,#397fb9 31.6px,#3389bd 36.6px,#68c3a5 65.6px,#97d5a4 89.4px,#b1dfa3 107.4px,#caea9e 134.9px,#dbf19a 168.4px,#e5f598 217.6px,#e6f598 232.9px)"></i><i style="height:1px;background:linear-gradient(90deg,#5e4fa2 0.1px,#565aa7 11.1px,#397fb9 31.9px,#3389bd 36.9px,#68c3a5 66.1px,#96d5a4 89.9px,#b1dfa3 108.1px,#c9e99e 135.6px,#daf09a 169.6px,#e4f498 219.9px,#e5f598 232.9px)"></i><i style="height:1px;background:linear-gradient(90deg,#5e4fa2 0.1px,#565aa7 11.1px,#397fb9 31.9px,#3389bd 36.9px,#68c3a5 66.4px,#96d5a4 90.1px,#b1dfa3 108.9px,#c9e99e 136.6px,#d9f09b 170.9px,#e3f499 222.1px,#e4f498 232.9px)"></i><i style="height:1px;background:linear-gradient(90deg,#5e4fa2 0.1px,#565aa7 11.1px,#397eb8 31.9px,#3389bd 37.1px,#68c3a5 66.6px,#95d5a4 90.4px,#b0dfa3 109.4px,#c8e99e 137.4px,#d9f09b 172.1px,#e2f399 224.6px,#e3f499 232.9px)"></i><i style="height:1px;background:linear-gradient(90deg,#5e4fa2 0.1px,#565aa7 11.1px,#397fb9 32.1px,#3389bd 37.1px,#67c3a5 66.9px,#95d4a4 90.6px,#b0dfa3 110.1px,#c8e99e 138.4px,#d8ef9b 173.6px,#e1f399 227.4px,#e1f399 232.9px)"></i><i style="height:1px;background:linear-gradient(90deg,#5e4fa2 0.1px,#565aa7 11.1px,#397eb8 32.1px,#3389bd 37.4px,#68c3a5 67.4px,#95d4a4 91.1px,#b0dfa3 110.9px,#c8e99e 139.4px,#d7ef9b 174.9px,#e0f399 229.9px,#e0f399 232.9px)"></i><i style="height:1px;background:linear-gradient(90deg,#5e4fa2 0.1px,#565aa7 11.4px,#3980b9 32.9px,#3389bd 37.6px,#68c3a5 67.6px,#94d4a4 91.4px,#b0dfa3 111.4px,#c7e89e 139.9px,#d6ef9b 175.9px,#dff299 231.9px,#dff299 232.9px)"></i><i style="height:1px;background:linear-gradient(90deg,#5e4fa2 0.1px,#565aa7 11.4px,#397fb9 32.9px,#3389bd 37.6px,#67c3a5 67.9px,#94d4a4 91.9px,#afdfa3 112.1px,#c6e89e 140.9px,#d6ee9b 177.1px,#def29a 232.9px)"></i><i style="height:1px;background:linear-gradient(90deg,#5e4fa2 0.1px,#565aa7 11.4px,#397fb9 32.9px,#3389bd 37.9px,#67c2a5 68.1px,#93d4a4 92.1px,#afdfa3 112.9px,#c6e89f 141.9px,#d5ee9b 178.6px,#ddf19a 232.9px)"></i><i style="height:1px;background:linear-gradient(90deg,#5e4fa2 0.1px,#565aa7 11.4px,#397fb9 33.1px,#3389bd 38.1px,#67c3a5 68.6px,#93d4a4 92.6px,#afdfa3 113.6px,#c5e89f 142.9px,#d4ee9c 180.1px,#dbf19a 232.9px)"></i><i style="height:1px;background:linear-gradient(90deg,#5e4fa2 0.1px,#565aa7 11.4px,#397fb9 33.1px,#3389bd 38.1px,#67c2a5 68.9px,#93d3a4 92.9px,#aedea3 114.1px,#c5e79f 143.6px,#d3ed9c 181.4px,#daf09a 232.9px)"></i><i style="height:1px;background:linear-gradient(90deg,#5e4fa2 0.1px,#565aa7 11.4px,#397fb9 33.4px,#3389bd 38.4px,#67c2a5 69.1px,#92d3a4 93.1px,#aedea3 114.9px,#c4e79f 144.6px,#d2ed9c 182.9px,#d9f09b 232.9px)"></i><i style="height:1px;background:linear-gradient(90deg,#5e4fa2 0.1px,#565aa7 11.6px,#3880b9 33.9px,#3389bd 38.6px,#67c2a5 69.6px,#92d3a4 93.6px,#aedea3 115.6px,#c4e79f 145.6px,#d2ed9c 184.4px,#d8ef9b 232.9px)"></i><i style="height:1px;background:linear-gradient(90deg,#5e4fa2 0.1px,#565aa7 11.6px,#3880b9 34.1px,#3389bd 38.6px,#67c2a5 69.9px,#92d3a4 94.1px,#aedea3 116.6px,#c3e79f 146.9px,#d1ec9c 186.4px,#d7ef9b 232.9px)"></i><i style="height:1px;background:linear-gradient(90deg,#5e4fa2 0.1px,#565aa7 11.6px,#3880b9 34.1px,#3389bd 38.9px,#67c2a5 70.1px,#91d3a4 94.4px,#addea4 117.1px,#c2e69f 147.4px,#d0ec9d 187.1px,#d5ee9b 232.9px)"></i><i style="height:1px;background:linear-gradient(90deg,#5e4fa2 0.1px,#565aa7 11.6px,#3880b9 34.1px,#3389bd 39.1px,#67c2a5 70.6px,#91d3a4 94.9px,#addea4 117.9px,#c2e69f 148.6px,#cfec9d 189.1px,#d4ee9c 232.9px)"></i><i style="height:1px;background:linear-gradient(90deg,#5e4fa2 0.1px,#565aa7 11.6px,#3880b9 34.4px,#3389bd 39.1px,#67c2a5 70.9px,#90d2a4 95.1px,#addea4 118.6px,#c1e69f 149.6px,#ceeb9d 190.6px,#d3ed9c 232.9px)"></i><i style="height:1px;background:linear-gradient(90deg,#5e4fa2 0.1px,#565aa7 11.6px,#3980b9 34.4px,#3389bd 39.4px,#67c2a5 71.4px,#90d2a4 95.6px,#addea4 119.6px,#c1e6a0 150.9px,#cdeb9d 192.6px,#d2ed9c 232.9px)"></i><i style="height:1px;background:linear-gradient(90deg,#5e4fa2 0.1px,#565aa7 11.9px,#3881ba 35.1px,#3389bd 39.6px,#67c2a5 71.6px,#8fd2a4 96.1px,#acdda4 120.4px,#c0e6a0 151.9px,#cceb9d 194.4px,#d1ec9c 232.9px)"></i><i style="height:1px;background:linear-gradient(90deg,#5e4fa2 0.1px,#565aa7 11.9px,#3881ba 35.4px,#3389bd 39.6px,#67c2a5 72.1px,#8fd2a4 96.6px,#acdda4 121.1px,#bfe5a0 152.9px,#cbea9d 195.9px,#cfec9d 232.9px)"></i><i style="height:1px;background:linear-gradient(90deg,#5e4fa2 0.1px,#565aa7 11.9px,#3881b9 35.4px,#3389bd 39.9px,#66c2a5 72.4px,#8ed2a4 96.9px,#abdda4 121.9px,#bfe5a0 153.9px,#cbea9e 197.6px,#ceeb9d 232.9px)"></i><i style="height:1px;background:linear-gradient(90deg,#5e4fa2 0.1px,#565aa7 11.9px,#3881ba 35.6px,#3389bd 40.1px,#67c2a5 72.9px,#8ed2a4 97.4px,#abdda4 122.9px,#bee5a0 155.4px,#caea9e 200.1px,#cdeb9d 232.9px)"></i><i style="height:1px;background:linear-gradient(90deg,#5e4fa2 0.1px,#565aa7 11.9px,#3880b9 35.6px,#3389bd 40.1px,#66c2a5 73.1px,#8ed2a4 97.9px,#abdda4 123.6px,#bde4a0 156.1px,#c9e99e 201.4px,#ccea9d 232.9px)"></i><i style="height:1px;background:linear-gradient(90deg,#5e4fa2 0.1px,#565aa7 12.1px,#3781ba 36.4px,#3389bd 40.4px,#66c2a5 73.6px,#8dd1a4 98.4px,#aadda4 124.1px,#bce4a1 156.1px,#c8e99e 201.6px,#caea9e 232.9px)"></i><i style="height:1px;background:linear-gradient(90deg,#5e4fa2 0.1px,#565aa7 12.1px,#3782ba 36.6px,#3389bd 40.6px,#66c2a5 73.9px,#8dd1a4 98.6px,#a9dca4 124.6px,#bbe4a1 156.1px,#c6e89e 201.9px,#c9e99e 232.9px)"></i><i style="height:1px;background:linear-gradient(90deg,#5e4fa2 0.1px,#565aa7 12.1px,#3781ba 36.6px,#3389bd 40.9px,#66c2a5 74.4px,#8cd1a4 99.1px,#a8dca4 125.1px,#bae3a1 155.9px,#c5e89f 201.6px,#c8e99e 232.9px)"></i><i style="height:1px;background:linear-gradient(90deg,#5e4fa2 0.1px,#565aa7 12.1px,#3782ba 36.9px,#3389bd 41.1px,#66c2a5 74.6px,#8cd1a4 99.9px,#a8dca4 126.1px,#b9e3a1 156.9px,#c4e79f 203.4px,#c7e89e 232.9px)"></i><i style="height:1px;background:linear-gradient(90deg,#5e4fa2 0.1px,#565aa7 12.1px,#3781ba 36.9px,#3389bd 41.1px,#66c2a5 75.1px,#8cd1a4 100.4px,#a7dca4 126.6px,#b8e2a1 156.6px,#c3e79f 203.1px,#c6e89f 232.9px)"></i><i style="height:1px;background:linear-gradient(90deg,#5e4fa2 0.1px,#565aa7 12.4px,#3683ba 37.9px,#3389bd 41.4px,#66c1a5 75.4px,#8cd1a4 101.1px,#a7dba4 127.6px,#b7e2a2 157.6px,#c2e69f 204.9px,#c4e79f 232.9px)"></i><i style="height:1px;background:linear-gradient(90deg,#5e4fa2 0.1px,#565aa7 12.4px,#3682ba 37.9px,#3389bd 41.6px,#65c1a6 75.4px,#8cd1a4 101.9px,#a6dba4 128.6px,#b6e2a2 158.4px,#c1e6a0 206.1px,#c3e79f 232.9px)"></i><i style="height:1px;background:linear-gradient(90deg,#5e4fa2 0.1px,#565aa7 12.4px,#3682ba 38.1px,#3389bd 41.9px,#65c0a6 75.6px,#8cd1a4 102.6px,#a6dba4 129.6px,#b5e1a2 159.1px,#c0e6a0 207.6px,#c2e69f 232.9px)"></i><i style="height:1px;background:linear-gradient(90deg,#5e4fa2 0.1px,#565aa7 12.4px,#3682ba 38.1px,#3389bd 42.1px,#64c0a6 75.9px,#8bd1a4 103.4px,#a5dba4 130.4px,#b4e1a2 159.4px,#bfe5a0 208.1px,#c1e6a0 232.9px)"></i><i style="height:1px;background:linear-gradient(90deg,#5e4fa2 0.1px,#565aa7 12.4px,#3682ba 38.4px,#3389bd 42.1px,#64bfa6 75.9px,#89d0a4 101.9px,#a3daa4 128.9px,#b2e0a3 154.9px,#bde4a0 201.1px,#c0e5a0 232.9px)"></i><i style="height:1px;background:linear-gradient(90deg,#5e4fa2 0.1px,#565aa7 12.6px,#3584bb 39.4px,#3389bd 42.4px,#63bfa6 76.1px,#7ecba5 94.4px,#9bd7a4 120.6px,#aedea3 148.1px,#bae3a1 191.1px,#bee5a0 232.9px)"></i><i style="height:1px;background:linear-gradient(90deg,#5e4fa2 0.1px,#565aa7 12.6px,#3683bb 39.4px,#3389bd 42.6px,#63bfa6 76.4px,#76c8a5 89.1px,#95d4a4 115.1px,#abdda4 144.4px,#b8e2a1 185.4px,#bde4a0 232.9px)"></i><i style="height:1px;background:linear-gradient(90deg,#5e4fa2 0.1px,#565aa7 12.6px,#3683bb 39.6px,#3389bd 42.9px,#63bea6 76.6px,#72c7a5 86.9px,#91d3a4 112.6px,#a8dca4 141.6px,#b5e1a2 177.9px,#bce4a1 232.9px)"></i><i style="height:1px;background:linear-gradient(90deg,#5e4fa2 0.1px,#565aa7 12.6px,#3584bb 39.9px,#3389bd 43.1px,#62bea7 76.9px,#6fc6a5 85.9px,#8fd2a4 111.9px,#a6dba4 140.9px,#b3e0a2 174.4px,#bbe3a1 232.9px)"></i><i style="height:1px;background:linear-gradient(90deg,#5e4fa2 0.1px,#565aa7 12.9px,#3485bc 40.9px,#3389bd 43.4px,#62bea7 77.1px,#6ec5a5 85.6px,#8ed2a4 111.6px,#a5dba4 140.6px,#b1e0a3 171.9px,#b9e3a1 231.6px,#bae3a1 232.9px)"></i><i style="height:1px;background:linear-gradient(90deg,#5e4fa2 0.1px,#565aa7 12.9px,#3485bc 41.1px,#3389bd 43.6px,#62bda7 77.4px,#6dc5a5 85.9px,#8dd1a4 111.9px,#a4daa4 140.9px,#b0dfa3 171.6px,#b8e2a1 231.4px,#b8e2a1 232.9px)"></i><i style="height:1px;background:linear-gradient(90deg,#5e4fa2 0.1px,#565aa7 12.9px,#3585bb 41.1px,#3389bd 43.9px,#61bda7 77.6px,#6cc5a5 85.9px,#8cd1a4 112.1px,#a3daa4 141.4px,#afdfa3 172.9px,#b7e2a2 232.9px)"></i><i style="height:1px;background:linear-gradient(90deg,#5e4fa2 0.1px,#565aa7 12.9px,#3585bb 41.4px,#3389bd 44.1px,#61bca7 77.6px,#6bc4a5 85.9px,#8bd0a4 112.1px,#a1d9a4 141.4px,#aedea3 174.1px,#b6e1a2 232.9px)"></i><i style="height:1px;background:linear-gradient(90deg,#5e4fa2 0.1px,#565aa7 12.9px,#3585bb 41.6px,#3389bc 44.4px,#60bca8 77.9px,#6bc4a5 86.4px,#8ad0a4 112.6px,#a1d9a4 142.1px,#aedea3 176.4px,#b5e1a2 232.9px)"></i><i style="height:1px;background:linear-gradient(90deg,#5e4fa2 0.1px,#565aa7 13.1px,#3386bc 42.9px,#348abc 45.1px,#61bca7 78.6px,#6bc4a5 87.1px,#8ad0a4 113.6px,#a0d9a4 143.4px,#addea4 178.9px,#b4e0a2 232.9px)"></i><i style="height:1px;background:linear-gradient(90deg,#5e4fa2 0.1px,#565aa7 13.1px,#3386bc 43.1px,#348abc 45.4px,#60bca8 78.9px,#6bc4a5 87.6px,#8ad0a4 114.1px,#9fd8a4 144.1px,#acdea4 181.1px,#b2e0a3 232.9px)"></i><i style="height:1px;background:linear-gradient(90deg,#5e4fa2 0.1px,#565aa7 13.1px,#3386bc 43.4px,#348abc 45.6px,#60bba8 78.9px,#6bc4a5 88.1px,#89d0a4 114.9px,#9ed8a4 145.1px,#acdda4 183.6px,#b1dfa3 232.9px)"></i><i style="height:1px;background:linear-gradient(90deg,#5e4fa2 0.1px,#565aa7 13.1px,#3387bc 43.6px,#348abc 46.1px,#60bba8 79.4px,#6bc4a5 88.6px,#88cfa5 115.4px,#9dd8a4 145.9px,#abdda4 185.6px,#b0dfa3 232.9px)"></i><i style="height:1px;background:linear-gradient(90deg,#5e4fa2 0.1px,#565aa7 13.4px,#3288bd 44.9px,#5eb9a9 78.6px,#6ac4a5 88.9px,#88cfa5 115.9px,#9dd7a4 146.6px,#aadda4 187.1px,#afdfa3 232.9px)"></i><i style="height:1px;background:linear-gradient(90deg,#5e4fa2 0.1px,#565aa7 13.4px,#3288bd 45.1px,#5eb9a9 78.9px,#6ac4a5 89.6px,#87cfa5 116.6px,#9cd7a4 147.6px,#a9dca4 188.6px,#addea3 232.9px)"></i><i style="height:1px;background:linear-gradient(90deg,#5e4fa2 0.1px,#565aa7 13.4px,#3288bd 45.4px,#5db8a9 79.1px,#6ac4a5 90.4px,#87cfa5 117.6px,#9bd7a4 148.9px,#a8dca4 190.6px,#acdea4 232.9px)"></i><i style="height:1px;background:linear-gradient(90deg,#5e4fa2 0.1px,#565aa7 13.4px,#3289bd 45.9px,#5db8a9 79.6px,#6ac4a5 91.1px,#87cfa5 118.6px,#9ad7a4 150.4px,#a7dba4 193.1px,#abdda4 232.9px)"></i><i style="height:1px;background:linear-gradient(90deg,#5e4fa2 0.1px,#565aa7 13.6px,#3389bd 46.4px,#5db8a9 80.1px,#6ac4a5 91.9px,#86cfa5 119.4px,#9ad6a4 151.4px,#a6dba4 194.6px,#aadca4 232.9px)"></i><i style="height:1px;background:linear-gradient(90deg,#5e4fa2 0.1px,#565aa7 13.6px,#3389bd 46.6px,#5db8a9 80.4px,#6ac3a5 92.4px,#85cea5 120.1px,#99d6a4 152.4px,#a5dba4 196.4px,#a8dca4 232.9px)"></i><i style="height:1px;background:linear-gradient(90deg,#5e4fa2 0.1px,#565aa7 13.6px,#3389bd 46.9px,#5cb7a9 80.6px,#6ac3a5 93.1px,#85cea5 121.1px,#98d6a4 153.9px,#a4daa4 198.9px,#a7dba4 232.9px)"></i><i style="height:1px;background:linear-gradient(90deg,#5e4fa2 0.1px,#565aa7 13.9px,#3389bd 47.1px,#5cb7aa 80.9px,#6ac3a5 94.1px,#85cea5 122.1px,#97d5a4 155.1px,#a3daa4 201.1px,#a5dba4 232.9px)"></i><i style="height:1px;background:linear-gradient(90deg,#5e4fa2 0.1px,#565aa7 13.9px,#3389bd 47.4px,#5cb6aa 81.1px,#6ac3a5 94.9px,#84cea5 123.1px,#96d5a4 156.6px,#a1d9a4 203.6px,#a4daa4 232.9px)"></i><i style="height:1px;background:linear-gradient(90deg,#5e4fa2 0.1px,#565aa7 13.9px,#3389bd 47.6px,#5bb6aa 81.4px,#69c3a5 95.6px,#84cea5 124.1px,#96d5a4 157.9px,#a0d9a4 205.9px,#a3daa4 232.9px)"></i><i style="height:1px;background:linear-gradient(90deg,#5e4fa2 0.1px,#565aa7 13.9px,#3389bd 47.9px,#5bb6aa 81.6px,#69c3a5 96.4px,#83cda5 125.1px,#95d4a4 159.4px,#9fd8a4 208.4px,#a1d9a4 232.9px)"></i><i style="height:1px;background:linear-gradient(90deg,#5e4fa2 0.1px,#565aa7 14.1px,#3389bd 48.1px,#5ab5aa 81.9px,#69c3a5 97.4px,#83cda5 126.4px,#94d4a4 161.1px,#9ed8a4 211.6px,#a0d9a4 232.9px)"></i><i style="height:1px;background:linear-gradient(90deg,#5e4fa2 0.1px,#565aa7 14.1px,#3389bd 48.6px,#5ab5aa 82.4px,#69c3a5 98.1px,#82cda5 127.1px,#93d4a4 162.4px,#9dd8a4 213.9px,#9ed8a4 232.9px)"></i><i style="height:1px;background:linear-gradient(90deg,#5e4fa2 0.1px,#565aa7 14.1px,#3389bd 48.9px,#5ab4ab 82.6px,#69c3a5 99.1px,#82cda5 128.4px,#92d3a4 164.1px,#9cd7a4 217.1px,#9dd7a4 232.9px)"></i><i style="height:1px;background:linear-gradient(90deg,#5e4fa2 0.1px,#565aa7 14.4px,#3389bd 49.1px,#59b4ab 82.9px,#69c3a5 100.1px,#81cda5 129.6px,#92d3a4 165.9px,#9bd7a4 220.6px,#9cd7a4 232.9px)"></i><i style="height:1px;background:linear-gradient(90deg,#5e4fa2 0.1px,#565aa7 14.4px,#3389bd 49.4px,#59b3ab 83.1px,#69c3a5 101.1px,#81cda5 130.9px,#91d3a4 167.6px,#9ad6a4 223.9px,#9ad6a4 232.9px)"></i><i style="height:1px;background:linear-gradient(90deg,#5e4fa2 0.1px,#565aa7 14.4px,#3389bd 49.6px,#58b3ab 83.4px,#69c3a5 102.1px,#81cca5 132.4px,#90d2a4 169.9px,#98d6a4 228.4px,#99d6a4 232.9px)"></i><i style="height:1px;background:linear-gradient(90deg,#5e4fa2 0.1px,#565aa7 14.4px,#3389bd 50.1px,#58b3ab 83.9px,#69c3a5 103.1px,#80cca5 133.6px,#8fd2a4 171.6px,#97d5a4 232.1px,#97d5a4 232.9px)"></i><i style="height:1px;background:linear-gradient(90deg,#5e4fa2 0.1px,#565aa7 14.6px,#3389bd 50.4px,#58b2ac 84.1px,#69c3a5 104.1px,#80cca5 134.9px,#8ed2a4 173.6px,#96d5a4 232.9px)"></i><i style="height:1px;background:linear-gradient(90deg,#5e4fa2 0.1px,#565aa7 14.6px,#3389bd 50.6px,#57b2ac 84.4px,#69c3a5 105.1px,#7fcca5 136.1px,#8dd1a4 175.4px,#94d4a4 232.9px)"></i><i style="height:1px;background:linear-gradient(90deg,#5e4fa2 0.1px,#565aa7 14.6px,#3389bd 51.1px,#57b1ac 84.9px,#69c3a5 106.4px,#7fcca5 137.6px,#8dd1a4 177.6px,#93d4a4 232.9px)"></i><i style="height:1px;background:linear-gradient(90deg,#5e4fa2 0.1px,#565aa7 14.9px,#3389bd 51.4px,#57b1ac 85.4px,#69c3a5 107.4px,#7ecba5 139.1px,#8cd1a4 180.1px,#92d3a4 232.9px)"></i><i style="height:1px;background:linear-gradient(90deg,#5e4fa2 0.1px,#565aa7 14.9px,#3389bd 51.6px,#56b1ac 85.6px,#69c3a5 108.6px,#7dcba5 140.6px,#8bd0a4 182.4px,#90d3a4 232.9px)"></i><i style="height:1px;background:linear-gradient(90deg,#5e4fa2 0.1px,#565aa7 14.9px,#3389bd 52.1px,#56b0ac 86.1px,#68c3a5 109.6px,#7dcba5 141.9px,#8ad0a4 184.4px,#8fd2a4 232.9px)"></i><i style="height:1px;background:linear-gradient(90deg,#5e4fa2 0.1px,#565aa7 15.1px,#3389bd 52.4px,#56b0ad 86.4px,#68c3a5 110.9px,#7ccba5 143.6px,#89d0a4 187.1px,#8dd1a4 232.9px)"></i><i style="height:1px;background:linear-gradient(90deg,#5e4fa2 0.1px,#565aa7 15.1px,#3389bd 52.9px,#55b0ad 86.9px,#68c3a5 112.1px,#7ccba5 145.4px,#88cfa5 189.9px,#8cd1a4 232.9px)"></i><i style="height:1px;background:linear-gradient(90deg,#5e4fa2 0.1px,#565aa7 15.4px,#3389bd 53.1px,#55afad 87.1px,#68c3a5 113.4px,#7bcaa5 146.9px,#87cfa5 192.4px,#8bd0a4 232.9px)"></i><i style="height:1px;background:linear-gradient(90deg,#5e4fa2 0.1px,#565aa7 15.4px,#3389bd 53.6px,#55afad 87.6px,#68c3a5 114.6px,#7bcaa5 148.6px,#86cfa5 195.4px,#89d0a4 232.9px)"></i><i style="height:1px;background:linear-gradient(90deg,#5e4fa2 0.1px,#565aa7 15.4px,#3389bd 53.9px,#54aead 88.1px,#68c3a5 115.9px,#7acaa5 150.4px,#85cea5 198.4px,#88cfa5 232.9px)"></i><i style="height:1px;background:linear-gradient(90deg,#5e4fa2 0.1px,#565aa7 15.6px,#3389bd 54.4px,#54aead 88.6px,#67c3a5 117.4px,#79caa5 152.4px,#84cea5 201.9px,#86cfa5 232.9px)"></i><i style="height:1px;background:linear-gradient(90deg,#5e4fa2 0.1px,#565aa7 15.6px,#3389bd 54.6px,#54adae 88.9px,#67c2a5 118.6px,#79c9a5 154.1px,#83cda5 204.9px,#85cea5 232.9px)"></i><i style="height:1px;background:linear-gradient(90deg,#5e4fa2 0.1px,#565aa7 15.6px,#3389bd 55.1px,#53adae 89.4px,#67c2a5 120.1px,#78c9a5 156.4px,#82cda5 208.9px,#83cea5 232.9px)"></i><i style="height:1px;background:linear-gradient(90deg,#5e4fa2 0.1px,#565aa7 15.9px,#3389bd 55.6px,#53adae 89.9px,#67c2a5 121.4px,#77c9a5 158.1px,#81cca5 212.1px,#82cda5 232.9px)"></i><i style="height:1px;background:linear-gradient(90deg,#5e4fa2 0.1px,#565aa7 15.9px,#3389bd 55.9px,#53acae 90.4px,#66c2a5 122.9px,#77c8a5 160.1px,#80cca5 215.9px,#81cca5 232.9px)"></i><i style="height:1px;background:linear-gradient(90deg,#5e4fa2 0.1px,#565aa7 16.1px,#3389bd 56.4px,#52acae 90.9px,#66c2a5 124.4px,#76c8a5 162.4px,#7fcca5 220.4px,#7fcca5 232.9px)"></i><i style="height:1px;background:linear-gradient(90deg,#5e4fa2 0.1px,#565aa7 16.1px,#3389bd 56.9px,#52acae 91.4px,#66c2a5 125.6px,#75c8a5 165.1px,#7dcba5 225.9px,#7ecba5 232.9px)"></i><i style="height:1px;background:linear-gradient(90deg,#5e4fa2 0.1px,#565aa7 16.1px,#3389bd 57.4px,#51abae 91.9px,#65c1a5 126.4px,#75c8a5 167.6px,#7ccba5 231.1px,#7ccba5 232.9px)"></i><i style="height:1px;background:linear-gradient(90deg,#5e4fa2 0.1px,#565aa7 16.4px,#3389bd 57.6px,#51abaf 92.4px,#64c0a6 127.1px,#74c7a5 170.4px,#7bcaa5 232.9px)"></i><i style="height:1px;background:linear-gradient(90deg,#5e4fa2 0.1px,#565aa7 16.4px,#3389bd 58.1px,#51aaaf 92.9px,#64c0a6 127.9px,#73c7a5 171.9px,#7acaa5 232.9px)"></i><i style="height:1px;background:linear-gradient(90deg,#5e4fa2 0.1px,#565aa7 16.6px,#3389bd 58.6px,#50aaaf 93.4px,#63bfa6 128.6px,#6ec5a5 158.6px,#77c9a5 215.4px,#78c9a5 232.9px)"></i><i style="height:1px;background:linear-gradient(90deg,#5e4fa2 0.1px,#565aa7 16.6px,#3389bd 59.1px,#50a9af 93.9px,#63bea7 129.4px,#6cc4a5 155.1px,#75c8a5 209.6px,#77c9a5 232.9px)"></i><i style="height:1px;background:linear-gradient(90deg,#5e4fa2 0.1px,#565aa7 16.9px,#3389bd 59.6px,#50a9af 94.6px,#62bea7 130.4px,#6bc4a5 155.6px,#74c7a5 210.9px,#75c8a5 232.9px)"></i><i style="height:1px;background:linear-gradient(90deg,#5e4fa2 0.1px,#565aa7 16.9px,#3389bd 60.1px,#4fa9af 95.1px,#61bda7 131.1px,#6ac4a5 157.4px,#73c7a5 214.1px,#74c7a5 232.9px)"></i><i style="height:1px;background:linear-gradient(90deg,#5e4fa2 0.1px,#565aa7 16.9px,#3389bd 60.6px,#4fa8b0 95.6px,#61bca7 131.9px,#69c3a5 160.1px,#72c7a5 219.4px,#73c7a5 232.9px)"></i><i style="height:1px;background:linear-gradient(90deg,#5e4fa2 0.1px,#565aa7 17.1px,#3389bd 61.1px,#4fa8b0 96.4px,#60bca8 132.9px,#69c3a5 163.9px,#71c6a5 226.9px,#71c6a5 232.9px)"></i><i style="height:1px;background:linear-gradient(90deg,#5e4fa2 0.1px,#565aa7 17.1px,#3389bd 61.6px,#4ea7b0 96.9px,#60bba8 133.9px,#69c3a5 168.1px,#70c6a5 232.9px)"></i><i style="height:1px;background:linear-gradient(90deg,#5e4fa2 0.1px,#565aa7 17.4px,#3389bd 62.4px,#4ea7b0 97.9px,#5fbaa8 135.1px,#68c3a5 172.9px,#6ec5a5 232.9px)"></i><i style="height:1px;background:linear-gradient(90deg,#5e4fa2 0.1px,#565aa7 17.4px,#3389bd 62.9px,#4da7b0 98.4px,#5ebaa9 135.9px,#68c3a5 177.6px,#6dc5a5 232.9px)"></i><i style="height:1px;background:linear-gradient(90deg,#5e4fa2 0.1px,#565aa7 17.6px,#3389bd 63.4px,#4da6b0 99.1px,#5eb9a9 137.1px,#67c2a5 182.9px,#6bc4a5 232.9px)"></i><i style="height:1px;background:linear-gradient(90deg,#5e4fa2 0.1px,#565aa7 17.6px,#3389bd 64.1px,#4da6b1 99.9px,#5db8a9 138.1px,#67c2a5 187.9px,#6ac4a5 232.9px)"></i><i style="height:1px;background:linear-gradient(90deg,#5e4fa2 0.1px,#565aa7 17.9px,#3389bd 64.6px,#4ca5b1 100.6px,#5db8a9 139.4px,#66c2a5 192.9px,#69c3a5 232.9px)"></i><i style="height:1px;background:linear-gradient(90deg,#5e4fa2 0.1px,#555aa7 18.1px,#3389bd 65.1px,#4ca5b1 101.1px,#5cb7aa 140.1px,#65c1a6 194.4px,#67c2a5 232.9px)"></i><i style="height:1px;background:linear-gradient(90deg,#5e4fa2 0.1px,#565aa7 18.1px,#3389bd 65.9px,#4ca5b1 102.1px,#5bb6aa 141.6px,#64c0a6 197.4px,#66c2a5 232.9px)"></i><i style="height:1px;background:linear-gradient(90deg,#5e4fa2 0.1px,#555aa7 18.4px,#3389bd 66.6px,#4ba4b1 102.9px,#5bb5aa 142.6px,#63bfa6 199.4px,#65c1a6 232.9px)"></i><i style="height:1px;background:linear-gradient(90deg,#5e4fa2 0.1px,#565aa7 18.4px,#3389bd 67.1px,#4ba4b2 103.6px,#5ab5ab 143.9px,#62bea7 201.9px,#64bfa6 232.9px)"></i><i style="height:1px;background:linear-gradient(90deg,#5e4fa2 0.1px,#555aa7 18.6px,#3389bd 67.9px,#4aa3b2 104.4px,#59b4ab 145.1px,#61bda7 204.4px,#63bea7 232.9px)"></i><i style="height:1px;background:linear-gradient(90deg,#5e4fa2 0.1px,#565aa7 18.6px,#3389bd 68.6px,#4aa3b2 105.4px,#59b3ab 146.6px,#61bca8 207.6px,#62bda7 232.9px)"></i><i style="height:1px;background:linear-gradient(90deg,#5e4fa2 0.1px,#565aa7 18.9px,#3389bd 69.4px,#4aa3b2 106.4px,#58b3ab 148.1px,#60bba8 210.6px,#61bca8 232.9px)"></i><i style="height:1px;background:linear-gradient(90deg,#5e4fa2 0.1px,#555aa7 19.1px,#3389bd 70.1px,#49a2b2 107.4px,#57b2ac 149.6px,#5fbaa8 213.9px,#5fbba8 232.9px)"></i><i style="height:1px;background:linear-gradient(90deg,#5e4fa2 0.1px,#565aa7 19.1px,#3389bd 70.9px,#49a2b2 108.1px,#57b1ac 150.9px,#5eb9a9 216.9px,#5ebaa9 232.9px)"></i><i style="height:1px;background:linear-gradient(90deg,#5e4fa2 0.1px,#555aa7 19.4px,#3389bd 71.6px,#49a1b3 109.1px,#56b0ac 152.4px,#5db8a9 220.1px,#5db8a9 232.9px)"></i><i style="height:1px;background:linear-gradient(90deg,#5e4fa2 0.1px,#555aa7 19.6px,#3389bd 72.4px,#48a1b3 110.1px,#55afad 153.9px,#5cb7aa 223.9px,#5cb7a9 232.9px)"></i><i style="height:1px;background:linear-gradient(90deg,#5e4fa2 0.1px,#565aa7 19.6px,#3389bd 73.1px,#48a0b3 111.1px,#55afad 155.6px,#5bb6aa 227.9px,#5bb6aa 232.9px)"></i><i style="height:1px;background:linear-gradient(90deg,#5e4fa2 0.1px,#555aa7 19.9px,#3389bd 74.1px,#47a0b3 112.4px,#54aead 157.6px,#5ab5aa 232.9px)"></i><i style="height:1px;background:linear-gradient(90deg,#5e4fa2 0.1px,#555aa7 20.1px,#3389bd 74.9px,#479fb3 113.4px,#53adae 159.1px,#59b4ab 232.9px)"></i><i style="height:1px;background:linear-gradient(90deg,#5e4fa2 0.1px,#565aa7 20.1px,#3389bd 75.9px,#479fb3 114.6px,#53acae 161.1px,#58b2ab 232.9px)"></i><i style="height:1px;background:linear-gradient(90deg,#5e4fa2 0.1px,#555aa7 20.4px,#3288bd 76.6px,#469eb4 115.6px,#52acae 162.9px,#57b1ac 232.9px)"></i><i style="height:1px;background:linear-gradient(90deg,#5e4fa2 0.1px,#555aa7 20.6px,#3288bd 77.6px,#469eb4 116.9px,#51abaf 165.1px,#56b0ac 232.9px)"></i><i style="height:1px;background:linear-gradient(90deg,#5e4fa2 0.1px,#555aa7 20.9px,#3288bd 78.6px,#459eb4 118.4px,#51aaaf 167.6px,#55afad 232.9px)"></i><i style="height:1px;background:linear-gradient(90deg,#5e4fa2 0.1px,#555aa7 21.1px,#3288bd 79.6px,#459db4 119.6px,#50a9af 169.6px,#54aead 232.9px)"></i><i style="height:1px;background:linear-gradient(90deg,#5e4fa2 0.1px,#555aa7 21.1px,#3288bd 80.6px,#449db4 120.9px,#4fa8b0 171.9px,#53acae 232.9px)"></i><i style="height:1px;background:linear-gradient(90deg,#5e4fa2 0.1px,#555aa7 21.4px,#3288bd 81.6px,#449cb5 122.4px,#4ea8b0 174.4px,#52abae 232.9px)"></i><i style="height:1px;background:linear-gradient(90deg,#5e4fa2 0.1px,#555aa7 21.6px,#3288bd 82.9px,#449cb5 124.1px,#4ea7b0 177.6px,#51aaaf 232.9px)"></i><i style="height:1px;background:linear-gradient(90deg,#5e4fa2 0.1px,#555aa7 21.9px,#3288bd 83.1px,#439bb5 124.6px,#4da6b1 178.6px,#4fa9af 232.9px)"></i><i style="height:1px;background:linear-gradient(90deg,#5e4fa2 0.1px,#555aa7 22.1px,#3387bd 83.4px,#429ab5 125.4px,#4ca5b1 180.4px,#4ea8b0 232.9px)"></i><i style="height:1px;background:linear-gradient(90deg,#5e4fa2 0.1px,#555aa7 22.4px,#3386bc 83.6px,#348abc 90.6px,#449cb5 133.9px,#4ca5b1 194.6px,#4da7b0 232.9px)"></i><i style="height:1px;background:linear-gradient(90deg,#5e4fa2 0.1px,#555aa7 22.6px,#3486bc 83.9px,#3389bc 90.4px,#439bb5 133.9px,#4ba4b2 195.1px,#4ca5b1 232.9px)"></i><i style="height:1px;background:linear-gradient(90deg,#5e4fa2 0.1px,#555aa7 22.9px,#3485bc 83.9px,#3389bc 91.4px,#429ab6 135.4px,#4aa3b2 198.4px,#4ba4b1 232.9px)"></i><i style="height:1px;background:linear-gradient(90deg,#5e4fa2 0.1px,#555aa7 23.1px,#3585bb 84.1px,#3389bd 92.9px,#4299b6 137.6px,#49a2b2 202.9px,#4aa3b2 232.9px)"></i><i style="height:1px;background:linear-gradient(90deg,#5e4fa2 0.1px,#555aa7 23.4px,#3584bb 84.4px,#3389bd 94.4px,#4199b6 139.6px,#48a1b3 207.1px,#49a2b2 232.9px)"></i><i style="height:1px;background:linear-gradient(90deg,#5e4fa2 0.1px,#555aa7 23.6px,#3683bb 84.6px,#3389bd 96.1px,#4198b6 142.1px,#47a0b3 212.6px,#48a1b3 232.9px)"></i><i style="height:1px;background:linear-gradient(90deg,#5e4fa2 0.1px,#555aa7 23.9px,#3683ba 84.9px,#3389bd 97.9px,#4098b6 144.9px,#479fb3 218.9px,#479fb3 232.9px)"></i><i style="height:1px;background:linear-gradient(90deg,#5e4fa2 0.1px,#555aa7 24.1px,#3782ba 85.1px,#3389bd 99.9px,#4097b7 147.9px,#469eb4 226.1px,#469eb4 232.9px)"></i><i style="height:1px;background:linear-gradient(90deg,#5e4fa2 0.1px,#555aa7 24.4px,#3782ba 85.6px,#3389bd 101.9px,#3f97b7 150.9px,#459db4 232.9px)"></i><i style="height:1px;background:linear-gradient(90deg,#5e4fa2 0.1px,#555aa7 24.9px,#3781ba 85.9px,#3389bd 103.9px,#3f96b7 153.9px,#449cb5 232.9px)"></i><i style="height:1px;background:linear-gradient(90deg,#5e4fa2 0.1px,#555aa7 25.1px,#3880b9 86.1px,#3389bd 106.4px,#3e96b7 157.9px,#439bb5 232.9px)"></i><i style="height:1px;background:linear-gradient(90deg,#5e4fa2 0.1px,#555aa7 25.4px,#3880b9 86.4px,#3389bd 108.9px,#3e95b8 161.6px,#4299b6 232.9px)"></i><i style="height:1px;background:linear-gradient(90deg,#5e4fa2 0.1px,#555ba7 25.9px,#397fb9 86.9px,#3389bd 111.4px,#3d94b8 165.9px,#4198b6 232.9px)"></i><i style="height:1px;background:linear-gradient(90deg,#5e4fa2 0.1px,#555ba7 26.1px,#397eb8 87.1px,#3389bd 114.4px,#3d94b8 170.9px,#4097b7 232.9px)"></i><i style="height:1px;background:linear-gradient(90deg,#5e4fa2 0.1px,#555ba7 26.4px,#3a7eb8 87.4px,#3389bd 117.4px,#3c93b8 175.9px,#3e96b7 232.9px)"></i><i style="height:1px;background:linear-gradient(90deg,#5e4fa2 0.1px,#555ba7 26.9px,#3a7db8 87.9px,#3389bd 120.9px,#3b93b9 182.1px,#3d95b8 232.9px)"></i><i style="height:1px;background:linear-gradient(90deg,#5e4fa2 0.1px,#555ba8 27.4px,#3b7db8 88.1px,#3389bd 124.4px,#3b92b9 188.4px,#3c94b8 232.9px)"></i><i style="height:1px;background:linear-gradient(90deg,#5e4fa2 0.1px,#555ba8 27.6px,#3b7cb7 88.6px,#3389bd 128.4px,#3a91b9 196.1px,#3b92b9 232.9px)"></i><i style="height:1px;background:linear-gradient(90deg,#5e4fa2 0.1px,#555ba8 28.1px,#3c7bb7 89.1px,#3389bd 132.6px,#3990ba 204.9px,#3a91b9 232.9px)"></i><i style="height:1px;background:linear-gradient(90deg,#5e4fa2 0.1px,#555ba8 28.6px,#3c7bb7 89.6px,#3288bd 137.4px,#3990ba 215.1px,#3990ba 232.9px)"></i><i style="height:1px;background:linear-gradient(90deg,#5e4fa2 0.1px,#555ba8 28.9px,#3d7ab6 89.9px,#3288bd 141.6px,#388fba 225.4px,#388fba 232.9px)"></i><i style="height:1px;background:linear-gradient(90deg,#5e4fa2 0.1px,#555ba8 29.4px,#3d7ab6 90.4px,#3387bd 142.9px,#378ebb 229.9px,#378ebb 232.9px)"></i><i style="height:1px;background:linear-gradient(90deg,#5e4fa2 0.1px,#555ba8 29.9px,#3e79b6 90.9px,#3386bc 144.1px,#348bbc 184.1px,#368cbb 232.9px)"></i><i style="height:1px;background:linear-gradient(90deg,#5e4fa2 0.1px,#555ba8 30.6px,#3e78b6 91.6px,#3486bc 145.6px,#3389bc 182.9px,#358bbc 232.9px)"></i><i style="height:1px;background:linear-gradient(90deg,#5e4fa2 0.1px,#555ba8 31.1px,#3f78b5 92.1px,#3585bb 146.9px,#3389bd 198.6px,#348abc 232.9px)"></i><i style="height:1px;background:linear-gradient(90deg,#5e4fa2 0.1px,#555ba8 31.6px,#3f77b5 92.9px,#3584bb 148.4px,#3389bd 228.9px,#3389bd 232.9px)"></i><i style="height:1px;background:linear-gradient(90deg,#5e4fa2 0.1px,#555ba8 32.4px,#3f77b5 93.4px,#3683bb 149.9px,#3288bd 232.9px)"></i><i style="height:1px;background:linear-gradient(90deg,#5e4fa2 0.1px,#555ba8 32.9px,#4076b4 94.1px,#3782ba 151.6px,#3386bc 232.9px)"></i><i style="height:1px;background:linear-gradient(90deg,#5e4fa2 0.1px,#555ba8 33.6px,#4075b4 94.9px,#3781ba 153.4px,#3485bc 232.9px)"></i><i style="height:1px;background:linear-gradient(90deg,#5e4fa2 0.1px,#545ba8 34.4px,#4175b4 95.6px,#3880b9 155.1px,#3584bb 232.9px)"></i><i style="height:1px;background:linear-gradient(90deg,#5e4fa2 0.1px,#545ba8 35.1px,#4174b4 96.6px,#397fb9 157.1px,#3683bb 232.9px)"></i><i style="height:1px;background:linear-gradient(90deg,#5e4fa2 0.1px,#545ca8 35.9px,#4274b3 97.4px,#397fb9 159.1px,#3782ba 232.9px)"></i><i style="height:1px;background:linear-gradient(90deg,#5e4fa2 0.1px,#545ca8 36.9px,#4273b3 98.6px,#3a7eb8 161.9px,#3881ba 232.9px)"></i><i style="height:1px;background:linear-gradient(90deg,#5e4fa2 0.1px,#545ca8 37.6px,#4373b3 99.4px,#3b7db8 163.9px,#397fb9 232.9px)"></i><i style="height:1px;background:linear-gradient(90deg,#5e4fa2 0.1px,#545ca8 38.6px,#4372b3 100.6px,#3b7cb7 166.6px,#3a7eb8 232.9px)"></i><i style="height:1px;background:linear-gradient(90deg,#5e4fa2 0.1px,#545ca8 39.9px,#4371b2 102.1px,#3c7bb7 170.1px,#3a7db8 232.9px)"></i><i style="height:1px;background:linear-gradient(90deg,#5e4fa2 0.1px,#545ca8 41.1px,#4471b2 103.4px,#3d7ab6 173.1px,#3b7cb7 232.9px)"></i><i style="height:1px;background:linear-gradient(90deg,#5e4fa2 0.1px,#545ca8 42.4px,#4470b2 104.9px,#3d79b6 176.9px,#3c7bb7 232.9px)"></i><i style="height:1px;background:linear-gradient(90deg,#5e4fa2 0.1px,#545da8 43.9px,#4570b2 106.6px,#3e78b6 180.9px,#3d7ab6 232.9px)"></i><i style="height:1px;background:linear-gradient(90deg,#5e4fa2 0.1px,#535da9 45.4px,#456fb1 108.6px,#3f77b5 185.9px,#3e78b6 232.9px)"></i><i style="height:1px;background:linear-gradient(90deg,#5e4fa2 0.1px,#535da9 47.4px,#456fb1 110.9px,#4076b5 191.4px,#3f77b5 232.9px)"></i><i style="height:1px;background:linear-gradient(90deg,#5e4fa2 0.1px,#535da9 49.6px,#466eb1 113.4px,#4075b4 197.9px,#4076b5 232.9px)"></i><i style="height:1px;background:linear-gradient(90deg,#5e4fa2 0.1px,#535ea9 52.1px,#466eb1 116.6px,#4175b4 206.4px,#4175b4 232.9px)"></i><i style="height:1px;background:linear-gradient(90deg,#5e4fa2 0.1px,#525fa9 55.6px,#466eb0 120.6px,#4274b3 217.1px,#4274b3 232.9px)"></i><i style="height:1px;background:linear-gradient(90deg,#5e4fa2 0.1px,#5160aa 60.6px,#476db0 126.6px,#4373b3 232.9px)"></i><i style="height:1px;background:linear-gradient(90deg,#5e4fa2 0.1px,#496aaf 110.9px,#4471b2 200.9px,#4371b2 232.9px)"></i><i style="height:1px;background:linear-gradient(90deg,#5e4fa2 0.1px,#4a69af 111.9px,#4570b2 205.4px,#4470b2 232.9px)"></i><i style="height:1px;background:linear-gradient(90deg,#5e4fa2 0.1px,#4a69ae 112.6px,#456fb1 209.6px,#456fb1 232.9px)"></i><i style="height:1px;background:linear-gradient(90deg,#5e4fa2 0.1px,#4b68ae 113.6px,#466eb1 214.6px,#466eb1 232.9px)"></i><i style="height:1px;background:linear-gradient(90deg,#5e4fa2 0.1px,#4b67ad 114.6px,#476db0 220.1px,#476db0 232.9px)"></i><i style="height:1px;background:linear-gradient(90deg,#5e4fa2 0.1px,#4c66ad 115.6px,#486cb0 226.1px,#486cb0 232.9px)"></i><i style="height:1px;background:linear-gradient(90deg,#5e4fa2 0.1px,#4d65ad 116.9px,#496aaf 232.9px)"></i><i style="height:1px;background:linear-gradient(90deg,#5e4fa2 0.1px,#4d65ac 118.1px,#4a69ae 232.9px)"></i><i style="height:1px;background:linear-gradient(90deg,#5e4fa2 0.1px,#4e64ac 119.4px,#4b68ae 232.9px)"></i><i style="height:1px;background:linear-gradient(90deg,#5e4fa2 0.1px,#4f63ab 120.9px,#4c67ad 232.9px)"></i><i style="height:1px;background:linear-gradient(90deg,#5e4fa2 0.1px,#4f62ab 122.4px,#4c66ad 232.9px)"></i><i style="height:1px;background:linear-gradient(90deg,#5e4fa2 0.1px,#5061ab 124.1px,#4d65ac 232.9px)"></i><i style="height:1px;background:linear-gradient(90deg,#5e4fa2 0.1px,#5160aa 125.9px,#4e63ac 232.9px)"></i><i style="height:1px;background:linear-gradient(90deg,#5e4fa2 0.1px,#5160aa 127.9px,#4f62ab 232.9px)"></i><i style="height:1px;background:linear-gradient(90deg,#5e4fa2 0.1px,#525fa9 130.4px,#5061ab 232.9px)"></i><i style="height:1px;background:linear-gradient(90deg,#5e4fa2 0.1px,#535ea9 132.9px,#5160aa 232.9px)"></i><i style="height:1px;background:linear-gradient(90deg,#5e4fa2 0.1px,#535da9 135.9px,#525fa9 232.9px)"></i></div><div class="cb" style="left:623px;top:18px;width:19px;height:232px;background:linear-gradient(0deg,#5e4fa2 0.0%,#3288bd 10.0%,#66c2a5 20.0%,#abdda4 30.0%,#e6f598 40.0%,#ffffbf 50.0%,#fee08b 60.0%,#fdae61 70.0%,#f46d43 80.0%,#d53e4f 90.0%,#9e0142 100.0%)"></div><div class="cb" style="left:623px;top:319px;width:19px;height:232px;background:linear-gradient(0deg,#5e4fa2 0.0%,#3288bd 10.0%,#66c2a5 20.0%,#abdda4 30.0%,#e6f598 40.0%,#ffffbf 50.0%,#fee08b 60.0%,#fdae61 70.0%,#f46d43 80.0%,#d53e4f 90.0%,#9e0142 100.0%)"></div><svg width="685" height="592" viewBox="0 0 685 592" font-family="Liberation Sans, sans-serif"><path d="M63.00,170.56 L63.49,171.24 L63.99,171.92 L64.51,172.62 L65.04,173.31 L65.56,173.99 L66.09,174.66 L66.59,175.30 L67.14,175.97 L67.66,176.61 L68.19,177.24 L68.71,177.86 L69.23,178.48 L69.76,179.08 L70.31,179.70 L70.87,180.33 L71.45,180.97 L71.99,181.56 L72.56,182.16 L73.14,182.78 L73.72,183.38 L74.30,183.98 L74.89,184.56 L75.47,185.14 L76.05,185.71 L76.63,186.27 L77.22,186.83 L77.86,187.43 L78.50,188.02 L79.14,188.60 L79.78,189.17 L80.42,189.73 L81.03,190.26 L81.64,190.78 L82.26,191.30 L82.93,191.85 L83.57,192.38 L84.21,192.89 L84.84,193.39 L85.49,193.90 L86.13,194.40 L86.77,194.88 L87.41,195.36 L88.11,195.88 L88.81,196.39 L89.49,196.87 L90.15,197.34 L90.81,197.80 L91.49,198.26 L92.18,198.73 L92.87,199.19 L93.58,199.66 L94.29,200.11 L94.99,200.56 L95.69,201.00 L96.39,201.43 L97.08,201.86 L97.78,202.28 L98.48,202.70 L99.18,203.11 L99.88,203.51 L100.58,203.91 L101.28,204.31 L102.04,204.73 L102.79,205.14 L103.55,205.55 L104.31,205.95 L105.07,206.35 L105.80,206.73 L106.52,207.10 L107.28,207.48 L108.04,207.86 L108.80,208.23 L109.53,208.59 L110.26,208.94 L111.00,209.28 L111.74,209.63 L112.50,209.98 L113.27,210.33 L114.04,210.67 L114.80,211.01 L115.55,211.34 L116.31,211.67 L117.07,211.99 L117.81,212.30 L118.58,212.62 L119.34,212.93 L120.10,213.24 L120.86,213.54 L121.61,213.84 L122.37,214.13 L123.13,214.43 L123.89,214.72 L124.64,215.00 L125.40,215.28 L126.16,215.56 L126.92,215.84 L127.67,216.11 L128.43,216.38 L129.19,216.64 L129.95,216.91 L130.70,217.17 L131.52,217.44 L132.33,217.72 L133.14,217.98 L133.91,218.23 L134.72,218.50 L135.54,218.76 L136.36,219.02 L137.13,219.26 L137.93,219.51 L138.74,219.76 L139.56,220.00 L140.38,220.25 L141.19,220.49 L142.01,220.72 L142.82,220.96 L143.64,221.19 L144.45,221.42 L145.27,221.65 L146.09,221.88 L146.90,222.10 L147.72,222.32 L148.53,222.54 L149.35,222.75 L150.16,222.97 L150.98,223.18 L151.80,223.39 L152.61,223.59 L153.43,223.80 L154.24,224.00 L155.06,224.20 L155.87,224.40 L156.69,224.60 L157.51,224.79 L158.32,224.98 L159.14,225.17 L159.95,225.36 L160.77,225.55 L161.58,225.73 L162.40,225.92 L163.22,226.10 L164.03,226.28 L164.83,226.45 L165.66,226.63 L166.44,226.80 L167.24,226.97 L168.05,227.14 L168.87,227.31 L169.68,227.48 L170.50,227.64 L171.31,227.81 L172.13,227.97 L172.95,228.13 L173.76,228.29 L174.58,228.45 L175.39,228.61 L176.21,228.77 L177.02,228.92 L177.84,229.07 L178.66,229.23 L179.47,229.38 L180.29,229.52 L181.10,229.67 L181.90,229.82 L182.73,229.96 L183.55,230.11 L184.37,230.25 L185.18,230.39 L186.00,230.53 L186.81,230.67 L187.63,230.81 L188.44,230.95 L189.26,231.08 L190.08,231.22 L190.89,231.35 L191.71,231.48 L192.52,231.61 L193.34,231.74 L194.15,231.87 L194.97,232.00 L195.78,232.13 L196.60,232.25 L197.42,232.38 L198.23,232.50 L199.05,232.62 L199.86,232.75 L200.68,232.87 L201.49,232.99 L202.31,233.10 L203.13,233.22 L203.94,233.34 L204.76,233.46 L205.57,233.57 L206.39,233.69 L207.20,233.80 L208.02,233.91 L208.84,234.02 L209.65,234.13 L210.47,234.24 L211.28,234.35 L212.10,234.46 L212.91,234.57 L213.73,234.68 L214.55,234.78 L215.36,234.89 L216.18,234.99 L216.99,235.09 L217.81,235.20 L218.62,235.30 L219.44,235.40 L220.25,235.50 L221.07,235.60 L221.89,235.70 L222.70,235.80 L223.52,235.90 L224.33,235.99 L225.15,236.09 L225.97,236.18 L226.78,236.28 L227.60,236.37 L228.41,236.47 L229.23,236.56 L230.04,236.65 L230.86,236.74 L231.68,236.84 L232.49,236.93 L233.31,237.02 L234.12,237.10 L234.94,237.19 L235.75,237.28 L236.57,237.37 L237.39,237.46 L238.20,237.54 L239.02,237.63 L239.83,237.71 L240.65,237.80 L241.46,237.88 L242.28,237.96 L243.10,238.05 L243.91,238.13 L244.73,238.21 L245.54,238.29 L246.36,238.37 L247.17,238.45 L247.99,238.53 L248.81,238.61 L249.62,238.69 L250.44,238.77 L251.25,238.85 L252.07,238.92 L252.88,239.00 L253.70,239.07 L254.52,239.15 L255.33,239.23 L256.15,239.30 L256.96,239.37 L257.78,239.45 L258.59,239.52 L259.41,239.59 L260.23,239.67 L261.04,239.74 L261.86,239.81 L262.67,239.88 L263.49,239.95 L264.30,240.02 L265.12,240.09 L265.94,240.16 L266.75,240.23 L267.57,240.30 L268.38,240.37 L269.20,240.43 L270.01,240.50 L270.83,240.57 L271.65,240.63 L272.46,240.70 L273.28,240.77 L274.09,240.83 L274.91,240.90 L275.72,240.96 L276.54,241.02 L277.36,241.09 L278.17,241.15 L278.99,241.22 L279.80,241.28 L280.62,241.34 L281.43,241.40 L282.25,241.46 L283.07,241.53 L283.88,241.59 L284.70,241.65 L285.51,241.71 L286.33,241.77 L287.14,241.83 L287.96,241.89 L288.78,241.94 L289.59,242.00 L290.41,242.06 L291.22,242.12 L292.04,242.18 L292.85,242.23 L293.67,242.29 L294.49,242.35 L295.30,242.40 L296.00,242.45" fill="none" stroke="#fff" stroke-width="1" stroke-opacity="0.92"/><path d="M63.00,78.13 L63.28,78.90 L63.57,79.71 L63.87,80.52 L64.17,81.31 L64.46,82.09 L64.74,82.84 L65.04,83.63 L65.33,84.38 L65.62,85.14 L65.91,85.88 L66.22,86.67 L66.55,87.48 L66.85,88.23 L67.16,88.99 L67.49,89.80 L67.82,90.62 L68.16,91.43 L68.48,92.18 L68.80,92.94 L69.12,93.69 L69.44,94.44 L69.80,95.26 L70.15,96.07 L70.51,96.88 L70.87,97.67 L71.22,98.44 L71.56,99.20 L71.91,99.96 L72.26,100.71 L72.61,101.46 L72.96,102.20 L73.31,102.93 L73.66,103.65 L74.04,104.42 L74.42,105.20 L74.78,105.93 L75.18,106.72 L75.54,107.44 L75.93,108.21 L76.32,108.94 L76.69,109.67 L77.10,110.44 L77.51,111.21 L77.91,111.96 L78.32,112.72 L78.73,113.47 L79.14,114.20 L79.55,114.93 L79.95,115.66 L80.36,116.37 L80.76,117.06 L81.16,117.76 L81.57,118.46 L81.98,119.15 L82.40,119.85 L82.82,120.54 L83.25,121.24 L83.67,121.94 L84.11,122.63 L84.54,123.33 L84.98,124.02 L85.43,124.72 L85.88,125.42 L86.34,126.11 L86.79,126.81 L87.26,127.50 L87.73,128.20 L88.20,128.90 L88.68,129.59 L89.16,130.28 L89.63,130.95 L90.09,131.60 L90.56,132.25 L91.07,132.96 L91.55,133.62 L92.07,134.32 L92.60,135.03 L93.12,135.72 L93.65,136.41 L94.17,137.09 L94.70,137.76 L95.21,138.41 L95.74,139.08 L96.27,139.73 L96.79,140.38 L97.32,141.01 L97.84,141.64 L98.37,142.27 L98.89,142.89 L99.42,143.50 L99.94,144.10 L100.52,144.77 L101.05,145.37 L101.63,146.01 L102.20,146.64 L102.79,147.29 L103.37,147.92 L103.96,148.55 L104.54,149.16 L105.13,149.77 L105.69,150.36 L106.25,150.94 L106.81,151.51 L107.40,152.09 L107.98,152.67 L108.56,153.24 L109.15,153.81 L109.73,154.37 L110.31,154.93 L110.89,155.48 L111.49,156.04 L112.12,156.62 L112.76,157.20 L113.40,157.78 L114.04,158.36 L114.68,158.92 L115.32,159.48 L115.96,160.04 L116.58,160.56 L117.19,161.08 L117.81,161.61 L118.47,162.15 L119.11,162.68 L119.75,163.20 L120.39,163.72 L121.03,164.23 L121.67,164.73 L122.31,165.23 L122.95,165.73 L123.60,166.22 L124.24,166.70 L124.88,167.18 L125.58,167.70 L126.28,168.22 L126.97,168.72 L127.67,169.23 L128.37,169.72 L129.04,170.19 L129.71,170.66 L130.38,171.12 L131.05,171.58 L131.75,172.05 L132.44,172.51 L133.14,172.98 L133.85,173.44 L134.55,173.89 L135.25,174.34 L135.95,174.79 L136.65,175.23 L137.35,175.66 L138.04,176.09 L138.74,176.52 L139.44,176.94 L140.14,177.36 L140.84,177.78 L141.54,178.19 L142.24,178.59 L142.94,179.00 L143.64,179.39 L144.34,179.79 L145.04,180.18 L145.79,180.60 L146.55,181.02 L147.31,181.43 L148.07,181.84 L148.82,182.24 L149.58,182.64 L150.34,183.03 L151.08,183.42 L151.80,183.78 L152.55,184.17 L153.31,184.55 L154.07,184.92 L154.82,185.30 L155.58,185.67 L156.34,186.03 L157.10,186.40 L157.85,186.76 L158.61,187.11 L159.37,187.47 L160.13,187.81 L160.88,188.16 L161.64,188.50 L162.40,188.84 L163.16,189.18 L163.91,189.51 L164.67,189.85 L165.43,190.17 L166.17,190.49 L166.94,190.82 L167.70,191.14 L168.46,191.46 L169.21,191.77 L169.97,192.08 L170.73,192.39 L171.49,192.69 L172.25,193.00 L173.00,193.30 L173.76,193.59 L174.52,193.89 L175.28,194.18 L176.03,194.47 L176.79,194.76 L177.55,195.05 L178.31,195.33 L179.06,195.61 L179.82,195.89 L180.58,196.16 L181.34,196.44 L182.09,196.71 L182.85,196.98 L183.61,197.25 L184.37,197.51 L185.12,197.77 L185.88,198.03 L186.64,198.29 L187.45,198.57 L188.27,198.84 L189.08,199.11 L189.90,199.38 L190.72,199.65 L191.53,199.92 L192.35,200.18 L193.16,200.44 L193.98,200.70 L194.79,200.95 L195.61,201.21 L196.43,201.46 L197.24,201.71 L198.06,201.96 L198.87,202.20 L199.67,202.44 L200.45,202.67 L201.24,202.90 L202.02,203.13 L202.83,203.37 L203.64,203.60 L204.41,203.82 L205.22,204.05 L206.04,204.28 L206.86,204.51 L207.67,204.73 L208.49,204.96 L209.30,205.18 L210.12,205.40 L210.93,205.62 L211.75,205.84 L212.57,206.05 L213.38,206.27 L214.20,206.48 L215.01,206.69 L215.83,206.90 L216.64,207.11 L217.45,207.31 L218.28,207.52 L219.09,207.72 L219.91,207.92 L220.72,208.12 L221.54,208.32 L222.35,208.52 L223.17,208.72 L223.98,208.91 L224.80,209.10 L225.62,209.30 L226.43,209.49 L227.25,209.68 L228.06,209.86 L228.88,210.05 L229.69,210.24 L230.51,210.42 L231.33,210.60 L232.14,210.78 L232.96,210.96 L233.77,211.14 L234.59,211.32 L235.40,211.50 L236.22,211.67 L237.04,211.84 L237.85,212.02 L238.64,212.18 L239.48,212.36 L240.30,212.53 L241.11,212.70 L241.93,212.86 L242.75,213.03 L243.56,213.20 L244.38,213.36 L245.19,213.52 L246.01,213.68 L246.82,213.84 L247.64,214.00 L248.46,214.16 L249.27,214.32 L250.09,214.48 L250.90,214.63 L251.72,214.79 L252.53,214.94 L253.35,215.09 L254.17,215.24 L254.98,215.39 L255.80,215.54 L256.61,215.69 L257.43,215.84 L258.24,215.99 L259.06,216.13 L259.88,216.28 L260.69,216.42 L261.51,216.57 L262.32,216.71 L263.14,216.85 L263.95,216.99 L264.77,217.13 L265.59,217.27 L266.38,217.40 L267.22,217.55 L268.03,217.68 L268.85,217.82 L269.66,217.95 L270.48,218.09 L271.27,218.22 L272.11,218.35 L272.93,218.48 L273.74,218.61 L274.56,218.74 L275.37,218.87 L276.19,219.00 L277.01,219.13 L277.82,219.26 L278.64,219.38 L279.45,219.51 L280.27,219.64 L281.08,219.76 L281.90,219.88 L282.72,220.01 L283.53,220.13 L284.35,220.25 L285.16,220.37 L285.98,220.49 L286.79,220.61 L287.61,220.73 L288.43,220.85 L289.24,220.96 L290.06,221.08 L290.87,221.20 L291.69,221.31 L292.50,221.43 L293.32,221.54 L294.14,221.65 L294.95,221.77 L295.77,221.88 L296.00,221.91" fill="none" stroke="#fff" stroke-width="1" stroke-opacity="0.92"/><path d="M96.89,18.00 L97.20,18.75 L97.51,19.51 L97.84,20.29 L98.19,21.13 L98.54,21.94 L98.88,22.76 L99.23,23.57 L99.58,24.38 L99.93,25.19 L100.29,26.00 L100.64,26.81 L100.99,27.60 L101.34,28.38 L101.68,29.14 L102.04,29.93 L102.39,30.70 L102.73,31.46 L103.09,32.23 L103.43,32.96 L103.79,33.73 L104.13,34.47 L104.48,35.21 L104.83,35.95 L105.18,36.68 L105.53,37.40 L105.88,38.12 L106.25,38.88 L106.64,39.67 L107.00,40.39 L107.40,41.19 L107.81,42.00 L108.21,42.81 L108.62,43.61 L108.99,44.33 L109.38,45.08 L109.77,45.84 L110.19,46.65 L110.60,47.42 L111.00,48.16 L111.42,48.95 L111.81,49.67 L112.23,50.45 L112.63,51.18 L113.05,51.94 L113.46,52.68 L113.85,53.38 L114.27,54.13 L114.68,54.85 L115.09,55.57 L115.50,56.28 L115.90,56.98 L116.30,57.67 L116.71,58.37 L117.12,59.06 L117.54,59.76 L117.95,60.46 L118.37,61.15 L118.79,61.85 L119.22,62.54 L119.65,63.24 L120.08,63.94 L120.51,64.63 L120.95,65.33 L121.38,66.01 L121.83,66.72 L122.28,67.42 L122.72,68.10 L123.18,68.81 L123.63,69.50 L124.09,70.20 L124.56,70.90 L125.02,71.59 L125.49,72.29 L125.96,72.98 L126.44,73.68 L126.92,74.37 L127.38,75.04 L127.85,75.71 L128.31,76.37 L128.78,77.03 L129.25,77.68 L129.77,78.41 L130.30,79.13 L130.80,79.83 L131.29,80.48 L131.81,81.19 L132.33,81.89 L132.86,82.59 L133.38,83.28 L133.91,83.96 L134.43,84.64 L134.93,85.28 L135.42,85.91 L135.93,86.56 L136.47,87.24 L137.00,87.90 L137.51,88.53 L138.04,89.19 L138.57,89.83 L139.09,90.47 L139.62,91.10 L140.14,91.73 L140.67,92.35 L141.19,92.97 L141.72,93.58 L142.24,94.19 L142.76,94.80 L143.35,95.46 L143.88,96.07 L144.45,96.72 L145.01,97.34 L145.56,97.95 L146.14,98.59 L146.70,99.20 L147.25,99.80 L147.83,100.43 L148.42,101.05 L148.97,101.64 L149.52,102.22 L150.11,102.83 L150.69,103.44 L151.27,104.04 L151.85,104.63 L152.44,105.22 L153.02,105.81 L153.60,106.39 L154.18,106.97 L154.77,107.55 L155.35,108.12 L155.93,108.68 L156.51,109.24 L157.10,109.80 L157.68,110.36 L158.26,110.90 L158.89,111.50 L159.49,112.05 L160.13,112.64 L160.77,113.22 L161.41,113.81 L162.05,114.38 L162.69,114.96 L163.33,115.52 L163.97,116.09 L164.61,116.65 L165.23,117.18 L165.84,117.70 L166.48,118.25 L167.12,118.80 L167.76,119.34 L168.40,119.87 L169.04,120.40 L169.68,120.93 L170.32,121.45 L170.96,121.97 L171.61,122.49 L172.25,123.00 L172.89,123.51 L173.53,124.01 L174.17,124.52 L174.81,125.01 L175.45,125.51 L176.09,126.00 L176.73,126.48 L177.37,126.97 L178.01,127.45 L178.71,127.97 L179.41,128.48 L180.11,129.00 L180.77,129.48 L181.45,129.97 L182.15,130.47 L182.85,130.96 L183.54,131.45 L184.20,131.91 L184.87,132.38 L185.53,132.84 L186.21,133.30 L186.90,133.77 L187.57,134.22 L188.27,134.69 L188.97,135.16 L189.67,135.62 L190.37,136.08 L191.07,136.54 L191.76,136.99 L192.46,137.44 L193.16,137.88 L193.86,138.33 L194.54,138.76 L195.26,139.20 L195.96,139.64 L196.66,140.07 L197.36,140.50 L198.06,140.92 L198.76,141.34 L199.46,141.76 L200.15,142.18 L200.85,142.59 L201.55,143.00 L202.25,143.41 L202.95,143.81 L203.65,144.22 L204.35,144.62 L205.05,145.01 L205.75,145.41 L206.45,145.80 L207.15,146.19 L207.90,146.61 L208.61,146.99 L209.36,147.40 L210.10,147.80 L210.82,148.19 L211.57,148.59 L212.33,148.99 L213.09,149.39 L213.83,149.78 L214.55,150.15 L215.30,150.54 L216.06,150.93 L216.82,151.31 L217.58,151.70 L218.33,152.08 L219.07,152.44 L219.79,152.80 L220.55,153.17 L221.30,153.54 L222.06,153.91 L222.82,154.27 L223.58,154.64 L224.33,155.00 L225.07,155.34 L225.81,155.69 L226.55,156.04 L227.31,156.39 L228.06,156.73 L228.82,157.08 L229.58,157.43 L230.34,157.77 L231.09,158.11 L231.85,158.44 L232.61,158.78 L233.37,159.11 L234.12,159.44 L234.88,159.77 L235.64,160.10 L236.40,160.42 L237.15,160.75 L237.91,161.07 L238.67,161.39 L239.43,161.70 L240.18,162.02 L240.94,162.33 L241.70,162.64 L242.45,162.95 L243.21,163.26 L243.97,163.56 L244.73,163.87 L245.48,164.17 L246.24,164.47 L247.00,164.76 L247.76,165.06 L248.51,165.36 L249.27,165.65 L250.03,165.94 L250.79,166.23 L251.54,166.51 L252.30,166.80 L253.06,167.08 L253.82,167.37 L254.57,167.65 L255.33,167.93 L256.09,168.20 L256.85,168.48 L257.60,168.75 L258.36,169.03 L259.12,169.30 L259.88,169.57 L260.63,169.83 L261.39,170.10 L262.15,170.36 L262.91,170.63 L263.66,170.89 L264.42,171.15 L265.18,171.41 L265.99,171.69 L266.81,171.96 L267.63,172.24 L268.44,172.51 L269.26,172.78 L270.07,173.05 L270.89,173.31 L271.70,173.58 L272.52,173.84 L273.34,174.11 L274.15,174.37 L274.97,174.63 L275.78,174.89 L276.60,175.14 L277.41,175.40 L278.21,175.64 L278.99,175.88 L279.80,176.14 L280.62,176.38 L281.43,176.63 L282.25,176.88 L283.07,177.12 L283.88,177.37 L284.70,177.61 L285.50,177.85 L286.27,178.07 L287.09,178.31 L287.88,178.54 L288.66,178.77 L289.47,179.00 L290.29,179.24 L291.11,179.47 L291.92,179.70 L292.74,179.93 L293.55,180.16 L294.37,180.38 L295.18,180.61 L296.00,180.83" fill="none" stroke="#fff" stroke-width="1" stroke-opacity="0.92"/><path d="M147.12,18.00 L147.55,18.70 L147.99,19.39 L148.42,20.08 L148.86,20.78 L149.29,21.47 L149.74,22.18 L150.18,22.87 L150.63,23.57 L151.08,24.26 L151.53,24.96 L151.97,25.63 L152.44,26.34 L152.90,27.05 L153.37,27.74 L153.83,28.44 L154.30,29.14 L154.77,29.82 L155.23,30.51 L155.70,31.19 L156.17,31.87 L156.63,32.54 L157.09,33.20 L157.56,33.87 L158.03,34.53 L158.50,35.19 L158.96,35.84 L159.48,36.56 L159.95,37.22 L160.48,37.94 L160.99,38.65 L161.51,39.34 L161.99,40.00 L162.52,40.70 L163.04,41.40 L163.56,42.10 L164.09,42.79 L164.61,43.48 L165.14,44.16 L165.63,44.80 L166.13,45.44 L166.63,46.07 L167.17,46.77 L167.70,47.43 L168.23,48.09 L168.75,48.74 L169.27,49.40 L169.80,50.04 L170.32,50.68 L170.85,51.32 L171.37,51.96 L171.90,52.59 L172.42,53.21 L172.95,53.84 L173.47,54.46 L173.99,55.07 L174.52,55.68 L175.04,56.29 L175.57,56.90 L176.14,57.56 L176.67,58.16 L177.26,58.82 L177.84,59.48 L178.40,60.11 L178.95,60.71 L179.53,61.36 L180.08,61.96 L180.64,62.57 L181.22,63.20 L181.79,63.82 L182.38,64.45 L182.97,65.07 L183.54,65.68 L184.09,66.26 L184.64,66.84 L185.20,67.42 L185.76,68.00 L186.33,68.58 L186.90,69.16 L187.47,69.74 L188.04,70.31 L188.62,70.89 L189.20,71.47 L189.78,72.05 L190.37,72.63 L190.95,73.20 L191.53,73.76 L192.11,74.33 L192.70,74.89 L193.28,75.44 L193.86,76.00 L194.44,76.55 L195.09,77.15 L195.72,77.74 L196.31,78.29 L196.95,78.88 L197.59,79.46 L198.23,80.05 L198.87,80.62 L199.51,81.20 L200.15,81.77 L200.80,82.34 L201.44,82.90 L202.08,83.47 L202.70,84.00 L203.30,84.53 L203.94,85.08 L204.58,85.63 L205.22,86.17 L205.86,86.71 L206.51,87.25 L207.15,87.78 L207.76,88.30 L208.43,88.84 L209.07,89.37 L209.71,89.89 L210.35,90.41 L210.99,90.92 L211.62,91.43 L212.27,91.95 L212.91,92.45 L213.56,92.96 L214.20,93.46 L214.84,93.95 L215.47,94.44 L216.12,94.94 L216.76,95.43 L217.40,95.92 L218.04,96.40 L218.68,96.88 L219.38,97.40 L220.08,97.92 L220.78,98.43 L221.48,98.94 L222.15,99.43 L222.82,99.91 L223.52,100.42 L224.22,100.92 L224.91,101.40 L225.56,101.87 L226.23,102.33 L226.89,102.80 L227.56,103.26 L228.23,103.72 L228.91,104.19 L229.58,104.64 L230.28,105.12 L230.97,105.58 L231.66,106.04 L232.36,106.51 L233.06,106.97 L233.77,107.44 L234.47,107.90 L235.17,108.35 L235.87,108.80 L236.57,109.25 L237.27,109.70 L237.97,110.14 L238.67,110.58 L239.37,111.02 L240.07,111.46 L240.77,111.89 L241.46,112.32 L242.16,112.75 L242.86,113.18 L243.56,113.60 L244.26,114.02 L244.96,114.44 L245.66,114.86 L246.36,115.27 L247.06,115.69 L247.76,116.10 L248.46,116.50 L249.16,116.91 L249.85,117.31 L250.55,117.71 L251.25,118.11 L251.95,118.51 L252.65,118.90 L253.35,119.29 L254.05,119.68 L254.76,120.08 L255.51,120.49 L256.24,120.89 L256.96,121.29 L257.72,121.70 L258.48,122.11 L259.24,122.51 L259.99,122.91 L260.75,123.32 L261.51,123.72 L262.26,124.11 L262.99,124.49 L263.72,124.87 L264.48,125.26 L265.24,125.65 L265.99,126.03 L266.75,126.42 L267.51,126.80 L268.27,127.18 L269.02,127.56 L269.78,127.93 L270.54,128.30 L271.27,128.66 L271.99,129.02 L272.75,129.38 L273.51,129.75 L274.27,130.11 L275.02,130.47 L275.78,130.83 L276.54,131.19 L277.30,131.55 L278.05,131.90 L278.81,132.25 L279.57,132.60 L280.33,132.95 L281.08,133.29 L281.84,133.64 L282.60,133.98 L283.36,134.32 L284.11,134.66 L284.87,135.00 L285.63,135.33 L286.39,135.67 L287.14,136.00 L287.88,136.32 L288.66,136.66 L289.42,136.98 L290.17,137.31 L290.93,137.63 L291.67,137.94 L292.45,138.27 L293.20,138.59 L293.96,138.91 L294.71,139.22 L295.48,139.54 L296.00,139.75" fill="none" stroke="#fff" stroke-width="1" stroke-opacity="0.92"/><path d="M197.36,18.00 L197.88,18.64 L198.41,19.27 L198.93,19.91 L199.46,20.53 L199.98,21.16 L200.50,21.78 L201.03,22.40 L201.55,23.01 L202.08,23.62 L202.60,24.23 L203.13,24.84 L203.71,25.51 L204.24,26.12 L204.82,26.77 L205.37,27.40 L205.92,28.02 L206.51,28.67 L207.09,29.32 L207.66,29.95 L208.25,30.60 L208.82,31.22 L209.42,31.87 L210.00,32.50 L210.58,33.13 L211.17,33.76 L211.73,34.36 L212.33,34.99 L212.91,35.61 L213.49,36.21 L214.05,36.79 L214.60,37.37 L215.17,37.95 L215.74,38.53 L216.30,39.11 L216.88,39.69 L217.45,40.27 L218.03,40.85 L218.61,41.43 L219.19,42.01 L219.78,42.59 L220.37,43.17 L220.96,43.75 L221.54,44.32 L222.12,44.88 L222.70,45.44 L223.29,46.00 L223.87,46.56 L224.45,47.11 L225.03,47.66 L225.67,48.26 L226.31,48.86 L226.90,49.40 L227.54,50.00 L228.18,50.58 L228.82,51.17 L229.46,51.75 L230.10,52.33 L230.74,52.91 L231.38,53.48 L232.03,54.05 L232.67,54.62 L233.31,55.18 L233.95,55.74 L234.57,56.28 L235.17,56.81 L235.81,57.36 L236.45,57.90 L237.09,58.45 L237.74,59.00 L238.37,59.53 L239.02,60.07 L239.66,60.61 L240.30,61.14 L240.94,61.67 L241.58,62.20 L242.22,62.72 L242.86,63.24 L243.50,63.76 L244.14,64.27 L244.79,64.79 L245.43,65.30 L246.07,65.80 L246.71,66.31 L247.35,66.81 L247.99,67.31 L248.63,67.81 L249.27,68.30 L249.91,68.80 L250.55,69.29 L251.19,69.77 L251.84,70.26 L252.48,70.74 L253.12,71.22 L253.77,71.71 L254.46,72.22 L255.16,72.73 L255.82,73.22 L256.50,73.71 L257.20,74.22 L257.89,74.72 L258.59,75.23 L259.29,75.73 L259.99,76.22 L260.66,76.70 L261.32,77.16 L261.99,77.62 L262.65,78.09 L263.31,78.55 L263.99,79.02 L264.67,79.48 L265.35,79.94 L266.03,80.41 L266.72,80.87 L267.39,81.32 L268.09,81.79 L268.79,82.26 L269.49,82.72 L270.19,83.18 L270.89,83.64 L271.59,84.09 L272.29,84.55 L272.99,85.00 L273.68,85.45 L274.38,85.89 L275.06,86.32 L275.78,86.78 L276.48,87.22 L277.18,87.66 L277.88,88.09 L278.58,88.53 L279.28,88.96 L279.98,89.39 L280.66,89.80 L281.38,90.24 L282.07,90.66 L282.77,91.08 L283.47,91.50 L284.17,91.92 L284.87,92.33 L285.57,92.74 L286.27,93.16 L286.97,93.56 L287.67,93.97 L288.37,94.38 L289.07,94.78 L289.77,95.18 L290.46,95.58 L291.16,95.98 L291.86,96.37 L292.56,96.76 L293.26,97.16 L293.96,97.55 L294.72,97.97 L295.48,98.38 L296.00,98.67" fill="none" stroke="#fff" stroke-width="1" stroke-opacity="0.92"/><path d="M247.59,18.00 L248.16,18.56 L248.75,19.13 L249.33,19.69 L249.91,20.25 L250.50,20.80 L251.08,21.36 L251.66,21.91 L252.24,22.46 L252.88,23.06 L253.53,23.66 L254.17,24.25 L254.81,24.84 L255.44,25.42 L256.03,25.97 L256.67,26.55 L257.31,27.13 L257.95,27.71 L258.59,28.28 L259.24,28.86 L259.88,29.43 L260.52,29.99 L261.12,30.53 L261.74,31.07 L262.38,31.63 L262.99,32.15 L263.60,32.69 L264.25,33.24 L264.87,33.78 L265.53,34.33 L266.17,34.88 L266.79,35.40 L267.45,35.95 L268.09,36.49 L268.73,37.02 L269.37,37.55 L270.00,38.07 L270.65,38.61 L271.30,39.13 L271.94,39.65 L272.56,40.16 L273.22,40.69 L273.86,41.20 L274.50,41.71 L275.14,42.22 L275.78,42.73 L276.42,43.23 L277.06,43.73 L277.70,44.23 L278.35,44.73 L278.99,45.22 L279.63,45.72 L280.27,46.21 L280.91,46.70 L281.55,47.18 L282.19,47.67 L282.83,48.15 L283.47,48.63 L284.17,49.15 L284.87,49.67 L285.57,50.18 L286.27,50.70 L286.93,51.18 L287.61,51.67 L288.31,52.18 L289.01,52.68 L289.71,53.18 L290.41,53.68 L291.11,54.18 L291.78,54.66 L292.44,55.12 L293.10,55.58 L293.77,56.05 L294.43,56.51 L295.11,56.98 L295.77,57.43 L296.00,57.59" fill="none" stroke="#fff" stroke-width="1" stroke-opacity="0.92"/><text x="274.8" y="35.5" font-size="10.75" text-anchor="middle" dominant-baseline="central" fill="#161616" stroke="#161616" stroke-width="0.18" transform="rotate(37 274.8 35.5)">US$2.0 T</text><text x="256.1" y="63.9" font-size="10.25" text-anchor="middle" dominant-baseline="central" fill="#161616" stroke="#161616" stroke-width="0.18" transform="rotate(35 256.1 63.9)">US$1.6 T</text><text x="224.4" y="90.7" font-size="10.25" text-anchor="middle" dominant-baseline="central" fill="#161616" stroke="#161616" stroke-width="0.18" transform="rotate(30 224.4 90.7)">US$1.2 T</text><text x="203.0" y="132.8" font-size="11" text-anchor="middle" dominant-baseline="central" fill="#161616" stroke="#161616" stroke-width="0.18" transform="rotate(26 203.0 132.8)">US$$0.8 T</text><text x="162.0" y="180.8" font-size="10.75" text-anchor="middle" dominant-baseline="central" fill="#161616" stroke="#161616" stroke-width="0.18" transform="rotate(25 162.0 180.8)">US$0.4 T</text><text x="137.2" y="212.8" font-size="12.5" text-anchor="middle" dominant-baseline="central" fill="#161616" stroke="#161616" stroke-width="0.18" transform="rotate(20 137.2 212.8)">US$0.2 T</text><rect x="63.5" y="18.5" width="232" height="231" fill="none" stroke="#000" stroke-opacity="0.6" stroke-width="1"/><line x1="58" y1="249.5" x2="63" y2="249.5" stroke="#4d4d4d" stroke-width="1"/><text x="53" y="249.2" font-size="11" letter-spacing="0.45" text-anchor="end" dominant-baseline="central" fill="#1a1a1a">0</text><line x1="58" y1="203.5" x2="63" y2="203.5" stroke="#4d4d4d" stroke-width="1"/><text x="53" y="202.8" font-size="11" letter-spacing="0.45" text-anchor="end" dominant-baseline="central" fill="#1a1a1a">200</text><line x1="58" y1="157.5" x2="63" y2="157.5" stroke="#4d4d4d" stroke-width="1"/><text x="53" y="156.4" font-size="11" letter-spacing="0.45" text-anchor="end" dominant-baseline="central" fill="#1a1a1a">400</text><line x1="58" y1="110.5" x2="63" y2="110.5" stroke="#4d4d4d" stroke-width="1"/><text x="53" y="110.0" font-size="11" letter-spacing="0.45" text-anchor="end" dominant-baseline="central" fill="#1a1a1a">600</text><line x1="58" y1="64.5" x2="63" y2="64.5" stroke="#4d4d4d" stroke-width="1"/><text x="53" y="63.6" font-size="11" letter-spacing="0.45" text-anchor="end" dominant-baseline="central" fill="#1a1a1a">800</text><line x1="58" y1="18.5" x2="63" y2="18.5" stroke="#4d4d4d" stroke-width="1"/><text x="53" y="17.2" font-size="11" letter-spacing="0.45" text-anchor="end" dominant-baseline="central" fill="#1a1a1a">1,000</text><line x1="63.5" y1="250" x2="63.5" y2="255" stroke="#4d4d4d" stroke-width="1"/><text x="63.2" y="269" font-size="11" letter-spacing="0.35" text-anchor="middle" fill="#1a1a1a">0.2</text><line x1="129.5" y1="250" x2="129.5" y2="255" stroke="#4d4d4d" stroke-width="1"/><text x="129.8" y="269" font-size="11" letter-spacing="0.35" text-anchor="middle" fill="#1a1a1a">0.4</text><line x1="196.5" y1="250" x2="196.5" y2="255" stroke="#4d4d4d" stroke-width="1"/><text x="196.3" y="269" font-size="11" letter-spacing="0.35" text-anchor="middle" fill="#1a1a1a">0.6</text><line x1="262.5" y1="250" x2="262.5" y2="255" stroke="#4d4d4d" stroke-width="1"/><text x="262.9" y="269" font-size="11" letter-spacing="0.35" text-anchor="middle" fill="#1a1a1a">0.8</text><text x="179.5" y="288.3" font-size="13" text-anchor="middle" fill="#1a1a1a">Capacity factor (%)</text><text x="10.7" y="134.0" font-size="13" text-anchor="middle" fill="#1a1a1a" transform="rotate(-90 10.7 134.0)">Carbon price (US$ per tCO<tspan font-size="9.5" dy="3.6">2</tspan><tspan dy="-3.6">)</tspan></text><path d="M379.00,144.02 L379.41,144.74 L379.82,145.46 L380.22,146.16 L380.63,146.86 L381.04,147.55 L381.47,148.27 L381.89,148.96 L382.31,149.66 L382.75,150.36 L383.18,151.05 L383.63,151.75 L384.07,152.44 L384.53,153.14 L384.99,153.84 L385.45,154.53 L385.93,155.23 L386.40,155.92 L386.87,156.59 L387.33,157.25 L387.80,157.91 L388.29,158.59 L388.79,159.27 L389.31,159.98 L389.84,160.67 L390.36,161.36 L390.89,162.04 L391.41,162.71 L391.91,163.35 L392.46,164.03 L392.98,164.67 L393.51,165.31 L394.03,165.93 L394.56,166.55 L395.08,167.17 L395.66,167.84 L396.21,168.45 L396.77,169.09 L397.35,169.73 L397.94,170.37 L398.52,170.99 L399.08,171.58 L399.63,172.16 L400.19,172.74 L400.76,173.32 L401.33,173.90 L401.92,174.48 L402.51,175.06 L403.10,175.64 L403.70,176.22 L404.29,176.77 L404.93,177.37 L405.57,177.96 L406.21,178.54 L406.85,179.11 L407.49,179.68 L408.13,180.23 L408.77,180.78 L409.41,181.33 L410.06,181.86 L410.70,182.39 L411.34,182.91 L411.98,183.43 L412.62,183.94 L413.26,184.44 L413.90,184.94 L414.54,185.43 L415.18,185.91 L415.88,186.43 L416.58,186.95 L417.28,187.45 L417.96,187.94 L418.62,188.40 L419.28,188.87 L419.95,189.33 L420.64,189.80 L421.30,190.24 L422.00,190.71 L422.70,191.17 L423.40,191.62 L424.10,192.06 L424.80,192.51 L425.50,192.94 L426.19,193.37 L426.89,193.80 L427.59,194.22 L428.29,194.63 L428.99,195.04 L429.69,195.45 L430.39,195.85 L431.09,196.24 L431.79,196.64 L432.55,197.05 L433.28,197.45 L434.00,197.84 L434.76,198.25 L435.52,198.65 L436.27,199.04 L437.02,199.42 L437.79,199.81 L438.55,200.19 L439.30,200.57 L440.05,200.93 L440.82,201.30 L441.58,201.66 L442.33,202.02 L443.09,202.38 L443.85,202.72 L444.61,203.07 L445.36,203.41 L446.12,203.75 L446.88,204.08 L447.63,204.41 L448.39,204.74 L449.15,205.06 L449.91,205.38 L450.67,205.70 L451.42,206.01 L452.18,206.32 L452.94,206.62 L453.70,206.93 L454.45,207.22 L455.21,207.52 L455.97,207.81 L456.72,208.10 L457.48,208.39 L458.24,208.67 L459.00,208.95 L459.75,209.23 L460.51,209.51 L461.27,209.78 L462.03,210.05 L462.78,210.32 L463.54,210.58 L464.30,210.84 L465.06,211.10 L465.86,211.37 L466.63,211.63 L467.45,211.90 L468.26,212.17 L469.03,212.42 L469.83,212.67 L470.65,212.93 L471.47,213.19 L472.28,213.44 L473.08,213.69 L473.85,213.93 L474.67,214.17 L475.49,214.42 L476.30,214.66 L477.12,214.90 L477.93,215.14 L478.75,215.37 L479.56,215.60 L480.38,215.83 L481.20,216.06 L482.01,216.29 L482.83,216.51 L483.64,216.73 L484.46,216.95 L485.27,217.17 L486.09,217.38 L486.91,217.60 L487.72,217.81 L488.54,218.02 L489.32,218.22 L490.11,218.42 L490.93,218.62 L491.74,218.82 L492.56,219.02 L493.37,219.22 L494.19,219.42 L494.99,219.61 L495.82,219.80 L496.64,220.00 L497.45,220.18 L498.27,220.37 L499.08,220.56 L499.90,220.74 L500.71,220.93 L501.53,221.11 L502.35,221.29 L503.15,221.46 L503.98,221.64 L504.76,221.81 L505.55,221.98 L506.37,222.15 L507.18,222.32 L508.00,222.49 L508.81,222.66 L509.63,222.83 L510.44,222.99 L511.26,223.16 L512.07,223.32 L512.89,223.48 L513.71,223.64 L514.52,223.80 L515.34,223.96 L516.15,224.11 L516.97,224.27 L517.79,224.42 L518.60,224.58 L519.42,224.73 L520.23,224.88 L521.05,225.03 L521.86,225.17 L522.68,225.32 L523.50,225.47 L524.31,225.61 L525.13,225.75 L525.94,225.90 L526.76,226.04 L527.57,226.18 L528.39,226.32 L529.19,226.45 L530.02,226.59 L530.84,226.73 L531.65,226.86 L532.47,227.00 L533.28,227.13 L534.10,227.26 L534.92,227.39 L535.73,227.52 L536.55,227.65 L537.36,227.78 L538.18,227.91 L538.99,228.03 L539.81,228.16 L540.63,228.28 L541.44,228.41 L542.26,228.53 L543.07,228.65 L543.88,228.77 L544.70,228.89 L545.52,229.01 L546.34,229.13 L547.15,229.25 L547.97,229.37 L548.78,229.48 L549.60,229.60 L550.41,229.71 L551.23,229.83 L552.05,229.94 L552.85,230.05 L553.68,230.16 L554.49,230.27 L555.31,230.38 L556.12,230.49 L556.94,230.60 L557.76,230.71 L558.57,230.81 L559.39,230.92 L560.20,231.03 L561.02,231.13 L561.83,231.24 L562.65,231.34 L563.45,231.44 L564.28,231.54 L565.10,231.65 L565.91,231.75 L566.73,231.85 L567.54,231.95 L568.36,232.05 L569.18,232.14 L569.99,232.24 L570.81,232.34 L571.62,232.43 L572.44,232.53 L573.25,232.63 L574.07,232.72 L574.89,232.81 L575.70,232.91 L576.52,233.00 L577.33,233.09 L578.15,233.19 L578.96,233.28 L579.78,233.37 L580.60,233.46 L581.41,233.55 L582.23,233.64 L583.04,233.72 L583.86,233.81 L584.67,233.90 L585.49,233.99 L586.31,234.07 L587.12,234.16 L587.94,234.24 L588.75,234.33 L589.57,234.41 L590.38,234.50 L591.20,234.58 L592.02,234.66 L592.83,234.75 L593.65,234.83 L594.46,234.91 L595.28,234.99 L596.09,235.07 L596.91,235.15 L597.73,235.23 L598.54,235.31 L599.36,235.39 L600.17,235.47 L600.99,235.54 L601.80,235.62 L602.62,235.70 L603.44,235.78 L604.25,235.85 L605.07,235.93 L605.88,236.00 L606.70,236.08 L607.51,236.15 L608.33,236.23 L609.15,236.30 L609.96,236.37 L610.78,236.44 L611.59,236.52 L612.00,236.55" fill="none" stroke="#fff" stroke-width="1" stroke-opacity="0.92"/><path d="M379.00,25.04 L379.23,25.87 L379.47,26.70 L379.70,27.51 L379.93,28.32 L380.17,29.14 L380.40,29.94 L380.63,30.74 L380.86,31.53 L381.10,32.31 L381.33,33.08 L381.56,33.87 L381.80,34.64 L382.06,35.52 L382.31,36.33 L382.55,37.10 L382.82,37.95 L383.07,38.76 L383.33,39.58 L383.59,40.39 L383.84,41.16 L384.11,42.01 L384.36,42.78 L384.64,43.64 L384.91,44.45 L385.18,45.24 L385.45,46.07 L385.73,46.88 L385.99,47.66 L386.28,48.51 L386.56,49.32 L386.85,50.13 L387.13,50.94 L387.42,51.76 L387.71,52.57 L388.00,53.38 L388.29,54.19 L388.59,55.00 L388.89,55.82 L389.19,56.63 L389.49,57.43 L389.78,58.20 L390.07,58.97 L390.36,59.73 L390.65,60.49 L390.94,61.24 L391.24,61.99 L391.55,62.78 L391.87,63.59 L392.17,64.34 L392.47,65.10 L392.80,65.91 L393.14,66.72 L393.45,67.48 L393.76,68.23 L394.09,69.01 L394.44,69.84 L394.79,70.66 L395.14,71.47 L395.49,72.28 L395.84,73.08 L396.19,73.87 L396.52,74.61 L396.88,75.42 L397.24,76.21 L397.59,76.98 L397.94,77.74 L398.29,78.49 L398.64,79.24 L398.98,79.98 L399.33,80.72 L399.68,81.45 L400.03,82.17 L400.42,82.96 L400.79,83.72 L401.16,84.47 L401.55,85.25 L401.92,85.98 L402.31,86.75 L402.68,87.48 L403.06,88.22 L403.47,88.99 L403.88,89.78 L404.26,90.50 L404.69,91.31 L405.10,92.06 L405.51,92.81 L405.90,93.52 L406.33,94.29 L406.73,95.02 L407.13,95.72 L407.52,96.42 L407.92,97.11 L408.33,97.81 L408.73,98.50 L409.14,99.20 L409.55,99.90 L409.97,100.59 L410.39,101.29 L410.81,101.98 L411.24,102.68 L411.67,103.38 L412.09,104.05 L412.54,104.77 L412.99,105.46 L413.43,106.16 L413.88,106.86 L414.34,107.55 L414.79,108.25 L415.24,108.92 L415.71,109.61 L416.17,110.30 L416.64,110.99 L417.11,111.66 L417.57,112.33 L418.04,113.00 L418.50,113.66 L418.97,114.31 L419.45,114.98 L419.95,115.67 L420.46,116.37 L420.95,117.03 L421.47,117.73 L422.00,118.42 L422.52,119.11 L423.05,119.79 L423.54,120.43 L424.04,121.06 L424.54,121.70 L425.09,122.39 L425.61,123.04 L426.13,123.68 L426.66,124.32 L427.18,124.95 L427.71,125.58 L428.23,126.21 L428.76,126.82 L429.28,127.43 L429.81,128.04 L430.35,128.66 L430.91,129.30 L431.48,129.94 L432.02,130.54 L432.60,131.18 L433.17,131.80 L433.77,132.45 L434.35,133.07 L434.90,133.65 L435.45,134.23 L436.01,134.81 L436.57,135.39 L437.14,135.97 L437.71,136.55 L438.29,137.13 L438.87,137.71 L439.46,138.29 L440.05,138.87 L440.64,139.45 L441.23,140.00 L441.81,140.56 L442.39,141.11 L442.98,141.66 L443.61,142.24 L444.20,142.78 L444.84,143.36 L445.48,143.94 L446.12,144.51 L446.76,145.07 L447.37,145.60 L447.99,146.14 L448.63,146.69 L449.26,147.22 L449.91,147.77 L450.55,148.31 L451.19,148.83 L451.83,149.36 L452.47,149.88 L453.11,150.40 L453.75,150.91 L454.39,151.41 L455.04,151.91 L455.68,152.41 L456.32,152.90 L456.96,153.39 L457.60,153.87 L458.24,154.35 L458.94,154.87 L459.64,155.39 L460.34,155.89 L461.02,156.39 L461.68,156.86 L462.38,157.35 L463.08,157.84 L463.77,158.33 L464.47,158.81 L465.17,159.29 L465.86,159.75 L466.56,160.22 L467.25,160.68 L467.96,161.14 L468.67,161.61 L469.37,162.06 L470.07,162.51 L470.77,162.95 L471.47,163.39 L472.17,163.83 L472.86,164.26 L473.56,164.69 L474.26,165.11 L474.96,165.53 L475.66,165.95 L476.36,166.36 L477.06,166.77 L477.75,167.18 L478.46,167.58 L479.16,167.98 L479.86,168.38 L480.56,168.77 L481.25,169.16 L482.01,169.58 L482.77,170.00 L483.53,170.41 L484.28,170.82 L485.04,171.22 L485.80,171.62 L486.56,172.02 L487.28,172.40 L488.01,172.78 L488.77,173.16 L489.53,173.55 L490.29,173.93 L491.04,174.31 L491.80,174.68 L492.56,175.05 L493.30,175.41 L494.02,175.76 L494.75,176.11 L495.47,176.45 L496.22,176.80 L496.96,177.15 L497.72,177.50 L498.47,177.85 L499.24,178.20 L500.01,178.54 L500.77,178.89 L501.53,179.22 L502.29,179.56 L503.05,179.89 L503.80,180.22 L504.56,180.55 L505.31,180.86 L506.08,181.19 L506.83,181.51 L507.59,181.83 L508.35,182.14 L509.10,182.45 L509.86,182.76 L510.62,183.07 L511.38,183.37 L512.13,183.67 L512.89,183.97 L513.65,184.27 L514.41,184.56 L515.16,184.86 L515.92,185.15 L516.68,185.44 L517.44,185.72 L518.19,186.01 L518.95,186.29 L519.71,186.57 L520.47,186.85 L521.22,187.13 L521.98,187.40 L522.74,187.67 L523.50,187.94 L524.25,188.21 L525.01,188.48 L525.77,188.74 L526.53,189.00 L527.28,189.27 L528.04,189.52 L528.84,189.80 L529.61,190.06 L530.43,190.33 L531.25,190.60 L532.06,190.87 L532.88,191.14 L533.69,191.40 L534.47,191.65 L535.27,191.91 L536.08,192.17 L536.90,192.42 L537.71,192.68 L538.52,192.93 L539.29,193.17 L540.10,193.42 L540.92,193.66 L541.73,193.91 L542.55,194.16 L543.36,194.40 L544.18,194.64 L545.00,194.88 L545.81,195.12 L546.63,195.35 L547.44,195.59 L548.26,195.82 L549.07,196.05 L549.89,196.28 L550.71,196.51 L551.52,196.74 L552.34,196.96 L553.15,197.19 L553.97,197.41 L554.78,197.63 L555.60,197.85 L556.42,198.07 L557.23,198.28 L558.03,198.50 L558.86,198.71 L559.68,198.92 L560.49,199.14 L561.31,199.34 L562.13,199.55 L562.94,199.76 L563.76,199.96 L564.57,200.17 L565.39,200.37 L566.20,200.57 L567.02,200.77 L567.84,200.97 L568.63,201.16 L569.47,201.36 L570.28,201.56 L571.10,201.75 L571.91,201.95 L572.73,202.14 L573.53,202.32 L574.36,202.52 L575.18,202.70 L575.99,202.89 L576.81,203.08 L577.62,203.26 L578.44,203.44 L579.26,203.63 L580.07,203.81 L580.89,203.99 L581.70,204.16 L582.52,204.34 L583.33,204.52 L584.15,204.69 L584.97,204.87 L585.78,205.04 L586.60,205.22 L587.41,205.39 L588.23,205.56 L589.04,205.73 L589.86,205.89 L590.68,206.06 L591.49,206.23 L592.31,206.39 L593.12,206.56 L593.94,206.72 L594.75,206.88 L595.57,207.05 L596.39,207.21 L597.20,207.37 L598.02,207.53 L598.83,207.68 L599.65,207.84 L600.46,208.00 L601.28,208.15 L602.10,208.31 L602.91,208.46 L603.73,208.61 L604.54,208.76 L605.36,208.92 L606.17,209.07 L606.99,209.22 L607.80,209.36 L608.62,209.51 L609.44,209.66 L610.25,209.80 L611.07,209.95 L611.88,210.09 L612.00,210.11" fill="none" stroke="#fff" stroke-width="1" stroke-opacity="0.92"/><path d="M441.74,18.00 L442.16,18.78 L442.54,19.51 L442.97,20.31 L443.36,21.02 L443.79,21.82 L444.18,22.52 L444.61,23.31 L445.01,24.03 L445.42,24.78 L445.83,25.50 L446.24,26.23 L446.64,26.93 L447.03,27.63 L447.43,28.32 L447.83,29.02 L448.24,29.72 L448.64,30.41 L449.05,31.11 L449.46,31.80 L449.88,32.50 L450.30,33.20 L450.71,33.89 L451.13,34.58 L451.56,35.28 L451.99,35.98 L452.41,36.67 L452.85,37.37 L453.28,38.07 L453.72,38.76 L454.16,39.46 L454.60,40.16 L455.04,40.83 L455.49,41.55 L455.95,42.24 L456.40,42.94 L456.84,43.61 L457.31,44.32 L457.77,45.02 L458.24,45.72 L458.71,46.41 L459.17,47.10 L459.64,47.78 L460.10,48.46 L460.57,49.13 L461.04,49.81 L461.50,50.47 L461.97,51.13 L462.43,51.79 L462.90,52.45 L463.37,53.10 L463.89,53.82 L464.41,54.54 L464.92,55.24 L465.41,55.90 L465.93,56.60 L466.46,57.31 L466.98,58.00 L467.50,58.70 L468.03,59.39 L468.55,60.07 L469.08,60.75 L469.57,61.38 L470.07,62.02 L470.57,62.66 L471.12,63.35 L471.64,64.00 L472.14,64.63 L472.69,65.31 L473.21,65.95 L473.74,66.59 L474.26,67.23 L474.79,67.86 L475.31,68.49 L475.84,69.11 L476.36,69.73 L476.88,70.35 L477.41,70.96 L477.93,71.57 L478.46,72.17 L479.04,72.84 L479.57,73.45 L480.15,74.10 L480.71,74.72 L481.25,75.34 L481.84,75.98 L482.38,76.58 L482.94,77.20 L483.53,77.83 L484.09,78.44 L484.69,79.08 L485.27,79.70 L485.83,80.29 L486.39,80.87 L486.94,81.45 L487.50,82.03 L488.06,82.61 L488.63,83.19 L489.20,83.77 L489.78,84.35 L490.34,84.92 L490.93,85.50 L491.51,86.08 L492.09,86.66 L492.67,87.23 L493.26,87.79 L493.84,88.35 L494.42,88.91 L495.00,89.47 L495.59,90.02 L496.17,90.57 L496.81,91.17 L497.45,91.76 L498.09,92.36 L498.73,92.94 L499.36,93.52 L500.01,94.10 L500.65,94.68 L501.30,95.25 L501.94,95.82 L502.58,96.38 L503.22,96.94 L503.86,97.50 L504.49,98.04 L505.14,98.60 L505.78,99.14 L506.40,99.66 L507.07,100.22 L507.71,100.76 L508.35,101.29 L508.99,101.81 L509.62,102.33 L510.27,102.86 L510.91,103.37 L511.55,103.89 L512.19,104.40 L512.83,104.91 L513.47,105.41 L514.12,105.91 L514.76,106.41 L515.40,106.90 L516.04,107.39 L516.68,107.88 L517.32,108.37 L517.96,108.85 L518.60,109.33 L519.30,109.85 L519.96,110.34 L520.64,110.83 L521.34,111.34 L522.03,111.84 L522.74,112.35 L523.44,112.85 L524.14,113.35 L524.80,113.82 L525.47,114.28 L526.13,114.74 L526.80,115.21 L527.48,115.67 L528.16,116.14 L528.84,116.60 L529.53,117.06 L530.20,117.51 L530.90,117.98 L531.59,118.44 L532.29,118.90 L532.99,119.36 L533.69,119.81 L534.39,120.26 L535.09,120.71 L535.79,121.15 L536.48,121.59 L537.19,122.04 L537.89,122.47 L538.59,122.91 L539.29,123.34 L539.98,123.77 L540.68,124.20 L541.38,124.62 L542.08,125.04 L542.78,125.46 L543.48,125.88 L544.18,126.29 L544.88,126.70 L545.58,127.11 L546.28,127.51 L546.98,127.92 L547.68,128.32 L548.38,128.72 L549.07,129.12 L549.77,129.51 L550.47,129.90 L551.17,130.29 L551.93,130.71 L552.63,131.10 L553.39,131.51 L554.12,131.91 L554.84,132.30 L555.60,132.71 L556.36,133.11 L557.11,133.52 L557.87,133.91 L558.63,134.31 L559.37,134.70 L560.09,135.07 L560.84,135.46 L561.60,135.85 L562.36,136.23 L563.12,136.61 L563.87,137.00 L564.61,137.36 L565.33,137.72 L566.09,138.10 L566.84,138.47 L567.60,138.84 L568.36,139.20 L569.11,139.57 L569.84,139.92 L570.57,140.26 L571.30,140.61 L572.03,140.95 L572.78,141.31 L573.53,141.66 L574.28,142.00 L575.04,142.35 L575.80,142.70 L576.56,143.05 L577.33,143.40 L578.09,143.74 L578.85,144.08 L579.60,144.41 L580.36,144.75 L581.12,145.08 L581.88,145.41 L582.63,145.74 L583.37,146.06 L584.15,146.40 L584.91,146.72 L585.66,147.04 L586.42,147.36 L587.18,147.68 L587.94,148.00 L588.69,148.32 L589.45,148.63 L590.21,148.94 L590.97,149.25 L591.72,149.56 L592.48,149.87 L593.24,150.17 L593.99,150.47 L594.75,150.78 L595.51,151.08 L596.27,151.38 L597.03,151.67 L597.78,151.97 L598.54,152.26 L599.30,152.55 L600.06,152.85 L600.81,153.13 L601.57,153.42 L602.33,153.71 L603.09,153.99 L603.84,154.28 L604.60,154.56 L605.36,154.84 L606.12,155.12 L606.87,155.40 L607.63,155.67 L608.39,155.95 L609.15,156.22 L609.90,156.49 L610.66,156.76 L611.42,157.03 L612.00,157.24" fill="none" stroke="#fff" stroke-width="1" stroke-opacity="0.92"/><path d="M506.40,18.00 L506.95,18.69 L507.47,19.35 L507.98,19.97 L508.52,20.65 L509.05,21.30 L509.57,21.94 L510.10,22.58 L510.62,23.21 L511.14,23.85 L511.67,24.48 L512.19,25.10 L512.72,25.73 L513.24,26.35 L513.77,26.96 L514.29,27.57 L514.81,28.18 L515.34,28.79 L515.92,29.46 L516.50,30.13 L517.06,30.76 L517.61,31.39 L518.19,32.04 L518.78,32.69 L519.33,33.31 L519.88,33.92 L520.47,34.56 L521.02,35.17 L521.57,35.77 L522.16,36.40 L522.73,37.02 L523.32,37.66 L523.90,38.28 L524.47,38.88 L525.07,39.51 L525.65,40.12 L526.23,40.73 L526.80,41.32 L527.37,41.90 L527.92,42.47 L528.50,43.06 L529.07,43.64 L529.65,44.22 L530.22,44.80 L530.80,45.38 L531.39,45.96 L531.97,46.54 L532.56,47.12 L533.16,47.70 L533.75,48.27 L534.33,48.84 L534.92,49.40 L535.50,49.96 L536.08,50.51 L536.66,51.06 L537.25,51.61 L537.89,52.21 L538.52,52.80 L539.11,53.35 L539.75,53.94 L540.39,54.53 L541.03,55.12 L541.67,55.70 L542.32,56.27 L542.96,56.85 L543.60,57.42 L544.24,57.99 L544.88,58.55 L545.52,59.12 L546.13,59.64 L546.74,60.18 L547.38,60.73 L548.01,61.27 L548.67,61.83 L549.31,62.38 L549.92,62.89 L550.59,63.46 L551.23,63.99 L551.86,64.52 L552.51,65.05 L553.15,65.58 L553.79,66.10 L554.43,66.63 L555.08,67.14 L555.70,67.65 L556.36,68.17 L557.00,68.68 L557.64,69.19 L558.28,69.70 L558.92,70.20 L559.56,70.70 L560.20,71.20 L560.84,71.69 L561.48,72.18 L562.13,72.67 L562.77,73.16 L563.41,73.65 L564.05,74.13 L564.69,74.61 L565.39,75.13 L566.09,75.65 L566.79,76.16 L567.49,76.67 L568.15,77.16 L568.83,77.65 L569.53,78.15 L570.22,78.65 L570.90,79.13 L571.55,79.60 L572.21,80.06 L572.87,80.52 L573.53,80.99 L574.20,81.45 L574.87,81.92 L575.54,82.38 L576.22,82.84 L576.90,83.31 L577.57,83.76 L578.26,84.23 L578.96,84.70 L579.66,85.16 L580.36,85.63 L581.06,86.09 L581.76,86.55 L582.46,87.01 L583.16,87.46 L583.86,87.91 L584.56,88.36 L585.26,88.81 L585.96,89.26 L586.64,89.69 L587.35,90.14 L588.05,90.58 L588.75,91.01 L589.45,91.45 L590.15,91.88 L590.85,92.31 L591.55,92.74 L592.25,93.16 L592.95,93.59 L593.65,94.01 L594.35,94.43 L595.05,94.84 L595.74,95.26 L596.44,95.67 L597.14,96.08 L597.84,96.49 L598.54,96.90 L599.24,97.30 L599.94,97.71 L600.64,98.11 L601.34,98.50 L602.04,98.90 L602.74,99.30 L603.44,99.69 L604.13,100.08 L604.83,100.47 L605.59,100.89 L606.31,101.29 L607.05,101.69 L607.79,102.10 L608.50,102.49 L609.26,102.90 L610.02,103.30 L610.78,103.71 L611.53,104.11 L612.00,104.36" fill="none" stroke="#fff" stroke-width="1" stroke-opacity="0.92"/><path d="M571.06,18.00 L571.67,18.58 L572.26,19.14 L572.90,19.74 L573.53,20.32 L574.13,20.87 L574.77,21.46 L575.41,22.05 L576.05,22.64 L576.69,23.22 L577.33,23.80 L577.97,24.38 L578.61,24.95 L579.26,25.53 L579.90,26.09 L580.54,26.66 L581.18,27.22 L581.82,27.79 L582.44,28.32 L583.04,28.85 L583.68,29.40 L584.32,29.95 L584.97,30.50 L585.61,31.05 L586.23,31.57 L586.89,32.13 L587.53,32.67 L588.16,33.20 L588.81,33.74 L589.45,34.27 L590.09,34.79 L590.73,35.32 L591.37,35.84 L592.02,36.36 L592.66,36.88 L593.30,37.40 L593.94,37.91 L594.57,38.42 L595.22,38.93 L595.86,39.44 L596.50,39.94 L597.14,40.44 L597.78,40.94 L598.42,41.44 L599.07,41.94 L599.71,42.43 L600.35,42.92 L600.99,43.41 L601.63,43.90 L602.27,44.38 L602.91,44.86 L603.55,45.34 L604.22,45.84 L604.89,46.34 L605.59,46.86 L606.26,47.35 L606.93,47.84 L607.63,48.35 L608.33,48.86 L609.03,49.36 L609.73,49.87 L610.42,50.36 L611.08,50.83 L611.73,51.29 L612.00,51.48" fill="none" stroke="#fff" stroke-width="1" stroke-opacity="0.92"/><text x="586.1" y="45.5" font-size="10.75" text-anchor="middle" dominant-baseline="central" fill="#161616" stroke="#161616" stroke-width="0.18" transform="rotate(41 586.1 45.5)">US$0.8 T</text><text x="568.2" y="66.2" font-size="11" text-anchor="middle" dominant-baseline="central" fill="#161616" stroke="#161616" stroke-width="0.18" transform="rotate(38 568.2 66.2)">US$0.6 T</text><text x="529.1" y="110.3" font-size="10.75" text-anchor="middle" dominant-baseline="central" fill="#161616" stroke="#161616" stroke-width="0.18" transform="rotate(38 529.1 110.3)">US$0.4 T</text><text x="485.8" y="162.0" font-size="10.75" text-anchor="middle" dominant-baseline="central" fill="#161616" stroke="#161616" stroke-width="0.18" transform="rotate(31 485.8 162.0)">US$0.2 T</text><text x="445.8" y="194.9" font-size="10.25" text-anchor="middle" dominant-baseline="central" fill="#161616" stroke="#161616" stroke-width="0.18" transform="rotate(24 445.8 194.9)">US$0.1 T</text><rect x="379.5" y="18.5" width="232" height="231" fill="none" stroke="#000" stroke-opacity="0.6" stroke-width="1"/><line x1="374" y1="249.5" x2="379" y2="249.5" stroke="#4d4d4d" stroke-width="1"/><text x="369" y="249.2" font-size="11" letter-spacing="0.45" text-anchor="end" dominant-baseline="central" fill="#1a1a1a">0</text><line x1="374" y1="203.5" x2="379" y2="203.5" stroke="#4d4d4d" stroke-width="1"/><text x="369" y="202.8" font-size="11" letter-spacing="0.45" text-anchor="end" dominant-baseline="central" fill="#1a1a1a">200</text><line x1="374" y1="157.5" x2="379" y2="157.5" stroke="#4d4d4d" stroke-width="1"/><text x="369" y="156.4" font-size="11" letter-spacing="0.45" text-anchor="end" dominant-baseline="central" fill="#1a1a1a">400</text><line x1="374" y1="110.5" x2="379" y2="110.5" stroke="#4d4d4d" stroke-width="1"/><text x="369" y="110.0" font-size="11" letter-spacing="0.45" text-anchor="end" dominant-baseline="central" fill="#1a1a1a">600</text><line x1="374" y1="64.5" x2="379" y2="64.5" stroke="#4d4d4d" stroke-width="1"/><text x="369" y="63.6" font-size="11" letter-spacing="0.45" text-anchor="end" dominant-baseline="central" fill="#1a1a1a">800</text><line x1="374" y1="18.5" x2="379" y2="18.5" stroke="#4d4d4d" stroke-width="1"/><text x="369" y="17.2" font-size="11" letter-spacing="0.45" text-anchor="end" dominant-baseline="central" fill="#1a1a1a">1,000</text><line x1="379.5" y1="250" x2="379.5" y2="255" stroke="#4d4d4d" stroke-width="1"/><text x="379.2" y="269" font-size="11" letter-spacing="0.35" text-anchor="middle" fill="#1a1a1a">0.2</text><line x1="445.5" y1="250" x2="445.5" y2="255" stroke="#4d4d4d" stroke-width="1"/><text x="445.8" y="269" font-size="11" letter-spacing="0.35" text-anchor="middle" fill="#1a1a1a">0.4</text><line x1="512.5" y1="250" x2="512.5" y2="255" stroke="#4d4d4d" stroke-width="1"/><text x="512.3" y="269" font-size="11" letter-spacing="0.35" text-anchor="middle" fill="#1a1a1a">0.6</text><line x1="578.5" y1="250" x2="578.5" y2="255" stroke="#4d4d4d" stroke-width="1"/><text x="578.9" y="269" font-size="11" letter-spacing="0.35" text-anchor="middle" fill="#1a1a1a">0.8</text><text x="495.5" y="288.3" font-size="13" text-anchor="middle" fill="#1a1a1a">Capacity factor (%)</text><text x="326.7" y="134.0" font-size="13" text-anchor="middle" fill="#1a1a1a" transform="rotate(-90 326.7 134.0)">Carbon price (US$ per tCO<tspan font-size="9.5" dy="3.6">2</tspan><tspan dy="-3.6">)</tspan></text><path d="M84.83,319.00 L84.88,319.81 L84.93,320.62 L84.98,321.44 L85.04,322.25 L85.09,323.06 L85.14,323.87 L85.20,324.68 L85.25,325.50 L85.30,326.31 L85.36,327.12 L85.41,327.93 L85.47,328.74 L85.52,329.56 L85.58,330.37 L85.63,331.18 L85.69,331.99 L85.75,332.80 L85.80,333.62 L85.86,334.43 L85.92,335.24 L85.98,336.05 L86.03,336.86 L86.09,337.68 L86.15,338.49 L86.21,339.30 L86.27,340.11 L86.33,340.92 L86.39,341.74 L86.45,342.55 L86.51,343.36 L86.58,344.17 L86.64,344.98 L86.70,345.80 L86.76,346.61 L86.83,347.42 L86.89,348.23 L86.96,349.04 L87.02,349.86 L87.09,350.67 L87.15,351.48 L87.22,352.29 L87.28,353.10 L87.35,353.92 L87.42,354.73 L87.49,355.54 L87.56,356.35 L87.62,357.16 L87.69,357.98 L87.76,358.79 L87.83,359.60 L87.91,360.41 L87.98,361.22 L88.05,362.04 L88.12,362.85 L88.19,363.66 L88.27,364.47 L88.34,365.28 L88.42,366.10 L88.49,366.91 L88.57,367.72 L88.64,368.53 L88.72,369.34 L88.80,370.16 L88.88,370.97 L88.96,371.78 L89.04,372.59 L89.12,373.40 L89.20,374.22 L89.28,375.03 L89.36,375.84 L89.44,376.65 L89.52,377.46 L89.61,378.28 L89.69,379.09 L89.78,379.90 L89.86,380.71 L89.95,381.52 L90.04,382.34 L90.13,383.15 L90.21,383.96 L90.30,384.77 L90.39,385.58 L90.48,386.40 L90.58,387.21 L90.67,388.02 L90.76,388.83 L90.86,389.64 L90.95,390.46 L91.05,391.27 L91.14,392.07 L91.24,392.89 L91.34,393.70 L91.44,394.52 L91.54,395.33 L91.64,396.14 L91.74,396.95 L91.84,397.75 L91.95,398.58 L92.05,399.39 L92.16,400.20 L92.26,401.01 L92.37,401.82 L92.48,402.64 L92.59,403.45 L92.70,404.26 L92.81,405.07 L92.92,405.88 L93.04,406.70 L93.15,407.51 L93.27,408.32 L93.38,409.13 L93.50,409.94 L93.62,410.76 L93.74,411.57 L93.86,412.38 L93.99,413.19 L94.11,414.00 L94.23,414.82 L94.36,415.63 L94.49,416.44 L94.62,417.25 L94.75,418.06 L94.88,418.88 L95.01,419.69 L95.15,420.50 L95.29,421.31 L95.42,422.12 L95.56,422.94 L95.70,423.75 L95.85,424.56 L95.99,425.37 L96.13,426.18 L96.28,427.00 L96.43,427.81 L96.58,428.62 L96.73,429.43 L96.89,430.24 L97.04,431.06 L97.20,431.87 L97.36,432.68 L97.52,433.49 L97.68,434.30 L97.85,435.12 L98.02,435.93 L98.18,436.74 L98.36,437.55 L98.53,438.36 L98.70,439.18 L98.88,439.99 L99.06,440.80 L99.24,441.60 L99.43,442.42 L99.62,443.24 L99.80,444.05 L100.00,444.86 L100.19,445.67 L100.39,446.48 L100.58,447.27 L100.79,448.11 L100.99,448.89 L101.20,449.73 L101.41,450.54 L101.63,451.36 L101.85,452.17 L102.07,452.98 L102.29,453.79 L102.52,454.60 L102.74,455.38 L102.97,456.20 L103.20,457.00 L103.44,457.78 L103.67,458.56 L103.90,459.33 L104.16,460.17 L104.42,460.98 L104.68,461.80 L104.94,462.61 L105.21,463.42 L105.47,464.22 L105.76,465.04 L106.04,465.86 L106.32,466.67 L106.61,467.48 L106.91,468.29 L107.21,469.10 L107.51,469.91 L107.81,470.67 L108.10,471.42 L108.42,472.24 L108.74,473.02 L109.08,473.86 L109.42,474.67 L109.77,475.48 L110.12,476.30 L110.49,477.11 L110.84,477.88 L111.17,478.62 L111.53,479.38 L111.88,480.12 L112.28,480.94 L112.64,481.65 L113.04,482.44 L113.46,483.24 L113.86,484.02 L114.27,484.76 L114.68,485.51 L115.09,486.24 L115.50,486.95 L115.90,487.64 L116.33,488.36 L116.76,489.06 L117.19,489.75 L117.63,490.45 L118.08,491.14 L118.53,491.81 L118.99,492.50 L119.46,493.18 L119.92,493.84 L120.41,494.51 L120.91,495.19 L121.44,495.89 L121.96,496.57 L122.49,497.23 L123.01,497.87 L123.54,498.51 L124.06,499.13 L124.59,499.74 L125.17,500.40 L125.72,501.00 L126.28,501.60 L126.86,502.21 L127.44,502.81 L128.02,503.40 L128.61,503.97 L129.19,504.53 L129.83,505.13 L130.47,505.71 L131.11,506.28 L131.72,506.80 L132.33,507.33 L132.96,507.85 L133.62,508.38 L134.26,508.88 L134.90,509.38 L135.54,509.86 L136.24,510.37 L136.93,510.86 L137.59,511.33 L138.27,511.79 L138.97,512.26 L139.68,512.71 L140.38,513.15 L141.07,513.59 L141.77,514.01 L142.47,514.42 L143.17,514.82 L143.87,515.21 L144.61,515.62 L145.33,516.00 L146.09,516.40 L146.84,516.78 L147.60,517.16 L148.36,517.53 L149.12,517.88 L149.87,518.23 L150.63,518.58 L151.39,518.91 L152.14,519.23 L152.90,519.55 L153.66,519.86 L154.42,520.16 L155.17,520.46 L155.93,520.75 L156.69,521.03 L157.45,521.31 L158.20,521.58 L158.96,521.84 L159.72,522.10 L160.53,522.37 L161.35,522.64 L162.17,522.90 L162.98,523.15 L163.79,523.39 L164.56,523.62 L165.37,523.86 L166.19,524.09 L167.00,524.31 L167.82,524.53 L168.63,524.75 L169.45,524.96 L170.27,525.16 L171.08,525.36 L171.90,525.56 L172.71,525.75 L173.53,525.94 L174.34,526.12 L175.16,526.30 L175.97,526.48 L176.79,526.65 L177.61,526.82 L178.42,526.98 L179.24,527.14 L180.05,527.30 L180.87,527.45 L181.68,527.60 L182.50,527.75 L183.32,527.89 L184.12,528.03 L184.95,528.17 L185.76,528.31 L186.58,528.44 L187.39,528.57 L188.21,528.70 L189.03,528.82 L189.84,528.94 L190.66,529.06 L191.47,529.18 L192.29,529.29 L193.10,529.40 L193.92,529.51 L194.74,529.62 L195.55,529.72 L196.37,529.83 L197.18,529.93 L198.00,530.02 L198.81,530.12 L199.63,530.22 L200.45,530.31 L201.26,530.40 L202.08,530.49 L202.89,530.57 L203.71,530.66 L204.52,530.74 L205.34,530.82 L206.16,530.90 L206.97,530.98 L207.79,531.06 L208.60,531.13 L209.42,531.21 L210.23,531.28 L211.05,531.35 L211.87,531.42 L212.68,531.49 L213.50,531.55 L214.31,531.62 L215.13,531.68 L215.94,531.75 L216.76,531.81 L217.58,531.87 L218.39,531.93 L219.21,531.98 L220.02,532.04 L220.84,532.10 L221.65,532.15 L222.47,532.20 L223.29,532.25 L224.10,532.31 L224.92,532.36 L225.73,532.40 L226.55,532.45 L227.36,532.50 L228.18,532.54 L229.00,532.59 L229.81,532.63 L230.63,532.68 L231.44,532.72 L232.26,532.76 L233.07,532.80 L233.89,532.84 L234.71,532.88 L235.52,532.92 L236.34,532.96 L237.15,532.99 L237.97,533.03 L238.78,533.06 L239.60,533.10 L240.42,533.13 L241.23,533.17 L242.05,533.20 L242.86,533.23 L243.68,533.26 L244.49,533.29 L245.31,533.32 L246.13,533.35 L246.94,533.38 L247.76,533.41 L248.57,533.43 L249.39,533.46 L250.20,533.49 L251.02,533.51 L251.84,533.54 L252.65,533.56 L253.47,533.59 L254.28,533.61 L255.10,533.63 L255.91,533.66 L256.73,533.68 L257.55,533.70 L258.36,533.72 L259.18,533.74 L259.99,533.76 L260.81,533.78 L261.62,533.80 L262.44,533.82 L263.26,533.84 L264.07,533.86 L264.89,533.88 L265.70,533.89 L266.52,533.91 L267.33,533.93 L268.15,533.94 L268.97,533.96 L269.78,533.98 L270.60,533.99 L271.41,534.01 L272.23,534.02 L273.04,534.04 L273.86,534.05 L274.68,534.06 L275.49,534.08 L276.31,534.09 L277.12,534.10 L277.94,534.12 L278.75,534.13 L279.57,534.14 L280.39,534.15 L281.20,534.17 L282.02,534.18 L282.83,534.19 L283.65,534.20 L284.46,534.21 L285.28,534.22 L286.10,534.23 L286.91,534.24 L287.73,534.25 L288.54,534.26 L289.36,534.27 L290.17,534.28 L290.99,534.29 L291.80,534.30 L292.62,534.30 L293.44,534.31 L294.25,534.32 L295.07,534.33 L295.88,534.34 L296.00,534.34" fill="none" stroke="#fff" stroke-width="1" stroke-opacity="0.92"/><path d="M99.22,319.00 L99.31,319.81 L99.40,320.62 L99.50,321.44 L99.59,322.25 L99.68,323.06 L99.78,323.87 L99.87,324.68 L99.97,325.50 L100.07,326.31 L100.16,327.12 L100.26,327.93 L100.36,328.74 L100.46,329.56 L100.56,330.37 L100.66,331.18 L100.76,331.99 L100.86,332.80 L100.97,333.62 L101.07,334.43 L101.17,335.24 L101.28,336.05 L101.38,336.86 L101.49,337.68 L101.60,338.49 L101.71,339.30 L101.81,340.11 L101.92,340.92 L102.03,341.74 L102.14,342.55 L102.26,343.36 L102.37,344.17 L102.48,344.98 L102.60,345.80 L102.71,346.61 L102.83,347.42 L102.95,348.23 L103.06,349.04 L103.18,349.86 L103.30,350.67 L103.42,351.48 L103.54,352.29 L103.66,353.10 L103.79,353.90 L103.91,354.73 L104.04,355.54 L104.16,356.35 L104.29,357.16 L104.42,357.98 L104.55,358.79 L104.68,359.60 L104.81,360.41 L104.94,361.22 L105.07,362.04 L105.21,362.85 L105.34,363.66 L105.48,364.47 L105.62,365.28 L105.76,366.10 L105.90,366.91 L106.04,367.72 L106.18,368.53 L106.32,369.34 L106.47,370.14 L106.61,370.97 L106.76,371.76 L106.91,372.59 L107.06,373.40 L107.21,374.22 L107.36,375.03 L107.51,375.83 L107.67,376.65 L107.83,377.46 L107.99,378.28 L108.15,379.09 L108.31,379.90 L108.47,380.71 L108.63,381.52 L108.80,382.33 L108.96,383.15 L109.13,383.96 L109.30,384.77 L109.47,385.58 L109.65,386.40 L109.82,387.21 L110.00,388.02 L110.18,388.83 L110.36,389.64 L110.54,390.46 L110.72,391.26 L110.91,392.08 L111.09,392.89 L111.28,393.70 L111.47,394.52 L111.67,395.33 L111.86,396.14 L112.06,396.95 L112.26,397.76 L112.46,398.58 L112.66,399.39 L112.86,400.20 L113.07,401.01 L113.28,401.82 L113.49,402.64 L113.71,403.45 L113.92,404.26 L114.14,405.07 L114.36,405.88 L114.59,406.70 L114.81,407.51 L115.04,408.32 L115.26,409.10 L115.50,409.90 L115.73,410.70 L115.96,411.49 L116.19,412.26 L116.43,413.05 L116.68,413.89 L116.93,414.70 L117.19,415.50 L117.45,416.32 L117.71,417.14 L117.97,417.95 L118.23,418.76 L118.50,419.57 L118.78,420.38 L119.05,421.18 L119.33,422.01 L119.62,422.82 L119.91,423.63 L120.20,424.44 L120.49,425.26 L120.79,426.07 L121.09,426.86 L121.38,427.63 L121.67,428.39 L121.96,429.14 L122.26,429.90 L122.58,430.71 L122.90,431.48 L123.25,432.33 L123.58,433.14 L123.93,433.96 L124.27,434.77 L124.63,435.58 L124.99,436.39 L125.34,437.19 L125.69,437.96 L126.04,438.71 L126.39,439.46 L126.74,440.19 L127.09,440.92 L127.44,441.63 L127.83,442.42 L128.20,443.15 L128.60,443.93 L129.01,444.73 L129.39,445.44 L129.77,446.15 L130.18,446.90 L130.59,447.64 L130.98,448.34 L131.38,449.04 L131.78,449.73 L132.19,450.43 L132.61,451.12 L133.03,451.82 L133.46,452.52 L133.90,453.21 L134.34,453.91 L134.78,454.58 L135.25,455.29 L135.71,455.98 L136.18,456.66 L136.65,457.33 L137.11,457.99 L137.59,458.66 L138.10,459.36 L138.62,460.06 L139.15,460.75 L139.68,461.43 L140.20,462.10 L140.70,462.72 L141.25,463.39 L141.77,464.02 L142.30,464.64 L142.82,465.25 L143.35,465.86 L143.93,466.50 L144.51,467.13 L145.09,467.77 L145.68,468.38 L146.26,468.98 L146.84,469.57 L147.42,470.15 L148.01,470.72 L148.59,471.28 L149.17,471.83 L149.81,472.42 L150.46,473.00 L151.10,473.57 L151.74,474.13 L152.38,474.67 L153.02,475.21 L153.64,475.72 L154.30,476.24 L154.94,476.75 L155.58,477.24 L156.22,477.73 L156.92,478.24 L157.60,478.73 L158.25,479.20 L158.91,479.66 L159.59,480.12 L160.29,480.59 L160.99,481.05 L161.70,481.51 L162.40,481.95 L163.10,482.38 L163.79,482.79 L164.50,483.21 L165.20,483.62 L165.90,484.02 L166.59,484.41 L167.35,484.82 L168.11,485.23 L168.87,485.62 L169.62,486.01 L170.38,486.39 L171.14,486.76 L171.90,487.13 L172.65,487.48 L173.41,487.83 L174.17,488.17 L174.93,488.51 L175.68,488.84 L176.44,489.16 L177.20,489.47 L177.96,489.78 L178.71,490.08 L179.47,490.38 L180.23,490.67 L180.99,490.96 L181.74,491.23 L182.50,491.51 L183.26,491.77 L184.02,492.04 L184.80,492.30 L185.59,492.57 L186.40,492.83 L187.22,493.09 L188.04,493.35 L188.80,493.58 L189.58,493.81 L190.37,494.04 L191.17,494.28 L192.00,494.51 L192.81,494.73 L193.63,494.95 L194.44,495.17 L195.26,495.38 L196.08,495.59 L196.87,495.78 L197.65,495.97 L198.47,496.17 L199.28,496.36 L200.10,496.54 L200.91,496.73 L201.73,496.91 L202.54,497.08 L203.36,497.25 L204.18,497.42 L204.99,497.59 L205.81,497.75 L206.62,497.91 L207.44,498.06 L208.25,498.21 L209.07,498.36 L209.88,498.51 L210.70,498.65 L211.52,498.79 L212.33,498.93 L213.15,499.06 L213.96,499.19 L214.78,499.32 L215.59,499.45 L216.41,499.57 L217.23,499.69 L218.04,499.81 L218.86,499.93 L219.67,500.04 L220.49,500.15 L221.30,500.26 L222.12,500.37 L222.94,500.47 L223.75,500.58 L224.57,500.68 L225.36,500.77 L226.20,500.87 L227.01,500.97 L227.83,501.06 L228.65,501.15 L229.46,501.24 L230.28,501.33 L231.09,501.41 L231.91,501.49 L232.72,501.58 L233.54,501.66 L234.36,501.74 L235.17,501.81 L235.99,501.89 L236.80,501.96 L237.62,502.03 L238.43,502.11 L239.25,502.18 L240.07,502.24 L240.88,502.31 L241.70,502.38 L242.51,502.44 L243.33,502.50 L244.14,502.56 L244.96,502.62 L245.78,502.68 L246.59,502.74 L247.41,502.80 L248.22,502.85 L249.04,502.91 L249.85,502.96 L250.67,503.01 L251.49,503.06 L252.30,503.11 L253.12,503.16 L253.92,503.21 L254.75,503.26 L255.56,503.30 L256.38,503.35 L257.20,503.39 L258.01,503.43 L258.83,503.48 L259.64,503.52 L260.44,503.56 L261.27,503.60 L262.09,503.63 L262.89,503.67 L263.72,503.71 L264.54,503.75 L265.35,503.78 L266.17,503.82 L266.98,503.85 L267.80,503.88 L268.62,503.92 L269.43,503.95 L270.25,503.98 L271.06,504.01 L271.88,504.04 L272.69,504.07 L273.51,504.10 L274.33,504.13 L275.14,504.15 L275.96,504.18 L276.77,504.21 L277.59,504.23 L278.40,504.26 L279.22,504.28 L280.04,504.31 L280.85,504.33 L281.67,504.35 L282.48,504.37 L283.30,504.40 L284.11,504.42 L284.93,504.44 L285.75,504.46 L286.56,504.48 L287.38,504.50 L288.19,504.52 L289.01,504.54 L289.82,504.56 L290.64,504.57 L291.46,504.59 L292.27,504.61 L293.09,504.63 L293.90,504.64 L294.72,504.66 L295.53,504.67 L296.00,504.68" fill="none" stroke="#fff" stroke-width="1" stroke-opacity="0.92"/><path d="M120.04,319.00 L120.20,319.81 L120.37,320.62 L120.54,321.44 L120.71,322.25 L120.88,323.06 L121.06,323.87 L121.23,324.68 L121.41,325.50 L121.59,326.31 L121.77,327.12 L121.95,327.93 L122.13,328.74 L122.31,329.56 L122.50,330.37 L122.68,331.18 L122.87,331.99 L123.06,332.80 L123.25,333.59 L123.44,334.43 L123.64,335.24 L123.83,336.02 L124.03,336.86 L124.23,337.68 L124.43,338.49 L124.64,339.30 L124.84,340.11 L125.05,340.92 L125.25,341.74 L125.46,342.53 L125.67,343.36 L125.89,344.17 L126.10,344.97 L126.32,345.80 L126.54,346.61 L126.76,347.42 L126.97,348.19 L127.21,349.03 L127.44,349.86 L127.67,350.67 L127.90,351.48 L128.13,352.29 L128.37,353.10 L128.61,353.91 L128.84,354.70 L129.07,355.48 L129.31,356.25 L129.55,357.05 L129.80,357.86 L130.05,358.67 L130.30,359.45 L130.56,360.30 L130.82,361.10 L131.09,361.92 L131.34,362.71 L131.62,363.54 L131.89,364.36 L132.16,365.16 L132.44,365.98 L132.72,366.79 L133.00,367.60 L133.29,368.42 L133.56,369.18 L133.85,369.99 L134.14,370.79 L134.42,371.55 L134.72,372.36 L135.02,373.14 L135.31,373.91 L135.60,374.67 L135.89,375.42 L136.19,376.19 L136.51,377.00 L136.82,377.78 L137.16,378.62 L137.50,379.44 L137.81,380.19 L138.13,380.94 L138.45,381.71 L138.77,382.45 L139.09,383.19 L139.43,383.96 L139.79,384.77 L140.14,385.55 L140.48,386.28 L140.84,387.07 L141.19,387.82 L141.54,388.56 L141.89,389.29 L142.24,390.01 L142.63,390.80 L143.00,391.55 L143.38,392.31 L143.75,393.04 L144.16,393.82 L144.57,394.61 L144.95,395.33 L145.39,396.14 L145.79,396.88 L146.20,397.62 L146.61,398.34 L147.00,399.04 L147.40,399.74 L147.81,400.43 L148.22,401.13 L148.63,401.82 L149.06,402.52 L149.48,403.22 L149.92,403.91 L150.36,404.61 L150.80,405.30 L151.26,406.00 L151.72,406.70 L152.18,407.39 L152.65,408.09 L153.13,408.78 L153.60,409.45 L154.07,410.11 L154.59,410.84 L155.12,411.55 L155.64,412.26 L156.17,412.95 L156.69,413.63 L157.21,414.30 L157.71,414.93 L158.26,415.62 L158.79,416.26 L159.31,416.89 L159.84,417.51 L160.36,418.12 L160.92,418.76 L161.47,419.38 L162.05,420.03 L162.63,420.66 L163.22,421.29 L163.79,421.89 L164.34,422.47 L164.90,423.05 L165.49,423.63 L166.07,424.21 L166.65,424.77 L167.24,425.33 L167.82,425.88 L168.46,426.47 L169.10,427.05 L169.74,427.63 L170.35,428.16 L170.96,428.69 L171.61,429.23 L172.25,429.77 L172.89,430.29 L173.53,430.80 L174.17,431.31 L174.81,431.81 L175.45,432.30 L176.09,432.77 L176.75,433.26 L177.43,433.75 L178.13,434.25 L178.83,434.73 L179.53,435.21 L180.23,435.68 L180.93,436.14 L181.63,436.59 L182.33,437.03 L183.03,437.47 L183.72,437.90 L184.42,438.31 L185.12,438.73 L185.82,439.13 L186.52,439.53 L187.22,439.92 L187.98,440.33 L188.73,440.74 L189.49,441.13 L190.25,441.52 L191.01,441.91 L191.76,442.28 L192.52,442.65 L193.27,443.00 L194.01,443.35 L194.77,443.70 L195.55,444.05 L196.31,444.38 L197.07,444.71 L197.82,445.03 L198.58,445.35 L199.34,445.66 L200.10,445.96 L200.84,446.25 L201.61,446.55 L202.36,446.83 L203.13,447.11 L203.88,447.39 L204.64,447.66 L205.40,447.92 L206.16,448.18 L206.97,448.46 L207.73,448.71 L208.54,448.97 L209.36,449.23 L210.18,449.48 L210.99,449.73 L211.78,449.96 L212.57,450.19 L213.38,450.43 L214.20,450.66 L215.01,450.88 L215.83,451.10 L216.64,451.31 L217.46,451.52 L218.28,451.73 L219.09,451.93 L219.91,452.13 L220.72,452.33 L221.54,452.52 L222.35,452.70 L223.17,452.88 L223.98,453.06 L224.80,453.24 L225.62,453.41 L226.43,453.58 L227.25,453.74 L228.06,453.90 L228.88,454.06 L229.69,454.22 L230.51,454.37 L231.33,454.52 L232.14,454.66 L232.96,454.81 L233.77,454.95 L234.59,455.08 L235.40,455.22 L236.22,455.35 L237.04,455.48 L237.85,455.60 L238.67,455.73 L239.48,455.85 L240.30,455.97 L241.11,456.08 L241.93,456.20 L242.75,456.31 L243.56,456.42 L244.38,456.52 L245.19,456.63 L246.01,456.73 L246.82,456.83 L247.64,456.93 L248.46,457.02 L249.27,457.12 L250.09,457.21 L250.90,457.30 L251.70,457.39 L252.53,457.48 L253.35,457.56 L254.17,457.64 L254.98,457.73 L255.80,457.81 L256.61,457.88 L257.43,457.96 L258.24,458.04 L259.06,458.11 L259.88,458.18 L260.69,458.25 L261.51,458.32 L262.32,458.39 L263.14,458.45 L263.95,458.52 L264.77,458.58 L265.59,458.64 L266.40,458.70 L267.22,458.76 L268.03,458.82 L268.85,458.88 L269.66,458.93 L270.48,458.98 L271.30,459.04 L272.11,459.09 L272.93,459.14 L273.74,459.19 L274.56,459.24 L275.37,459.29 L276.19,459.33 L277.01,459.38 L277.82,459.42 L278.64,459.47 L279.45,459.51 L280.27,459.55 L281.07,459.59 L281.90,459.63 L282.72,459.67 L283.53,459.71 L284.35,459.75 L285.16,459.78 L285.98,459.82 L286.79,459.85 L287.61,459.89 L288.43,459.92 L289.24,459.96 L290.06,459.99 L290.87,460.02 L291.69,460.05 L292.50,460.08 L293.32,460.11 L294.14,460.14 L294.95,460.16 L295.77,460.19 L296.00,460.20" fill="none" stroke="#fff" stroke-width="1" stroke-opacity="0.92"/><path d="M143.48,319.00 L143.75,319.78 L144.05,320.59 L144.34,321.38 L144.63,322.18 L144.91,322.94 L145.21,323.74 L145.50,324.51 L145.79,325.26 L146.09,326.02 L146.38,326.77 L146.70,327.58 L147.02,328.39 L147.35,329.21 L147.66,329.97 L147.96,330.72 L148.30,331.52 L148.64,332.34 L148.99,333.15 L149.33,333.96 L149.69,334.78 L150.04,335.59 L150.40,336.39 L150.75,337.17 L151.08,337.91 L151.45,338.70 L151.80,339.45 L152.14,340.20 L152.49,340.92 L152.84,341.67 L153.19,342.39 L153.56,343.13 L153.95,343.92 L154.36,344.74 L154.77,345.54 L155.14,346.26 L155.52,347.00 L155.93,347.77 L156.34,348.54 L156.73,349.28 L157.16,350.05 L157.56,350.78 L157.97,351.51 L158.38,352.23 L158.79,352.94 L159.19,353.64 L159.60,354.34 L160.04,355.08 L160.46,355.77 L160.88,356.46 L161.32,357.16 L161.75,357.86 L162.19,358.56 L162.63,359.24 L163.09,359.95 L163.55,360.64 L164.02,361.34 L164.49,362.04 L164.96,362.72 L165.43,363.39 L165.90,364.05 L166.36,364.71 L166.86,365.40 L167.35,366.06 L167.88,366.77 L168.40,367.46 L168.92,368.14 L169.45,368.81 L169.96,369.46 L170.50,370.13 L171.02,370.77 L171.55,371.41 L172.07,372.03 L172.60,372.65 L173.12,373.26 L173.66,373.87 L174.23,374.51 L174.80,375.14 L175.39,375.79 L175.97,376.42 L176.53,377.00 L177.09,377.58 L177.65,378.16 L178.23,378.74 L178.81,379.32 L179.41,379.90 L180.00,380.47 L180.58,381.02 L181.22,381.62 L181.86,382.20 L182.50,382.78 L183.14,383.35 L183.78,383.90 L184.42,384.45 L185.06,384.99 L185.71,385.52 L186.35,386.04 L186.99,386.56 L187.63,387.06 L188.27,387.56 L188.91,388.04 L189.55,388.52 L190.25,389.04 L190.93,389.53 L191.58,389.99 L192.25,390.46 L192.92,390.92 L193.61,391.38 L194.31,391.85 L195.03,392.31 L195.73,392.76 L196.43,393.20 L197.13,393.63 L197.82,394.05 L198.52,394.47 L199.22,394.87 L199.92,395.27 L200.62,395.67 L201.38,396.09 L202.12,396.49 L202.83,396.87 L203.59,397.27 L204.34,397.65 L205.11,398.04 L205.86,398.41 L206.62,398.78 L207.38,399.14 L208.14,399.49 L208.89,399.84 L209.65,400.18 L210.41,400.51 L211.17,400.84 L211.92,401.16 L212.68,401.47 L213.44,401.78 L214.20,402.08 L214.95,402.38 L215.71,402.67 L216.47,402.96 L217.23,403.24 L217.98,403.51 L218.74,403.78 L219.50,404.05 L220.26,404.31 L221.07,404.59 L221.84,404.84 L222.64,405.10 L223.46,405.36 L224.28,405.61 L225.09,405.86 L225.91,406.10 L226.72,406.34 L227.54,406.58 L228.35,406.80 L229.17,407.03 L229.99,407.25 L230.80,407.46 L231.62,407.67 L232.43,407.88 L233.25,408.08 L234.06,408.28 L234.88,408.48 L235.70,408.67 L236.51,408.85 L237.33,409.03 L238.14,409.21 L238.96,409.39 L239.77,409.56 L240.59,409.73 L241.41,409.89 L242.22,410.05 L243.04,410.21 L243.85,410.37 L244.67,410.52 L245.48,410.67 L246.30,410.81 L247.12,410.95 L247.93,411.09 L248.75,411.23 L249.56,411.36 L250.38,411.49 L251.19,411.62 L252.01,411.75 L252.83,411.87 L253.64,411.99 L254.46,412.11 L255.27,412.22 L256.09,412.34 L256.90,412.45 L257.72,412.56 L258.54,412.66 L259.35,412.77 L260.17,412.87 L260.98,412.97 L261.80,413.06 L262.61,413.16 L263.43,413.25 L264.25,413.34 L265.06,413.43 L265.88,413.52 L266.69,413.61 L267.51,413.69 L268.31,413.77 L269.14,413.85 L269.96,413.93 L270.77,414.01 L271.59,414.08 L272.40,414.16 L273.22,414.23 L274.03,414.30 L274.85,414.37 L275.67,414.44 L276.48,414.50 L277.30,414.57 L278.11,414.63 L278.93,414.69 L279.74,414.75 L280.56,414.81 L281.38,414.87 L282.19,414.93 L283.01,414.98 L283.82,415.04 L284.64,415.09 L285.45,415.14 L286.27,415.19 L287.09,415.24 L287.90,415.29 L288.72,415.34 L289.53,415.38 L290.35,415.43 L291.16,415.47 L291.98,415.52 L292.80,415.56 L293.61,415.60 L294.43,415.64 L295.24,415.68 L296.00,415.72" fill="none" stroke="#fff" stroke-width="1" stroke-opacity="0.92"/><path d="M175.16,319.00 L175.63,319.66 L176.15,320.38 L176.67,321.09 L177.18,321.78 L177.66,322.43 L178.19,323.11 L178.69,323.76 L179.18,324.39 L179.69,325.03 L180.23,325.70 L180.75,326.34 L181.28,326.97 L181.80,327.60 L182.33,328.21 L182.85,328.82 L183.39,329.44 L183.96,330.07 L184.54,330.72 L185.12,331.36 L185.71,331.98 L186.26,332.57 L186.82,333.15 L187.38,333.73 L187.96,334.31 L188.54,334.89 L189.13,335.47 L189.73,336.05 L190.31,336.61 L190.95,337.21 L191.58,337.79 L192.22,338.37 L192.87,338.95 L193.51,339.51 L194.15,340.07 L194.79,340.61 L195.44,341.15 L196.08,341.67 L196.72,342.19 L197.36,342.70 L198.00,343.20 L198.64,343.70 L199.28,344.18 L199.98,344.70 L200.68,345.21 L201.38,345.72 L202.08,346.21 L202.78,346.69 L203.48,347.17 L204.18,347.64 L204.87,348.10 L205.57,348.55 L206.27,348.99 L206.97,349.43 L207.67,349.86 L208.37,350.28 L209.07,350.69 L209.77,351.10 L210.47,351.50 L211.17,351.89 L211.90,352.29 L212.62,352.68 L213.38,353.09 L214.14,353.48 L214.90,353.87 L215.65,354.25 L216.39,354.61 L217.17,354.99 L217.93,355.34 L218.68,355.70 L219.44,356.04 L220.20,356.38 L220.96,356.71 L221.71,357.04 L222.47,357.36 L223.23,357.67 L223.97,357.98 L224.74,358.28 L225.50,358.58 L226.26,358.87 L227.01,359.16 L227.77,359.44 L228.53,359.71 L229.29,359.98 L230.04,360.25 L230.80,360.51 L231.62,360.78 L232.43,361.05 L233.25,361.31 L234.06,361.57 L234.88,361.82 L235.70,362.07 L236.51,362.31 L237.33,362.55 L238.14,362.78 L238.96,363.01 L239.77,363.23 L240.59,363.45 L241.39,363.66 L242.22,363.87 L243.04,364.08 L243.85,364.28 L244.65,364.47 L245.48,364.67 L246.30,364.86 L247.12,365.04 L247.93,365.22 L248.74,365.40 L249.56,365.57 L250.38,365.75 L251.19,365.91 L252.01,366.07 L252.83,366.23 L253.64,366.39 L254.46,366.54 L255.27,366.69 L256.09,366.84 L256.90,366.99 L257.72,367.13 L258.54,367.26 L259.35,367.40 L260.17,367.53 L260.98,367.66 L261.80,367.79 L262.61,367.91 L263.43,368.03 L264.25,368.15 L265.06,368.27 L265.88,368.38 L266.69,368.49 L267.51,368.60 L268.32,368.71 L269.14,368.81 L269.96,368.91 L270.77,369.01 L271.59,369.11 L272.40,369.21 L273.22,369.30 L274.03,369.39 L274.85,369.48 L275.67,369.57 L276.48,369.66 L277.30,369.74 L278.11,369.82 L278.93,369.90 L279.74,369.98 L280.56,370.06 L281.38,370.13 L282.19,370.21 L283.01,370.28 L283.82,370.35 L284.64,370.42 L285.45,370.49 L286.27,370.55 L287.09,370.62 L287.90,370.68 L288.72,370.74 L289.53,370.80 L290.35,370.86 L291.16,370.92 L291.98,370.97 L292.80,371.03 L293.61,371.08 L294.43,371.14 L295.24,371.19 L296.00,371.23" fill="none" stroke="#fff" stroke-width="1" stroke-opacity="0.92"/><path d="M246.64,319.00 L247.47,319.23 L248.28,319.45 L249.10,319.66 L249.91,319.88 L250.73,320.08 L251.54,320.29 L252.36,320.49 L253.18,320.68 L253.99,320.87 L254.81,321.06 L255.62,321.24 L256.44,321.42 L257.25,321.60 L258.07,321.77 L258.89,321.94 L259.70,322.10 L260.52,322.26 L261.33,322.42 L262.15,322.57 L262.96,322.73 L263.78,322.87 L264.60,323.02 L265.41,323.16 L266.23,323.30 L267.04,323.43 L267.86,323.57 L268.67,323.70 L269.49,323.82 L270.31,323.95 L271.12,324.07 L271.94,324.19 L272.75,324.31 L273.57,324.42 L274.38,324.53 L275.20,324.64 L276.02,324.75 L276.83,324.85 L277.65,324.96 L278.46,325.06 L279.28,325.16 L280.09,325.25 L280.91,325.35 L281.73,325.44 L282.54,325.53 L283.36,325.61 L284.17,325.70 L284.99,325.78 L285.80,325.87 L286.62,325.95 L287.44,326.03 L288.25,326.10 L289.07,326.18 L289.88,326.25 L290.70,326.32 L291.51,326.39 L292.33,326.46 L293.15,326.53 L293.96,326.59 L294.78,326.66 L295.59,326.72 L296.00,326.75" fill="none" stroke="#fff" stroke-width="1" stroke-opacity="0.92"/><text x="264.1" y="335.2" font-size="10.1" text-anchor="middle" dominant-baseline="central" fill="#161616" stroke="#161616" stroke-width="0.18" transform="rotate(0 264.1 335.2)">US$1.6 T</text><text x="256.1" y="354.5" font-size="10" text-anchor="middle" dominant-baseline="central" fill="#161616" stroke="#161616" stroke-width="0.18" transform="rotate(0 256.1 354.5)">US$1.3 T</text><text x="232.7" y="393.8" font-size="10.27" text-anchor="middle" dominant-baseline="central" fill="#161616" stroke="#161616" stroke-width="0.18" transform="rotate(0 232.7 393.8)">US$1.0 T</text><text x="212.7" y="434.8" font-size="10.7" text-anchor="middle" dominant-baseline="central" fill="#161616" stroke="#161616" stroke-width="0.18" transform="rotate(0 212.7 434.8)">US$0.7 T</text><text x="185.1" y="476.9" font-size="10.78" text-anchor="middle" dominant-baseline="central" fill="#161616" stroke="#161616" stroke-width="0.18" transform="rotate(0 185.1 476.9)">US$0.4 T</text><text x="159.4" y="507.3" font-size="10.56" text-anchor="middle" dominant-baseline="central" fill="#161616" stroke="#161616" stroke-width="0.18" transform="rotate(0 159.4 507.3)">US$0.2 T</text><rect x="63.5" y="319.5" width="232" height="231" fill="none" stroke="#000" stroke-opacity="0.6" stroke-width="1"/><line x1="58" y1="550.5" x2="63" y2="550.5" stroke="#4d4d4d" stroke-width="1"/><text x="53" y="550.2" font-size="11" letter-spacing="0.45" text-anchor="end" dominant-baseline="central" fill="#1a1a1a">0</text><line x1="58" y1="504.5" x2="63" y2="504.5" stroke="#4d4d4d" stroke-width="1"/><text x="53" y="503.8" font-size="11" letter-spacing="0.45" text-anchor="end" dominant-baseline="central" fill="#1a1a1a">200</text><line x1="58" y1="458.5" x2="63" y2="458.5" stroke="#4d4d4d" stroke-width="1"/><text x="53" y="457.4" font-size="11" letter-spacing="0.45" text-anchor="end" dominant-baseline="central" fill="#1a1a1a">400</text><line x1="58" y1="411.5" x2="63" y2="411.5" stroke="#4d4d4d" stroke-width="1"/><text x="53" y="411.0" font-size="11" letter-spacing="0.45" text-anchor="end" dominant-baseline="central" fill="#1a1a1a">600</text><line x1="58" y1="365.5" x2="63" y2="365.5" stroke="#4d4d4d" stroke-width="1"/><text x="53" y="364.6" font-size="11" letter-spacing="0.45" text-anchor="end" dominant-baseline="central" fill="#1a1a1a">800</text><line x1="58" y1="319.5" x2="63" y2="319.5" stroke="#4d4d4d" stroke-width="1"/><text x="53" y="318.2" font-size="11" letter-spacing="0.45" text-anchor="end" dominant-baseline="central" fill="#1a1a1a">1,000</text><line x1="82.5" y1="551" x2="82.5" y2="556" stroke="#4d4d4d" stroke-width="1"/><text x="82.6" y="570" font-size="11" letter-spacing="0.35" text-anchor="middle" fill="#1a1a1a">10</text><line x1="121.5" y1="551" x2="121.5" y2="556" stroke="#4d4d4d" stroke-width="1"/><text x="121.5" y="570" font-size="11" letter-spacing="0.35" text-anchor="middle" fill="#1a1a1a">20</text><line x1="160.5" y1="551" x2="160.5" y2="556" stroke="#4d4d4d" stroke-width="1"/><text x="160.3" y="570" font-size="11" letter-spacing="0.35" text-anchor="middle" fill="#1a1a1a">30</text><line x1="198.5" y1="551" x2="198.5" y2="556" stroke="#4d4d4d" stroke-width="1"/><text x="199.1" y="570" font-size="11" letter-spacing="0.35" text-anchor="middle" fill="#1a1a1a">40</text><line x1="237.5" y1="551" x2="237.5" y2="556" stroke="#4d4d4d" stroke-width="1"/><text x="237.9" y="570" font-size="11" letter-spacing="0.35" text-anchor="middle" fill="#1a1a1a">50</text><line x1="276.5" y1="551" x2="276.5" y2="556" stroke="#4d4d4d" stroke-width="1"/><text x="276.8" y="570" font-size="11" letter-spacing="0.35" text-anchor="middle" fill="#1a1a1a">60</text><text x="179.5" y="589.3" font-size="13" text-anchor="middle" fill="#1a1a1a">Operating lifespan (years)</text><text x="10.7" y="435.0" font-size="13" text-anchor="middle" fill="#1a1a1a" transform="rotate(-90 10.7 435.0)">Carbon price (US$ per tCO<tspan font-size="9.5" dy="3.6">2</tspan><tspan dy="-3.6">)</tspan></text><path d="M409.58,319.00 L409.66,319.81 L409.73,320.62 L409.81,321.44 L409.89,322.25 L409.96,323.06 L410.04,323.87 L410.12,324.68 L410.20,325.50 L410.28,326.31 L410.36,327.12 L410.44,327.93 L410.52,328.74 L410.60,329.56 L410.68,330.37 L410.77,331.18 L410.85,331.99 L410.93,332.80 L411.02,333.62 L411.10,334.43 L411.19,335.24 L411.27,336.05 L411.36,336.86 L411.45,337.68 L411.53,338.49 L411.62,339.30 L411.71,340.11 L411.80,340.92 L411.89,341.74 L411.98,342.55 L412.07,343.36 L412.17,344.17 L412.26,344.98 L412.35,345.80 L412.45,346.61 L412.54,347.42 L412.64,348.23 L412.73,349.04 L412.83,349.86 L412.93,350.67 L413.02,351.48 L413.12,352.29 L413.22,353.10 L413.32,353.92 L413.42,354.73 L413.53,355.54 L413.63,356.35 L413.73,357.16 L413.84,357.98 L413.94,358.79 L414.05,359.60 L414.15,360.41 L414.26,361.22 L414.37,362.04 L414.48,362.85 L414.59,363.66 L414.70,364.47 L414.81,365.28 L414.92,366.10 L415.04,366.91 L415.15,367.72 L415.27,368.53 L415.38,369.34 L415.50,370.16 L415.62,370.97 L415.74,371.78 L415.86,372.59 L415.98,373.40 L416.10,374.22 L416.22,375.03 L416.35,375.84 L416.47,376.65 L416.60,377.46 L416.73,378.28 L416.85,379.09 L416.98,379.90 L417.11,380.71 L417.25,381.52 L417.38,382.34 L417.51,383.14 L417.65,383.96 L417.79,384.77 L417.92,385.57 L418.06,386.40 L418.20,387.21 L418.34,388.02 L418.49,388.83 L418.63,389.64 L418.78,390.46 L418.92,391.27 L419.07,392.08 L419.22,392.89 L419.37,393.70 L419.53,394.52 L419.68,395.33 L419.83,396.14 L419.99,396.95 L420.15,397.76 L420.31,398.57 L420.47,399.39 L420.64,400.20 L420.80,401.01 L420.97,401.82 L421.14,402.64 L421.30,403.42 L421.47,404.25 L421.65,405.07 L421.82,405.88 L422.00,406.68 L422.17,407.47 L422.35,408.25 L422.55,409.13 L422.73,409.94 L422.92,410.76 L423.11,411.56 L423.30,412.38 L423.49,413.19 L423.69,414.00 L423.88,414.82 L424.08,415.63 L424.29,416.44 L424.49,417.25 L424.70,418.06 L424.91,418.88 L425.12,419.69 L425.33,420.50 L425.55,421.31 L425.77,422.12 L425.99,422.94 L426.21,423.75 L426.44,424.56 L426.66,425.33 L426.89,426.14 L427.13,426.94 L427.36,427.74 L427.59,428.52 L427.83,429.29 L428.08,430.13 L428.33,430.94 L428.58,431.74 L428.84,432.56 L429.11,433.38 L429.37,434.19 L429.63,434.98 L429.91,435.81 L430.19,436.62 L430.45,437.38 L430.74,438.22 L431.03,439.04 L431.32,439.85 L431.61,440.65 L431.90,441.44 L432.19,442.19 L432.49,442.98 L432.78,443.74 L433.08,444.51 L433.40,445.32 L433.71,446.08 L434.02,446.83 L434.35,447.64 L434.70,448.46 L435.04,449.27 L435.40,450.08 L435.75,450.88 L436.10,451.65 L436.44,452.40 L436.80,453.17 L437.15,453.91 L437.50,454.64 L437.87,455.42 L438.26,456.19 L438.63,456.92 L439.01,457.68 L439.40,458.43 L439.83,459.23 L440.21,459.94 L440.64,460.74 L441.04,461.45 L441.44,462.14 L441.84,462.84 L442.24,463.54 L442.66,464.23 L443.08,464.93 L443.51,465.62 L443.95,466.32 L444.39,467.02 L444.84,467.70 L445.31,468.40 L445.77,469.09 L446.24,469.77 L446.70,470.44 L447.17,471.09 L447.66,471.77 L448.16,472.44 L448.68,473.13 L449.21,473.82 L449.73,474.48 L450.26,475.14 L450.78,475.78 L451.31,476.41 L451.83,477.02 L452.36,477.63 L452.92,478.27 L453.46,478.87 L454.04,479.50 L454.63,480.12 L455.18,480.70 L455.75,481.28 L456.32,481.85 L456.90,482.43 L457.48,482.99 L458.07,483.54 L458.71,484.13 L459.35,484.71 L459.99,485.28 L460.60,485.81 L461.27,486.37 L461.91,486.91 L462.55,487.43 L463.19,487.94 L463.83,488.43 L464.47,488.92 L465.12,489.40 L465.81,489.91 L466.51,490.41 L467.21,490.90 L467.91,491.38 L468.60,491.84 L469.31,492.30 L470.01,492.75 L470.71,493.19 L471.41,493.62 L472.11,494.04 L472.81,494.45 L473.51,494.85 L474.20,495.25 L474.96,495.66 L475.72,496.07 L476.48,496.47 L477.23,496.86 L477.99,497.24 L478.75,497.61 L479.51,497.98 L480.26,498.34 L481.02,498.68 L481.78,499.03 L482.54,499.36 L483.29,499.69 L484.05,500.01 L484.81,500.32 L485.57,500.63 L486.32,500.93 L487.08,501.22 L487.84,501.51 L488.60,501.79 L489.35,502.06 L490.11,502.33 L490.87,502.60 L491.63,502.86 L492.44,503.13 L493.26,503.40 L494.07,503.66 L494.86,503.90 L495.65,504.14 L496.46,504.39 L497.28,504.63 L498.09,504.86 L498.91,505.09 L499.72,505.31 L500.52,505.53 L501.36,505.75 L502.17,505.96 L502.99,506.16 L503.80,506.36 L504.62,506.56 L505.43,506.75 L506.25,506.94 L507.07,507.12 L507.88,507.30 L508.70,507.48 L509.51,507.65 L510.33,507.82 L511.14,507.99 L511.96,508.15 L512.78,508.31 L513.59,508.46 L514.41,508.62 L515.22,508.77 L516.04,508.91 L516.85,509.05 L517.67,509.19 L518.49,509.33 L519.30,509.47 L520.12,509.60 L520.93,509.73 L521.75,509.85 L522.56,509.97 L523.38,510.10 L524.20,510.21 L525.01,510.33 L525.83,510.44 L526.64,510.55 L527.46,510.66 L528.27,510.77 L529.09,510.87 L529.91,510.98 L530.72,511.08 L531.54,511.17 L532.35,511.27 L533.17,511.36 L533.98,511.46 L534.80,511.55 L535.62,511.63 L536.43,511.72 L537.25,511.81 L538.06,511.89 L538.88,511.97 L539.69,512.05 L540.51,512.13 L541.33,512.20 L542.14,512.28 L542.96,512.35 L543.77,512.42 L544.59,512.49 L545.40,512.56 L546.22,512.63 L547.04,512.69 L547.85,512.76 L548.67,512.82 L549.48,512.88 L550.30,512.94 L551.11,513.00 L551.93,513.06 L552.74,513.12 L553.56,513.17 L554.38,513.23 L555.19,513.28 L556.01,513.33 L556.82,513.39 L557.64,513.44 L558.45,513.48 L559.26,513.53 L560.09,513.58 L560.90,513.63 L561.72,513.67 L562.53,513.71 L563.35,513.76 L564.16,513.80 L564.98,513.84 L565.80,513.88 L566.61,513.92 L567.43,513.96 L568.24,514.00 L569.06,514.04 L569.87,514.07 L570.69,514.11 L571.51,514.14 L572.32,514.18 L573.14,514.21 L573.95,514.24 L574.77,514.27 L575.58,514.31 L576.40,514.34 L577.22,514.37 L578.03,514.40 L578.85,514.42 L579.66,514.45 L580.48,514.48 L581.29,514.51 L582.11,514.53 L582.93,514.56 L583.74,514.58 L584.56,514.61 L585.37,514.63 L586.19,514.65 L587.00,514.68 L587.82,514.70 L588.64,514.72 L589.45,514.74 L590.27,514.76 L591.08,514.79 L591.90,514.81 L592.71,514.83 L593.53,514.84 L594.35,514.86 L595.16,514.88 L595.98,514.90 L596.79,514.92 L597.61,514.93 L598.42,514.95 L599.24,514.97 L600.06,514.98 L600.87,515.00 L601.69,515.01 L602.50,515.03 L603.32,515.04 L604.13,515.06 L604.95,515.07 L605.77,515.09 L606.58,515.10 L607.40,515.11 L608.21,515.12 L609.03,515.14 L609.84,515.15 L610.66,515.16 L611.48,515.17 L612.00,515.18" fill="none" stroke="#fff" stroke-width="1" stroke-opacity="0.92"/><path d="M431.93,319.00 L432.08,319.81 L432.23,320.62 L432.39,321.44 L432.54,322.25 L432.70,323.06 L432.85,323.87 L433.01,324.67 L433.17,325.50 L433.33,326.31 L433.50,327.12 L433.66,327.93 L433.83,328.74 L433.99,329.56 L434.16,330.37 L434.33,331.18 L434.50,331.99 L434.67,332.80 L434.84,333.62 L435.02,334.43 L435.19,335.24 L435.37,336.05 L435.55,336.86 L435.73,337.68 L435.91,338.49 L436.10,339.30 L436.27,340.08 L436.47,340.92 L436.65,341.74 L436.84,342.55 L437.03,343.34 L437.23,344.17 L437.42,344.98 L437.61,345.78 L437.82,346.61 L438.02,347.42 L438.22,348.23 L438.42,349.04 L438.63,349.86 L438.83,350.67 L439.04,351.48 L439.25,352.27 L439.46,353.10 L439.68,353.92 L439.89,354.70 L440.11,355.54 L440.33,356.35 L440.56,357.16 L440.78,357.98 L441.01,358.79 L441.23,359.56 L441.46,360.38 L441.69,361.19 L441.93,361.99 L442.16,362.79 L442.39,363.58 L442.62,364.36 L442.86,365.13 L443.12,365.98 L443.37,366.79 L443.62,367.59 L443.87,368.42 L444.13,369.23 L444.39,370.04 L444.66,370.85 L444.92,371.66 L445.19,372.47 L445.46,373.29 L445.74,374.10 L446.00,374.88 L446.30,375.72 L446.58,376.54 L446.87,377.35 L447.16,378.16 L447.45,378.97 L447.75,379.78 L448.04,380.58 L448.33,381.36 L448.62,382.10 L448.92,382.89 L449.21,383.64 L449.52,384.42 L449.84,385.24 L450.14,385.99 L450.45,386.74 L450.78,387.56 L451.12,388.37 L451.46,389.18 L451.77,389.92 L452.10,390.69 L452.46,391.50 L452.82,392.31 L453.17,393.11 L453.52,393.88 L453.87,394.63 L454.22,395.39 L454.57,396.13 L454.92,396.87 L455.27,397.59 L455.64,398.34 L456.03,399.13 L456.39,399.85 L456.78,400.63 L457.16,401.36 L457.54,402.09 L457.95,402.86 L458.36,403.62 L458.76,404.37 L459.17,405.11 L459.58,405.84 L459.99,406.56 L460.40,407.27 L460.80,407.97 L461.21,408.66 L461.63,409.36 L462.06,410.06 L462.49,410.76 L462.92,411.45 L463.36,412.15 L463.81,412.84 L464.27,413.54 L464.73,414.24 L465.20,414.93 L465.67,415.63 L466.15,416.32 L466.63,417.00 L467.10,417.65 L467.62,418.37 L468.14,419.08 L468.67,419.78 L469.19,420.47 L469.72,421.14 L470.22,421.78 L470.77,422.46 L471.29,423.11 L471.82,423.74 L472.34,424.36 L472.86,424.98 L473.41,425.60 L473.97,426.24 L474.55,426.88 L475.14,427.52 L475.72,428.15 L476.27,428.74 L476.83,429.32 L477.40,429.90 L477.98,430.48 L478.57,431.06 L479.16,431.63 L479.74,432.19 L480.38,432.79 L481.02,433.38 L481.66,433.95 L482.30,434.52 L482.94,435.08 L483.58,435.63 L484.22,436.16 L484.87,436.69 L485.50,437.20 L486.15,437.72 L486.79,438.22 L487.43,438.71 L488.07,439.20 L488.77,439.71 L489.47,440.22 L490.12,440.68 L490.79,441.15 L491.45,441.60 L492.15,442.07 L492.85,442.53 L493.55,442.99 L494.25,443.43 L494.95,443.87 L495.65,444.29 L496.34,444.71 L497.04,445.13 L497.74,445.53 L498.44,445.93 L499.14,446.32 L499.87,446.72 L500.60,447.10 L501.36,447.50 L502.08,447.88 L502.81,448.24 L503.57,448.62 L504.33,448.99 L505.08,449.35 L505.84,449.70 L506.60,450.05 L507.36,450.39 L508.11,450.72 L508.87,451.04 L509.61,451.36 L510.39,451.68 L511.14,451.98 L511.90,452.28 L512.66,452.58 L513.42,452.87 L514.17,453.16 L514.93,453.43 L515.69,453.71 L516.45,453.97 L517.20,454.24 L517.96,454.50 L518.78,454.77 L519.59,455.03 L520.41,455.29 L521.22,455.55 L522.04,455.80 L522.86,456.04 L523.67,456.28 L524.49,456.52 L525.30,456.75 L526.12,456.97 L526.93,457.19 L527.75,457.41 L528.56,457.62 L529.38,457.83 L530.20,458.03 L531.01,458.23 L531.83,458.42 L532.64,458.61 L533.46,458.80 L534.28,458.98 L535.09,459.16 L535.91,459.34 L536.72,459.51 L537.54,459.68 L538.35,459.84 L539.17,460.00 L539.98,460.16 L540.80,460.32 L541.62,460.47 L542.43,460.62 L543.25,460.76 L544.06,460.90 L544.88,461.04 L545.69,461.18 L546.51,461.31 L547.33,461.44 L548.14,461.57 L548.96,461.70 L549.77,461.82 L550.59,461.94 L551.40,462.06 L552.22,462.17 L553.04,462.29 L553.85,462.40 L554.67,462.50 L555.47,462.61 L556.30,462.71 L557.11,462.81 L557.93,462.91 L558.75,463.01 L559.56,463.11 L560.38,463.20 L561.19,463.29 L562.01,463.38 L562.82,463.47 L563.64,463.55 L564.46,463.64 L565.27,463.72 L566.09,463.80 L566.90,463.88 L567.72,463.96 L568.53,464.03 L569.35,464.10 L570.17,464.18 L570.98,464.25 L571.80,464.32 L572.61,464.38 L573.43,464.45 L574.24,464.52 L575.06,464.58 L575.88,464.64 L576.69,464.70 L577.51,464.76 L578.32,464.82 L579.14,464.88 L579.95,464.93 L580.77,464.99 L581.59,465.04 L582.40,465.09 L583.22,465.14 L584.03,465.19 L584.85,465.24 L585.66,465.29 L586.48,465.33 L587.30,465.38 L588.11,465.42 L588.93,465.47 L589.74,465.51 L590.56,465.55 L591.37,465.59 L592.19,465.63 L593.01,465.67 L593.82,465.71 L594.64,465.75 L595.45,465.78 L596.27,465.82 L597.08,465.85 L597.90,465.89 L598.72,465.92 L599.53,465.95 L600.35,465.99 L601.16,466.02 L601.98,466.05 L602.79,466.08 L603.61,466.11 L604.43,466.13 L605.24,466.16 L606.06,466.19 L606.87,466.22 L607.69,466.24 L608.50,466.27 L609.32,466.29 L610.14,466.32 L610.95,466.34 L611.77,466.36 L612.00,466.37" fill="none" stroke="#fff" stroke-width="1" stroke-opacity="0.92"/><path d="M443.74,319.00 L443.95,319.81 L444.16,320.62 L444.36,321.44 L444.57,322.25 L444.78,323.04 L445.00,323.87 L445.22,324.68 L445.43,325.50 L445.65,326.31 L445.87,327.12 L446.10,327.93 L446.32,328.74 L446.55,329.56 L446.78,330.37 L447.01,331.18 L447.24,331.99 L447.48,332.80 L447.72,333.62 L447.96,334.43 L448.20,335.24 L448.44,336.05 L448.68,336.85 L448.94,337.68 L449.19,338.49 L449.44,339.30 L449.70,340.11 L449.96,340.92 L450.22,341.74 L450.48,342.55 L450.75,343.36 L451.02,344.16 L451.29,344.98 L451.57,345.80 L451.83,346.57 L452.12,347.42 L452.41,348.23 L452.69,349.04 L452.98,349.86 L453.27,350.67 L453.57,351.48 L453.87,352.29 L454.16,353.09 L454.45,353.86 L454.74,354.61 L455.04,355.39 L455.33,356.14 L455.64,356.93 L455.96,357.74 L456.26,358.50 L456.56,359.25 L456.89,360.06 L457.23,360.88 L457.54,361.62 L457.86,362.38 L458.18,363.13 L458.51,363.89 L458.87,364.70 L459.23,365.52 L459.58,366.30 L459.93,367.07 L460.28,367.84 L460.63,368.59 L460.98,369.33 L461.33,370.07 L461.68,370.80 L462.04,371.55 L462.43,372.34 L462.84,373.16 L463.25,373.97 L463.62,374.68 L464.01,375.44 L464.40,376.19 L464.82,376.98 L465.21,377.70 L465.64,378.48 L466.04,379.20 L466.46,379.94 L466.86,380.66 L467.27,381.37 L467.68,382.07 L468.09,382.76 L468.53,383.50 L468.95,384.19 L469.38,384.89 L469.81,385.58 L470.24,386.26 L470.70,386.98 L471.15,387.67 L471.61,388.37 L472.08,389.06 L472.55,389.76 L473.03,390.46 L473.51,391.14 L473.97,391.80 L474.50,392.53 L475.01,393.24 L475.53,393.94 L476.01,394.58 L476.50,395.21 L477.00,395.86 L477.53,396.53 L478.05,397.18 L478.57,397.83 L479.09,398.46 L479.62,399.10 L480.15,399.71 L480.67,400.32 L481.25,400.99 L481.79,401.59 L482.36,402.22 L482.94,402.85 L483.50,403.45 L484.11,404.09 L484.69,404.69 L485.27,405.28 L485.86,405.87 L486.44,406.44 L487.02,407.00 L487.61,407.56 L488.25,408.16 L488.89,408.75 L489.53,409.33 L490.17,409.90 L490.81,410.46 L491.43,410.99 L492.09,411.54 L492.73,412.07 L493.37,412.60 L494.01,413.11 L494.66,413.61 L495.30,414.10 L495.94,414.59 L496.64,415.11 L497.34,415.62 L497.99,416.09 L498.65,416.56 L499.32,417.02 L500.00,417.48 L500.70,417.95 L501.41,418.41 L502.11,418.87 L502.81,419.31 L503.51,419.74 L504.21,420.16 L504.91,420.58 L505.61,420.99 L506.31,421.39 L507.01,421.79 L507.76,422.21 L508.52,422.62 L509.28,423.02 L510.00,423.40 L510.74,423.78 L511.49,424.16 L512.25,424.53 L513.01,424.90 L513.77,425.26 L514.52,425.60 L515.28,425.95 L516.04,426.29 L516.80,426.62 L517.55,426.95 L518.31,427.27 L519.06,427.58 L519.83,427.89 L520.58,428.19 L521.34,428.48 L522.10,428.77 L522.86,429.06 L523.61,429.34 L524.37,429.61 L525.13,429.88 L525.88,430.14 L526.64,430.40 L527.46,430.67 L528.27,430.93 L529.09,431.20 L529.91,431.45 L530.72,431.70 L531.54,431.95 L532.35,432.19 L533.17,432.42 L533.98,432.65 L534.80,432.88 L535.62,433.10 L536.43,433.31 L537.25,433.52 L538.03,433.72 L538.82,433.92 L539.64,434.12 L540.45,434.31 L541.27,434.51 L542.08,434.69 L542.90,434.88 L543.71,435.05 L544.53,435.23 L545.35,435.40 L546.16,435.57 L546.98,435.74 L547.79,435.90 L548.61,436.06 L549.42,436.21 L550.24,436.36 L551.04,436.51 L551.87,436.66 L552.69,436.80 L553.50,436.94 L554.32,437.07 L555.11,437.20 L555.95,437.34 L556.77,437.47 L557.58,437.59 L558.40,437.71 L559.21,437.83 L560.03,437.95 L560.84,438.07 L561.66,438.18 L562.48,438.29 L563.29,438.40 L564.11,438.50 L564.92,438.61 L565.74,438.71 L566.55,438.81 L567.37,438.91 L568.19,439.00 L569.00,439.09 L569.82,439.18 L570.63,439.27 L571.45,439.36 L572.26,439.45 L573.08,439.53 L573.89,439.61 L574.71,439.69 L575.53,439.77 L576.34,439.85 L577.16,439.92 L577.97,439.99 L578.79,440.07 L579.60,440.14 L580.42,440.20 L581.24,440.27 L582.05,440.34 L582.87,440.40 L583.68,440.46 L584.50,440.53 L585.31,440.59 L586.13,440.65 L586.95,440.70 L587.76,440.76 L588.58,440.81 L589.39,440.87 L590.21,440.92 L591.02,440.97 L591.84,441.02 L592.66,441.07 L593.47,441.12 L594.29,441.17 L595.10,441.21 L595.92,441.26 L596.73,441.30 L597.55,441.34 L598.37,441.39 L599.18,441.43 L600.00,441.47 L600.81,441.51 L601.63,441.55 L602.44,441.58 L603.26,441.62 L604.08,441.66 L604.89,441.69 L605.71,441.72 L606.52,441.76 L607.34,441.79 L608.15,441.82 L608.97,441.85 L609.79,441.88 L610.60,441.91 L611.42,441.94 L612.00,441.96" fill="none" stroke="#fff" stroke-width="1" stroke-opacity="0.92"/><path d="M472.03,319.00 L472.40,319.76 L472.76,320.51 L473.16,321.30 L473.56,322.12 L473.97,322.92 L474.34,323.64 L474.73,324.39 L475.12,325.15 L475.54,325.94 L475.93,326.66 L476.36,327.45 L476.75,328.16 L477.18,328.92 L477.58,329.65 L477.99,330.36 L478.40,331.06 L478.80,331.76 L479.21,332.46 L479.63,333.15 L480.05,333.85 L480.48,334.54 L480.90,335.23 L481.35,335.94 L481.79,336.63 L482.24,337.33 L482.70,338.02 L483.16,338.72 L483.63,339.42 L484.10,340.11 L484.58,340.80 L485.04,341.47 L485.51,342.13 L485.98,342.78 L486.48,343.48 L486.96,344.13 L487.49,344.83 L488.01,345.52 L488.54,346.20 L489.04,346.84 L489.59,347.53 L490.11,348.19 L490.62,348.81 L491.16,349.46 L491.68,350.09 L492.21,350.70 L492.73,351.31 L493.29,351.94 L493.84,352.56 L494.42,353.20 L494.97,353.80 L495.53,354.40 L496.11,355.01 L496.69,355.62 L497.28,356.21 L497.86,356.80 L498.44,357.38 L499.03,357.95 L499.61,358.51 L500.19,359.06 L500.83,359.65 L501.47,360.24 L502.11,360.82 L502.75,361.38 L503.37,361.92 L504.04,362.49 L504.68,363.02 L505.31,363.54 L505.96,364.07 L506.60,364.59 L507.24,365.09 L507.88,365.58 L508.52,366.07 L509.18,366.56 L509.86,367.06 L510.56,367.57 L511.26,368.06 L511.94,368.53 L512.60,368.98 L513.30,369.45 L514.00,369.91 L514.70,370.37 L515.40,370.81 L516.10,371.25 L516.80,371.68 L517.49,372.10 L518.19,372.51 L518.89,372.92 L519.59,373.31 L520.29,373.71 L521.01,374.10 L521.75,374.50 L522.51,374.90 L523.26,375.29 L524.02,375.68 L524.78,376.06 L525.52,376.42 L526.24,376.77 L526.98,377.12 L527.73,377.46 L528.50,377.81 L529.26,378.15 L530.02,378.48 L530.78,378.81 L531.54,379.13 L532.29,379.44 L533.05,379.75 L533.81,380.05 L534.57,380.34 L535.32,380.63 L536.08,380.91 L536.84,381.19 L537.60,381.46 L538.35,381.73 L539.11,381.99 L539.93,382.27 L540.74,382.54 L541.54,382.80 L542.32,383.05 L543.13,383.30 L543.95,383.55 L544.76,383.80 L545.58,384.03 L546.39,384.27 L547.21,384.50 L548.03,384.72 L548.84,384.94 L549.66,385.16 L550.47,385.37 L551.29,385.58 L552.10,385.78 L552.92,385.98 L553.71,386.16 L554.49,386.35 L555.31,386.53 L556.12,386.72 L556.94,386.89 L557.76,387.07 L558.57,387.24 L559.39,387.41 L560.20,387.57 L561.02,387.73 L561.83,387.89 L562.65,388.04 L563.47,388.19 L564.28,388.34 L565.09,388.48 L565.91,388.63 L566.73,388.76 L567.54,388.90 L568.36,389.03 L569.18,389.16 L569.99,389.29 L570.80,389.41 L571.62,389.53 L572.44,389.65 L573.25,389.77 L574.07,389.88 L574.89,390.00 L575.70,390.10 L576.52,390.21 L577.33,390.32 L578.15,390.42 L578.96,390.52 L579.78,390.61 L580.60,390.71 L581.41,390.80 L582.23,390.90 L583.04,390.99 L583.86,391.07 L584.67,391.16 L585.49,391.24 L586.31,391.32 L587.12,391.40 L587.94,391.48 L588.75,391.56 L589.57,391.63 L590.38,391.71 L591.20,391.78 L592.00,391.85 L592.83,391.92 L593.65,391.98 L594.46,392.05 L595.28,392.11 L596.09,392.18 L596.91,392.24 L597.73,392.30 L598.54,392.36 L599.36,392.41 L600.17,392.47 L600.99,392.52 L601.80,392.58 L602.62,392.63 L603.44,392.68 L604.25,392.73 L605.07,392.78 L605.88,392.83 L606.70,392.87 L607.51,392.92 L608.33,392.96 L609.15,393.01 L609.96,393.05 L610.78,393.09 L611.59,393.13 L612.00,393.15" fill="none" stroke="#fff" stroke-width="1" stroke-opacity="0.92"/><path d="M519.82,319.00 L520.52,319.50 L521.22,320.00 L521.92,320.48 L522.62,320.95 L523.32,321.42 L524.02,321.88 L524.72,322.33 L525.42,322.77 L526.12,323.20 L526.82,323.63 L527.52,324.04 L528.21,324.45 L528.91,324.86 L529.61,325.25 L530.31,325.64 L531.07,326.06 L531.83,326.46 L532.59,326.86 L533.31,327.24 L534.04,327.61 L534.80,327.98 L535.56,328.35 L536.31,328.71 L537.07,329.07 L537.83,329.42 L538.59,329.76 L539.34,330.09 L540.10,330.42 L540.86,330.75 L541.62,331.06 L542.37,331.37 L543.13,331.68 L543.89,331.97 L544.65,332.27 L545.40,332.55 L546.16,332.83 L546.92,333.11 L547.68,333.38 L548.43,333.65 L549.19,333.91 L550.01,334.18 L550.82,334.45 L551.64,334.71 L552.45,334.97 L553.27,335.22 L554.09,335.47 L554.87,335.70 L555.66,335.93 L556.47,336.16 L557.29,336.39 L558.11,336.61 L558.92,336.83 L559.74,337.05 L560.55,337.25 L561.37,337.46 L562.18,337.66 L563.00,337.86 L563.82,338.05 L564.63,338.24 L565.45,338.42 L566.26,338.60 L567.08,338.78 L567.89,338.95 L568.71,339.12 L569.53,339.28 L570.34,339.44 L571.16,339.60 L571.97,339.76 L572.79,339.91 L573.60,340.06 L574.42,340.20 L575.24,340.34 L576.05,340.48 L576.87,340.62 L577.68,340.75 L578.50,340.88 L579.31,341.01 L580.13,341.13 L580.94,341.25 L581.76,341.37 L582.58,341.49 L583.39,341.60 L584.21,341.71 L585.02,341.82 L585.84,341.93 L586.65,342.03 L587.47,342.14 L588.29,342.24 L589.10,342.33 L589.92,342.43 L590.73,342.52 L591.55,342.61 L592.36,342.70 L593.18,342.79 L594.00,342.88 L594.81,342.96 L595.63,343.04 L596.44,343.12 L597.26,343.20 L598.07,343.27 L598.89,343.35 L599.71,343.42 L600.52,343.49 L601.34,343.56 L602.15,343.63 L602.97,343.70 L603.78,343.76 L604.60,343.83 L605.42,343.89 L606.23,343.95 L607.05,344.01 L607.86,344.07 L608.68,344.12 L609.49,344.18 L610.31,344.23 L611.13,344.28 L611.94,344.34 L612.00,344.34" fill="none" stroke="#fff" stroke-width="1" stroke-opacity="0.92"/><text x="583.4" y="329.6" font-size="10.85" text-anchor="middle" dominant-baseline="central" fill="#161616" stroke="#161616" stroke-width="0.18" transform="rotate(0 583.4 329.6)">US$0.9 T</text><text x="575.0" y="380.0" font-size="10.35" text-anchor="middle" dominant-baseline="central" fill="#161616" stroke="#161616" stroke-width="0.18" transform="rotate(0 575.0 380.0)">US$0.7 T</text><text x="550.3" y="422.9" font-size="10.75" text-anchor="middle" dominant-baseline="central" fill="#161616" stroke="#161616" stroke-width="0.18" transform="rotate(0 550.3 422.9)">US$0.5 T</text><text x="479.0" y="456.7" font-size="10.87" text-anchor="middle" dominant-baseline="central" fill="#161616" stroke="#161616" stroke-width="0.18" transform="rotate(0 479.0 456.7)">US$0.4T</text><text x="435.6" y="498.0" font-size="10.65" text-anchor="middle" dominant-baseline="central" fill="#161616" stroke="#161616" stroke-width="0.18" transform="rotate(0 435.6 498.0)">US$0.2 T</text><rect x="379.5" y="319.5" width="232" height="231" fill="none" stroke="#000" stroke-opacity="0.6" stroke-width="1"/><line x1="374" y1="550.5" x2="379" y2="550.5" stroke="#4d4d4d" stroke-width="1"/><text x="369" y="550.2" font-size="11" letter-spacing="0.45" text-anchor="end" dominant-baseline="central" fill="#1a1a1a">0</text><line x1="374" y1="504.5" x2="379" y2="504.5" stroke="#4d4d4d" stroke-width="1"/><text x="369" y="503.8" font-size="11" letter-spacing="0.45" text-anchor="end" dominant-baseline="central" fill="#1a1a1a">200</text><line x1="374" y1="458.5" x2="379" y2="458.5" stroke="#4d4d4d" stroke-width="1"/><text x="369" y="457.4" font-size="11" letter-spacing="0.45" text-anchor="end" dominant-baseline="central" fill="#1a1a1a">400</text><line x1="374" y1="411.5" x2="379" y2="411.5" stroke="#4d4d4d" stroke-width="1"/><text x="369" y="411.0" font-size="11" letter-spacing="0.45" text-anchor="end" dominant-baseline="central" fill="#1a1a1a">600</text><line x1="374" y1="365.5" x2="379" y2="365.5" stroke="#4d4d4d" stroke-width="1"/><text x="369" y="364.6" font-size="11" letter-spacing="0.45" text-anchor="end" dominant-baseline="central" fill="#1a1a1a">800</text><line x1="374" y1="319.5" x2="379" y2="319.5" stroke="#4d4d4d" stroke-width="1"/><text x="369" y="318.2" font-size="11" letter-spacing="0.45" text-anchor="end" dominant-baseline="central" fill="#1a1a1a">1,000</text><line x1="398.5" y1="551" x2="398.5" y2="556" stroke="#4d4d4d" stroke-width="1"/><text x="398.6" y="570" font-size="11" letter-spacing="0.35" text-anchor="middle" fill="#1a1a1a">10</text><line x1="437.5" y1="551" x2="437.5" y2="556" stroke="#4d4d4d" stroke-width="1"/><text x="437.4" y="570" font-size="11" letter-spacing="0.35" text-anchor="middle" fill="#1a1a1a">20</text><line x1="476.5" y1="551" x2="476.5" y2="556" stroke="#4d4d4d" stroke-width="1"/><text x="476.3" y="570" font-size="11" letter-spacing="0.35" text-anchor="middle" fill="#1a1a1a">30</text><line x1="514.5" y1="551" x2="514.5" y2="556" stroke="#4d4d4d" stroke-width="1"/><text x="515.1" y="570" font-size="11" letter-spacing="0.35" text-anchor="middle" fill="#1a1a1a">40</text><line x1="553.5" y1="551" x2="553.5" y2="556" stroke="#4d4d4d" stroke-width="1"/><text x="554.0" y="570" font-size="11" letter-spacing="0.35" text-anchor="middle" fill="#1a1a1a">50</text><line x1="592.5" y1="551" x2="592.5" y2="556" stroke="#4d4d4d" stroke-width="1"/><text x="592.8" y="570" font-size="11" letter-spacing="0.35" text-anchor="middle" fill="#1a1a1a">60</text><text x="495.5" y="589.3" font-size="13" text-anchor="middle" fill="#1a1a1a">Operating lifespan (years)</text><text x="326.7" y="435.0" font-size="13" text-anchor="middle" fill="#1a1a1a" transform="rotate(-90 326.7 435.0)">Carbon price (US$ per tCO<tspan font-size="9.5" dy="3.6">2</tspan><tspan dy="-3.6">)</tspan></text><text x="0" y="13.1" font-size="17.5" font-weight="bold" fill="#000" stroke="#000" stroke-width="0.45">a</text><text x="316.5" y="13.1" font-size="17.5" font-weight="bold" fill="#000" stroke="#000" stroke-width="0.45">b</text><text x="0.5" y="318.4" font-size="17.5" font-weight="bold" fill="#000" stroke="#000" stroke-width="0.45">c</text><text x="316.5" y="317.8" font-size="17.5" font-weight="bold" fill="#000" stroke="#000" stroke-width="0.45">d</text><text x="179.3" y="9.8" font-size="12.5" text-anchor="middle" fill="#1a1a1a">Coal</text><text x="494" y="9.8" font-size="12.5" text-anchor="middle" fill="#1a1a1a">Gas</text><rect x="623.5" y="18.5" width="18" height="231" fill="none" stroke="#000" stroke-opacity="0.75" stroke-width="1"/><line x1="639" y1="249.5" x2="642" y2="249.5" stroke="#4d4d4d" stroke-width="1"/><text x="648" y="249.0" font-size="11" dominant-baseline="central" fill="#1a1a1a">0</text><line x1="639" y1="203.5" x2="642" y2="203.5" stroke="#4d4d4d" stroke-width="1"/><text x="648" y="202.6" font-size="11" dominant-baseline="central" fill="#1a1a1a">0.5</text><line x1="639" y1="157.5" x2="642" y2="157.5" stroke="#4d4d4d" stroke-width="1"/><text x="648" y="156.2" font-size="11" dominant-baseline="central" fill="#1a1a1a">1.0</text><line x1="639" y1="110.5" x2="642" y2="110.5" stroke="#4d4d4d" stroke-width="1"/><text x="648" y="109.8" font-size="11" dominant-baseline="central" fill="#1a1a1a">1.5</text><line x1="639" y1="64.5" x2="642" y2="64.5" stroke="#4d4d4d" stroke-width="1"/><text x="648" y="63.4" font-size="11" dominant-baseline="central" fill="#1a1a1a">2.0</text><line x1="639" y1="18.5" x2="642" y2="18.5" stroke="#4d4d4d" stroke-width="1"/><text x="648" y="17.0" font-size="11" dominant-baseline="central" fill="#1a1a1a">2.5</text><text x="675.3" y="134.0" font-size="12.9" text-anchor="middle" fill="#1a1a1a" transform="rotate(90 675.3 134.0)">Stranded assets (trillions US$)</text><rect x="623.5" y="319.5" width="18" height="231" fill="none" stroke="#000" stroke-opacity="0.75" stroke-width="1"/><line x1="639" y1="550.5" x2="642" y2="550.5" stroke="#4d4d4d" stroke-width="1"/><text x="648" y="550.0" font-size="11" dominant-baseline="central" fill="#1a1a1a">0</text><line x1="639" y1="504.5" x2="642" y2="504.5" stroke="#4d4d4d" stroke-width="1"/><text x="648" y="503.6" font-size="11" dominant-baseline="central" fill="#1a1a1a">0.4</text><line x1="639" y1="458.5" x2="642" y2="458.5" stroke="#4d4d4d" stroke-width="1"/><text x="648" y="457.2" font-size="11" dominant-baseline="central" fill="#1a1a1a">0.8</text><line x1="639" y1="411.5" x2="642" y2="411.5" stroke="#4d4d4d" stroke-width="1"/><text x="648" y="410.8" font-size="11" dominant-baseline="central" fill="#1a1a1a">1.2</text><line x1="639" y1="365.5" x2="642" y2="365.5" stroke="#4d4d4d" stroke-width="1"/><text x="648" y="364.4" font-size="11" dominant-baseline="central" fill="#1a1a1a">1.6</text><line x1="639" y1="319.5" x2="642" y2="319.5" stroke="#4d4d4d" stroke-width="1"/><text x="648" y="318.0" font-size="11" dominant-baseline="central" fill="#1a1a1a">2.0</text><text x="675.3" y="435.0" font-size="12.9" text-anchor="middle" fill="#1a1a1a" transform="rotate(90 675.3 435.0)">Stranded assets (trillions US$)</text></svg></body></html>
